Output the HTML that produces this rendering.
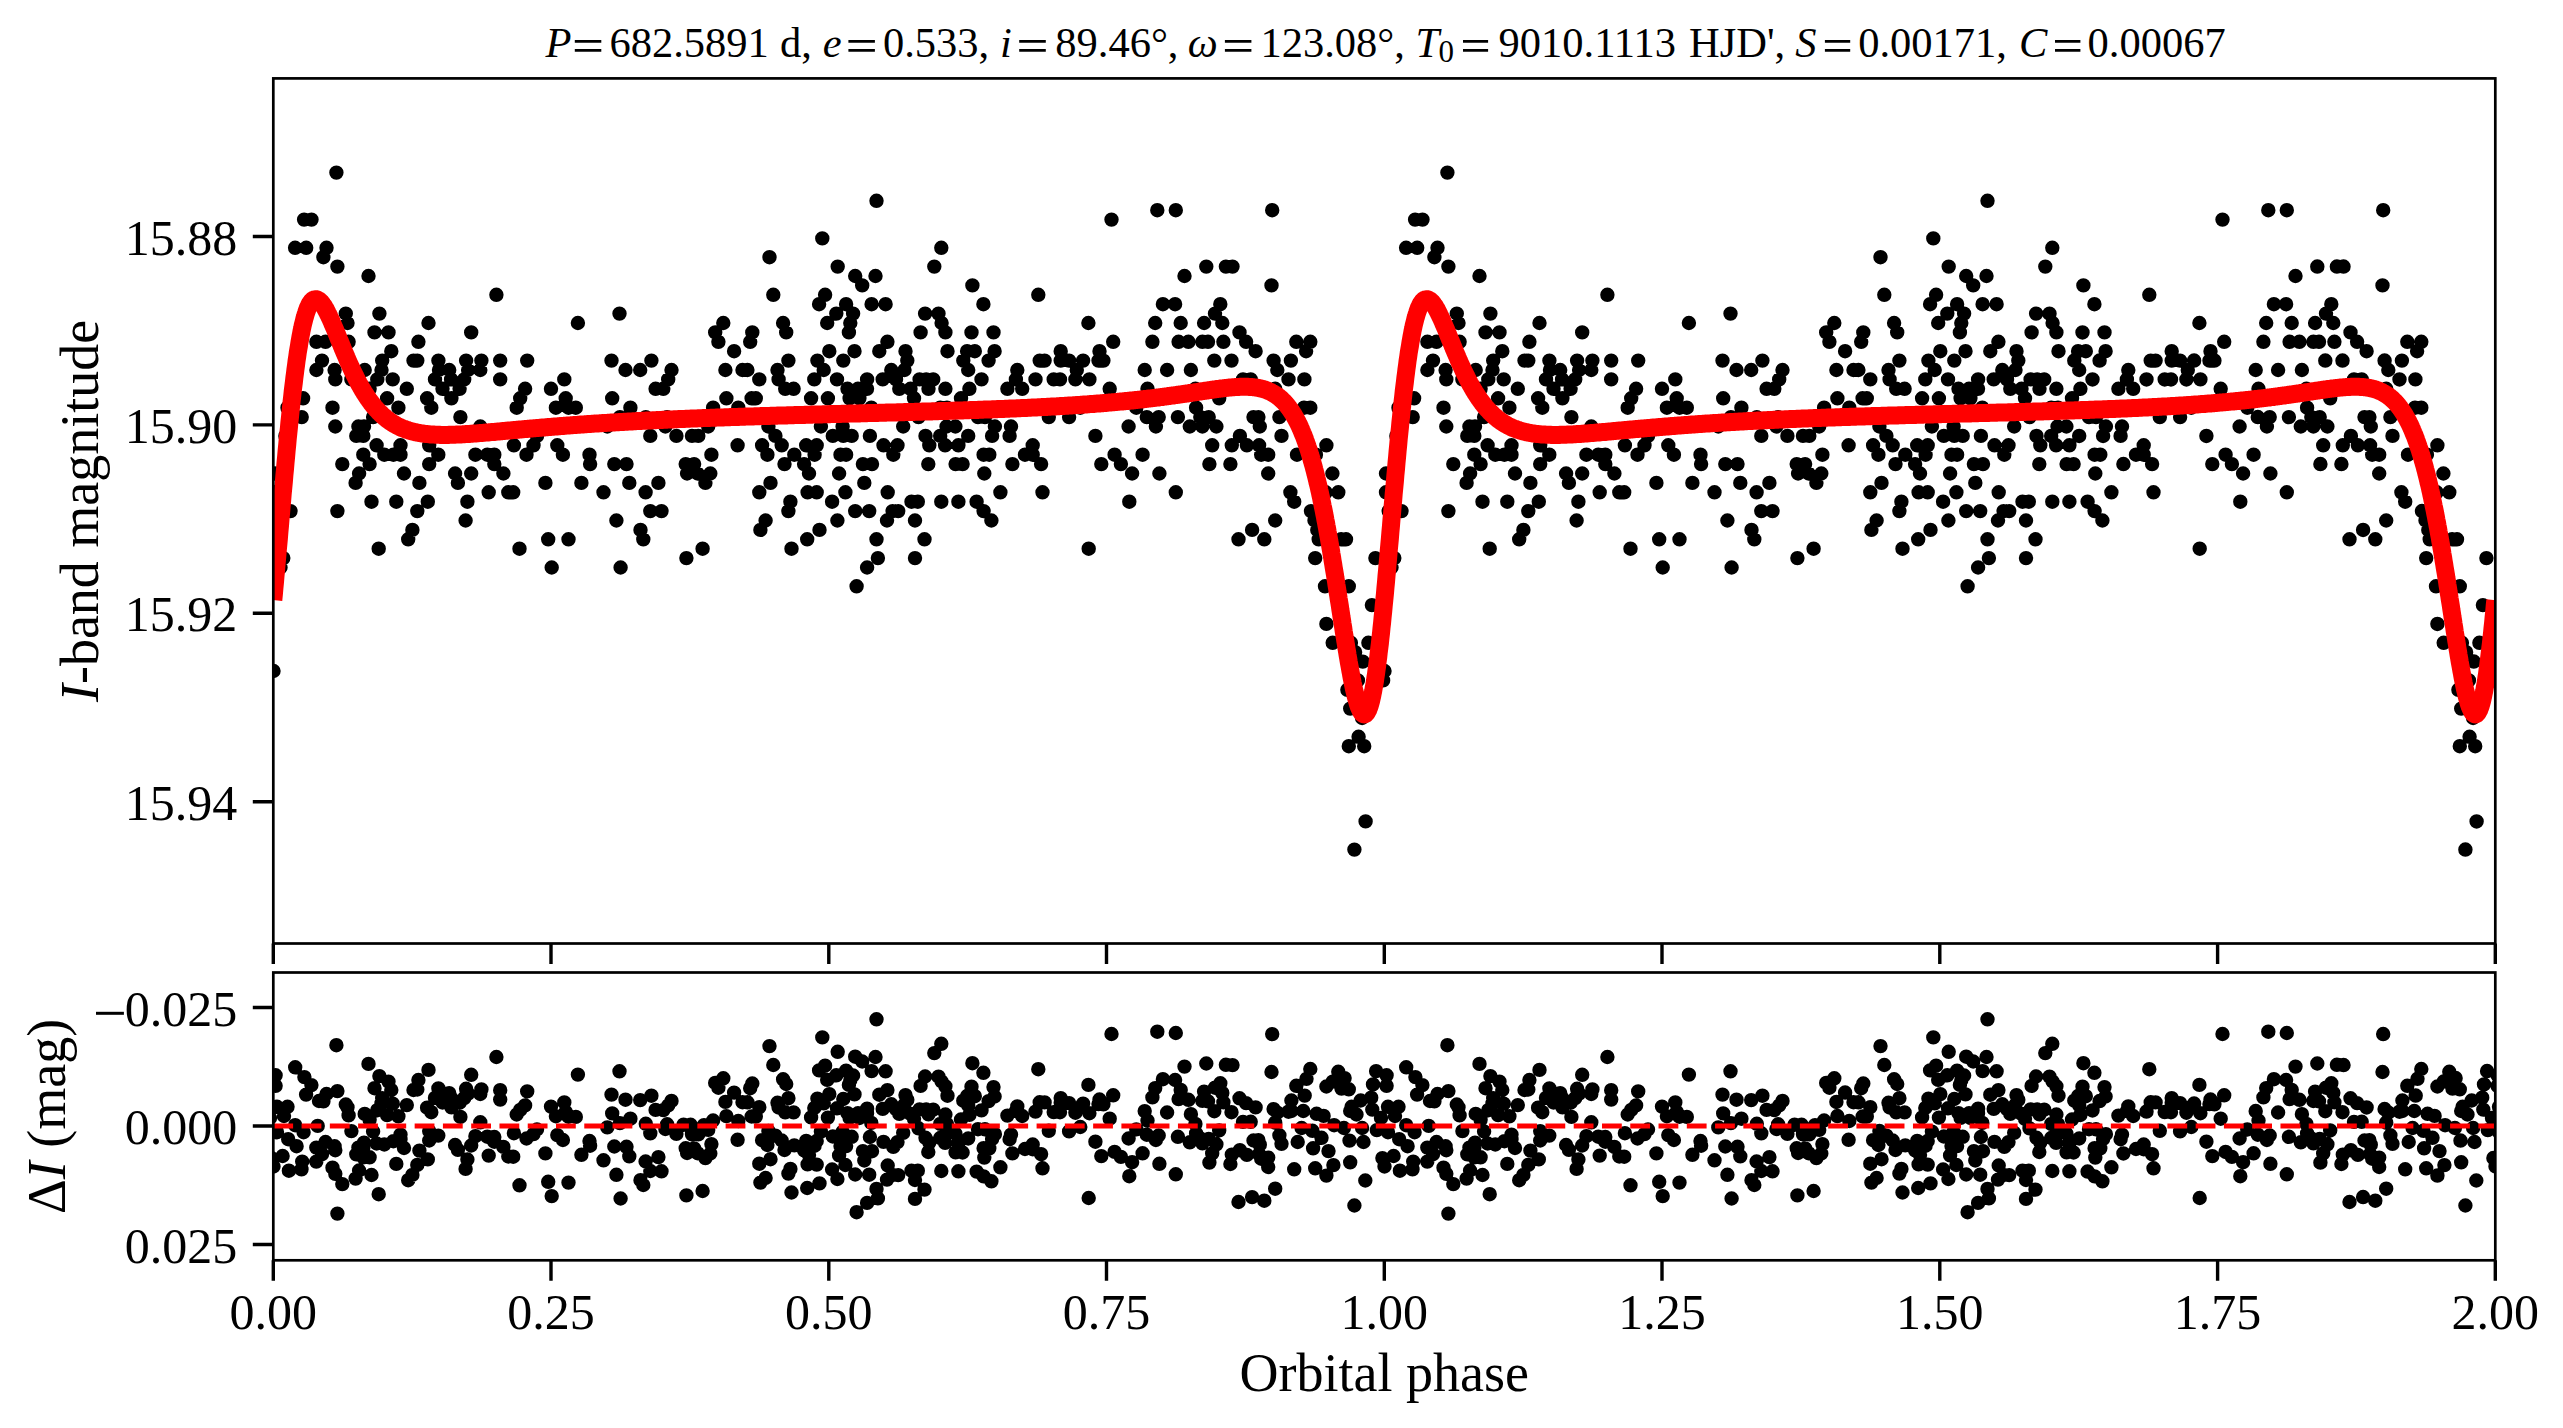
<!DOCTYPE html><html><head><meta charset="utf-8"><style>html,body{margin:0;padding:0;background:#fff;}svg{display:block}</style></head><body>
<svg width="2563" height="1428" viewBox="0 0 2563 1428" font-family="Liberation Serif">
<defs><clipPath id="ct"><rect x="273.3" y="78.4" width="2222.0" height="865.1"/></clipPath><clipPath id="cb"><rect x="273.3" y="972.5" width="2222.0" height="287.79999999999995"/></clipPath></defs>
<rect width="2563" height="1428" fill="#fff"/>
<path clip-path="url(#ct)" fill="#000" d="M329.2 172.6a7.2 7.2 0 1 0 14.4 0a7.2 7.2 0 1 0 -14.4 0M296.9 219.6a7.2 7.2 0 1 0 14.4 0a7.2 7.2 0 1 0 -14.4 0M304.3 219.6a7.2 7.2 0 1 0 14.4 0a7.2 7.2 0 1 0 -14.4 0M287.9 247.8a7.2 7.2 0 1 0 14.4 0a7.2 7.2 0 1 0 -14.4 0M299.0 247.8a7.2 7.2 0 1 0 14.4 0a7.2 7.2 0 1 0 -14.4 0M319.3 247.8a7.2 7.2 0 1 0 14.4 0a7.2 7.2 0 1 0 -14.4 0M316.2 257.2a7.2 7.2 0 1 0 14.4 0a7.2 7.2 0 1 0 -14.4 0M330.2 266.6a7.2 7.2 0 1 0 14.4 0a7.2 7.2 0 1 0 -14.4 0M361.3 276.0a7.2 7.2 0 1 0 14.4 0a7.2 7.2 0 1 0 -14.4 0M489.2 294.8a7.2 7.2 0 1 0 14.4 0a7.2 7.2 0 1 0 -14.4 0M338.6 313.6a7.2 7.2 0 1 0 14.4 0a7.2 7.2 0 1 0 -14.4 0M372.2 313.6a7.2 7.2 0 1 0 14.4 0a7.2 7.2 0 1 0 -14.4 0M340.3 323.0a7.2 7.2 0 1 0 14.4 0a7.2 7.2 0 1 0 -14.4 0M421.3 323.0a7.2 7.2 0 1 0 14.4 0a7.2 7.2 0 1 0 -14.4 0M367.3 332.4a7.2 7.2 0 1 0 14.4 0a7.2 7.2 0 1 0 -14.4 0M381.3 332.4a7.2 7.2 0 1 0 14.4 0a7.2 7.2 0 1 0 -14.4 0M464.0 332.4a7.2 7.2 0 1 0 14.4 0a7.2 7.2 0 1 0 -14.4 0M309.2 341.8a7.2 7.2 0 1 0 14.4 0a7.2 7.2 0 1 0 -14.4 0M318.3 341.8a7.2 7.2 0 1 0 14.4 0a7.2 7.2 0 1 0 -14.4 0M341.4 341.8a7.2 7.2 0 1 0 14.4 0a7.2 7.2 0 1 0 -14.4 0M411.2 341.8a7.2 7.2 0 1 0 14.4 0a7.2 7.2 0 1 0 -14.4 0M384.1 351.2a7.2 7.2 0 1 0 14.4 0a7.2 7.2 0 1 0 -14.4 0M570.7 323.0a7.2 7.2 0 1 0 14.4 0a7.2 7.2 0 1 0 -14.4 0M612.3 313.6a7.2 7.2 0 1 0 14.4 0a7.2 7.2 0 1 0 -14.4 0M815.1 238.4a7.2 7.2 0 1 0 14.4 0a7.2 7.2 0 1 0 -14.4 0M762.3 257.2a7.2 7.2 0 1 0 14.4 0a7.2 7.2 0 1 0 -14.4 0M830.5 266.6a7.2 7.2 0 1 0 14.4 0a7.2 7.2 0 1 0 -14.4 0M848.0 276.0a7.2 7.2 0 1 0 14.4 0a7.2 7.2 0 1 0 -14.4 0M855.0 285.4a7.2 7.2 0 1 0 14.4 0a7.2 7.2 0 1 0 -14.4 0M766.1 294.8a7.2 7.2 0 1 0 14.4 0a7.2 7.2 0 1 0 -14.4 0M817.9 294.8a7.2 7.2 0 1 0 14.4 0a7.2 7.2 0 1 0 -14.4 0M811.9 304.2a7.2 7.2 0 1 0 14.4 0a7.2 7.2 0 1 0 -14.4 0M838.9 304.2a7.2 7.2 0 1 0 14.4 0a7.2 7.2 0 1 0 -14.4 0M829.1 313.6a7.2 7.2 0 1 0 14.4 0a7.2 7.2 0 1 0 -14.4 0M845.9 313.6a7.2 7.2 0 1 0 14.4 0a7.2 7.2 0 1 0 -14.4 0M716.1 323.0a7.2 7.2 0 1 0 14.4 0a7.2 7.2 0 1 0 -14.4 0M775.9 323.0a7.2 7.2 0 1 0 14.4 0a7.2 7.2 0 1 0 -14.4 0M820.0 323.0a7.2 7.2 0 1 0 14.4 0a7.2 7.2 0 1 0 -14.4 0M843.1 323.0a7.2 7.2 0 1 0 14.4 0a7.2 7.2 0 1 0 -14.4 0M708.0 332.4a7.2 7.2 0 1 0 14.4 0a7.2 7.2 0 1 0 -14.4 0M745.1 332.4a7.2 7.2 0 1 0 14.4 0a7.2 7.2 0 1 0 -14.4 0M779.0 332.4a7.2 7.2 0 1 0 14.4 0a7.2 7.2 0 1 0 -14.4 0M841.7 332.4a7.2 7.2 0 1 0 14.4 0a7.2 7.2 0 1 0 -14.4 0M711.2 341.8a7.2 7.2 0 1 0 14.4 0a7.2 7.2 0 1 0 -14.4 0M743.0 341.8a7.2 7.2 0 1 0 14.4 0a7.2 7.2 0 1 0 -14.4 0M726.9 351.2a7.2 7.2 0 1 0 14.4 0a7.2 7.2 0 1 0 -14.4 0M822.1 351.2a7.2 7.2 0 1 0 14.4 0a7.2 7.2 0 1 0 -14.4 0M847.3 351.2a7.2 7.2 0 1 0 14.4 0a7.2 7.2 0 1 0 -14.4 0M869.3 200.8a7.2 7.2 0 1 0 14.4 0a7.2 7.2 0 1 0 -14.4 0M868.3 276.0a7.2 7.2 0 1 0 14.4 0a7.2 7.2 0 1 0 -14.4 0M864.4 304.2a7.2 7.2 0 1 0 14.4 0a7.2 7.2 0 1 0 -14.4 0M878.4 304.2a7.2 7.2 0 1 0 14.4 0a7.2 7.2 0 1 0 -14.4 0M934.1 247.8a7.2 7.2 0 1 0 14.4 0a7.2 7.2 0 1 0 -14.4 0M927.1 266.6a7.2 7.2 0 1 0 14.4 0a7.2 7.2 0 1 0 -14.4 0M965.2 285.4a7.2 7.2 0 1 0 14.4 0a7.2 7.2 0 1 0 -14.4 0M1031.1 294.8a7.2 7.2 0 1 0 14.4 0a7.2 7.2 0 1 0 -14.4 0M976.2 304.2a7.2 7.2 0 1 0 14.4 0a7.2 7.2 0 1 0 -14.4 0M1104.3 219.6a7.2 7.2 0 1 0 14.4 0a7.2 7.2 0 1 0 -14.4 0M1150.1 210.2a7.2 7.2 0 1 0 14.4 0a7.2 7.2 0 1 0 -14.4 0M917.9 313.6a7.2 7.2 0 1 0 14.4 0a7.2 7.2 0 1 0 -14.4 0M931.3 313.6a7.2 7.2 0 1 0 14.4 0a7.2 7.2 0 1 0 -14.4 0M934.4 323.0a7.2 7.2 0 1 0 14.4 0a7.2 7.2 0 1 0 -14.4 0M1081.2 323.0a7.2 7.2 0 1 0 14.4 0a7.2 7.2 0 1 0 -14.4 0M1148.0 323.0a7.2 7.2 0 1 0 14.4 0a7.2 7.2 0 1 0 -14.4 0M1155.7 304.2a7.2 7.2 0 1 0 14.4 0a7.2 7.2 0 1 0 -14.4 0M913.4 332.4a7.2 7.2 0 1 0 14.4 0a7.2 7.2 0 1 0 -14.4 0M938.2 332.4a7.2 7.2 0 1 0 14.4 0a7.2 7.2 0 1 0 -14.4 0M964.3 332.4a7.2 7.2 0 1 0 14.4 0a7.2 7.2 0 1 0 -14.4 0M986.3 332.4a7.2 7.2 0 1 0 14.4 0a7.2 7.2 0 1 0 -14.4 0M880.2 341.8a7.2 7.2 0 1 0 14.4 0a7.2 7.2 0 1 0 -14.4 0M1106.0 341.8a7.2 7.2 0 1 0 14.4 0a7.2 7.2 0 1 0 -14.4 0M1145.2 341.8a7.2 7.2 0 1 0 14.4 0a7.2 7.2 0 1 0 -14.4 0M872.1 351.2a7.2 7.2 0 1 0 14.4 0a7.2 7.2 0 1 0 -14.4 0M898.3 351.2a7.2 7.2 0 1 0 14.4 0a7.2 7.2 0 1 0 -14.4 0M940.3 351.2a7.2 7.2 0 1 0 14.4 0a7.2 7.2 0 1 0 -14.4 0M959.9 351.2a7.2 7.2 0 1 0 14.4 0a7.2 7.2 0 1 0 -14.4 0M967.6 351.2a7.2 7.2 0 1 0 14.4 0a7.2 7.2 0 1 0 -14.4 0M987.4 351.2a7.2 7.2 0 1 0 14.4 0a7.2 7.2 0 1 0 -14.4 0M1053.5 351.2a7.2 7.2 0 1 0 14.4 0a7.2 7.2 0 1 0 -14.4 0M1092.3 351.2a7.2 7.2 0 1 0 14.4 0a7.2 7.2 0 1 0 -14.4 0M1168.6 210.2a7.2 7.2 0 1 0 14.4 0a7.2 7.2 0 1 0 -14.4 0M1265.0 210.2a7.2 7.2 0 1 0 14.4 0a7.2 7.2 0 1 0 -14.4 0M1177.3 276.0a7.2 7.2 0 1 0 14.4 0a7.2 7.2 0 1 0 -14.4 0M1199.1 266.6a7.2 7.2 0 1 0 14.4 0a7.2 7.2 0 1 0 -14.4 0M1218.7 266.6a7.2 7.2 0 1 0 14.4 0a7.2 7.2 0 1 0 -14.4 0M1225.3 266.6a7.2 7.2 0 1 0 14.4 0a7.2 7.2 0 1 0 -14.4 0M1264.3 285.4a7.2 7.2 0 1 0 14.4 0a7.2 7.2 0 1 0 -14.4 0M1167.9 304.2a7.2 7.2 0 1 0 14.4 0a7.2 7.2 0 1 0 -14.4 0M1213.1 304.2a7.2 7.2 0 1 0 14.4 0a7.2 7.2 0 1 0 -14.4 0M1207.8 313.6a7.2 7.2 0 1 0 14.4 0a7.2 7.2 0 1 0 -14.4 0M1173.5 323.0a7.2 7.2 0 1 0 14.4 0a7.2 7.2 0 1 0 -14.4 0M1196.9 323.0a7.2 7.2 0 1 0 14.4 0a7.2 7.2 0 1 0 -14.4 0M1215.1 323.0a7.2 7.2 0 1 0 14.4 0a7.2 7.2 0 1 0 -14.4 0M1232.3 332.4a7.2 7.2 0 1 0 14.4 0a7.2 7.2 0 1 0 -14.4 0M1171.4 341.8a7.2 7.2 0 1 0 14.4 0a7.2 7.2 0 1 0 -14.4 0M1181.2 341.8a7.2 7.2 0 1 0 14.4 0a7.2 7.2 0 1 0 -14.4 0M1195.2 341.8a7.2 7.2 0 1 0 14.4 0a7.2 7.2 0 1 0 -14.4 0M1200.8 341.8a7.2 7.2 0 1 0 14.4 0a7.2 7.2 0 1 0 -14.4 0M1216.2 341.8a7.2 7.2 0 1 0 14.4 0a7.2 7.2 0 1 0 -14.4 0M1238.9 341.8a7.2 7.2 0 1 0 14.4 0a7.2 7.2 0 1 0 -14.4 0M1248.4 351.2a7.2 7.2 0 1 0 14.4 0a7.2 7.2 0 1 0 -14.4 0M1289.1 341.8a7.2 7.2 0 1 0 14.4 0a7.2 7.2 0 1 0 -14.4 0M1303.1 341.8a7.2 7.2 0 1 0 14.4 0a7.2 7.2 0 1 0 -14.4 0M1298.9 351.2a7.2 7.2 0 1 0 14.4 0a7.2 7.2 0 1 0 -14.4 0M314.8 360.6a7.2 7.2 0 1 0 14.4 0a7.2 7.2 0 1 0 -14.4 0M375.0 360.6a7.2 7.2 0 1 0 14.4 0a7.2 7.2 0 1 0 -14.4 0M406.3 360.6a7.2 7.2 0 1 0 14.4 0a7.2 7.2 0 1 0 -14.4 0M410.1 360.6a7.2 7.2 0 1 0 14.4 0a7.2 7.2 0 1 0 -14.4 0M431.2 360.6a7.2 7.2 0 1 0 14.4 0a7.2 7.2 0 1 0 -14.4 0M458.9 360.6a7.2 7.2 0 1 0 14.4 0a7.2 7.2 0 1 0 -14.4 0M474.2 360.6a7.2 7.2 0 1 0 14.4 0a7.2 7.2 0 1 0 -14.4 0M493.0 360.6a7.2 7.2 0 1 0 14.4 0a7.2 7.2 0 1 0 -14.4 0M520.0 360.6a7.2 7.2 0 1 0 14.4 0a7.2 7.2 0 1 0 -14.4 0M309.2 370.0a7.2 7.2 0 1 0 14.4 0a7.2 7.2 0 1 0 -14.4 0M327.4 370.0a7.2 7.2 0 1 0 14.4 0a7.2 7.2 0 1 0 -14.4 0M357.5 370.0a7.2 7.2 0 1 0 14.4 0a7.2 7.2 0 1 0 -14.4 0M374.3 370.0a7.2 7.2 0 1 0 14.4 0a7.2 7.2 0 1 0 -14.4 0M431.8 370.0a7.2 7.2 0 1 0 14.4 0a7.2 7.2 0 1 0 -14.4 0M442.0 370.0a7.2 7.2 0 1 0 14.4 0a7.2 7.2 0 1 0 -14.4 0M460.9 370.0a7.2 7.2 0 1 0 14.4 0a7.2 7.2 0 1 0 -14.4 0M473.1 370.0a7.2 7.2 0 1 0 14.4 0a7.2 7.2 0 1 0 -14.4 0M328.1 379.4a7.2 7.2 0 1 0 14.4 0a7.2 7.2 0 1 0 -14.4 0M344.2 379.4a7.2 7.2 0 1 0 14.4 0a7.2 7.2 0 1 0 -14.4 0M370.1 379.4a7.2 7.2 0 1 0 14.4 0a7.2 7.2 0 1 0 -14.4 0M385.5 379.4a7.2 7.2 0 1 0 14.4 0a7.2 7.2 0 1 0 -14.4 0M427.8 379.4a7.2 7.2 0 1 0 14.4 0a7.2 7.2 0 1 0 -14.4 0M443.9 379.4a7.2 7.2 0 1 0 14.4 0a7.2 7.2 0 1 0 -14.4 0M457.0 379.4a7.2 7.2 0 1 0 14.4 0a7.2 7.2 0 1 0 -14.4 0M493.0 379.4a7.2 7.2 0 1 0 14.4 0a7.2 7.2 0 1 0 -14.4 0M557.1 379.4a7.2 7.2 0 1 0 14.4 0a7.2 7.2 0 1 0 -14.4 0M362.4 388.8a7.2 7.2 0 1 0 14.4 0a7.2 7.2 0 1 0 -14.4 0M399.6 388.8a7.2 7.2 0 1 0 14.4 0a7.2 7.2 0 1 0 -14.4 0M435.3 388.8a7.2 7.2 0 1 0 14.4 0a7.2 7.2 0 1 0 -14.4 0M452.4 388.8a7.2 7.2 0 1 0 14.4 0a7.2 7.2 0 1 0 -14.4 0M517.9 388.8a7.2 7.2 0 1 0 14.4 0a7.2 7.2 0 1 0 -14.4 0M543.8 388.8a7.2 7.2 0 1 0 14.4 0a7.2 7.2 0 1 0 -14.4 0M295.9 398.3a7.2 7.2 0 1 0 14.4 0a7.2 7.2 0 1 0 -14.4 0M379.9 398.3a7.2 7.2 0 1 0 14.4 0a7.2 7.2 0 1 0 -14.4 0M419.9 398.3a7.2 7.2 0 1 0 14.4 0a7.2 7.2 0 1 0 -14.4 0M444.2 398.3a7.2 7.2 0 1 0 14.4 0a7.2 7.2 0 1 0 -14.4 0M513.0 398.3a7.2 7.2 0 1 0 14.4 0a7.2 7.2 0 1 0 -14.4 0M558.5 398.3a7.2 7.2 0 1 0 14.4 0a7.2 7.2 0 1 0 -14.4 0M325.3 407.7a7.2 7.2 0 1 0 14.4 0a7.2 7.2 0 1 0 -14.4 0M391.2 407.7a7.2 7.2 0 1 0 14.4 0a7.2 7.2 0 1 0 -14.4 0M424.1 407.7a7.2 7.2 0 1 0 14.4 0a7.2 7.2 0 1 0 -14.4 0M509.5 407.7a7.2 7.2 0 1 0 14.4 0a7.2 7.2 0 1 0 -14.4 0M548.7 407.7a7.2 7.2 0 1 0 14.4 0a7.2 7.2 0 1 0 -14.4 0M561.3 407.7a7.2 7.2 0 1 0 14.4 0a7.2 7.2 0 1 0 -14.4 0M294.5 417.1a7.2 7.2 0 1 0 14.4 0a7.2 7.2 0 1 0 -14.4 0M365.9 417.1a7.2 7.2 0 1 0 14.4 0a7.2 7.2 0 1 0 -14.4 0M453.2 417.1a7.2 7.2 0 1 0 14.4 0a7.2 7.2 0 1 0 -14.4 0M328.1 426.5a7.2 7.2 0 1 0 14.4 0a7.2 7.2 0 1 0 -14.4 0M351.2 426.5a7.2 7.2 0 1 0 14.4 0a7.2 7.2 0 1 0 -14.4 0M356.8 426.5a7.2 7.2 0 1 0 14.4 0a7.2 7.2 0 1 0 -14.4 0M473.1 426.5a7.2 7.2 0 1 0 14.4 0a7.2 7.2 0 1 0 -14.4 0M349.1 435.9a7.2 7.2 0 1 0 14.4 0a7.2 7.2 0 1 0 -14.4 0M356.1 435.9a7.2 7.2 0 1 0 14.4 0a7.2 7.2 0 1 0 -14.4 0M529.8 435.9a7.2 7.2 0 1 0 14.4 0a7.2 7.2 0 1 0 -14.4 0M369.4 445.3a7.2 7.2 0 1 0 14.4 0a7.2 7.2 0 1 0 -14.4 0M393.3 445.3a7.2 7.2 0 1 0 14.4 0a7.2 7.2 0 1 0 -14.4 0M422.0 445.3a7.2 7.2 0 1 0 14.4 0a7.2 7.2 0 1 0 -14.4 0M506.7 445.3a7.2 7.2 0 1 0 14.4 0a7.2 7.2 0 1 0 -14.4 0M526.3 445.3a7.2 7.2 0 1 0 14.4 0a7.2 7.2 0 1 0 -14.4 0M550.1 445.3a7.2 7.2 0 1 0 14.4 0a7.2 7.2 0 1 0 -14.4 0M356.1 454.7a7.2 7.2 0 1 0 14.4 0a7.2 7.2 0 1 0 -14.4 0M377.1 454.7a7.2 7.2 0 1 0 14.4 0a7.2 7.2 0 1 0 -14.4 0M386.2 454.7a7.2 7.2 0 1 0 14.4 0a7.2 7.2 0 1 0 -14.4 0M393.3 454.7a7.2 7.2 0 1 0 14.4 0a7.2 7.2 0 1 0 -14.4 0M431.1 454.7a7.2 7.2 0 1 0 14.4 0a7.2 7.2 0 1 0 -14.4 0M468.2 454.7a7.2 7.2 0 1 0 14.4 0a7.2 7.2 0 1 0 -14.4 0M480.1 454.7a7.2 7.2 0 1 0 14.4 0a7.2 7.2 0 1 0 -14.4 0M487.1 454.7a7.2 7.2 0 1 0 14.4 0a7.2 7.2 0 1 0 -14.4 0M519.3 454.7a7.2 7.2 0 1 0 14.4 0a7.2 7.2 0 1 0 -14.4 0M555.7 454.7a7.2 7.2 0 1 0 14.4 0a7.2 7.2 0 1 0 -14.4 0M335.1 464.1a7.2 7.2 0 1 0 14.4 0a7.2 7.2 0 1 0 -14.4 0M362.4 464.1a7.2 7.2 0 1 0 14.4 0a7.2 7.2 0 1 0 -14.4 0M422.0 464.1a7.2 7.2 0 1 0 14.4 0a7.2 7.2 0 1 0 -14.4 0M487.1 464.1a7.2 7.2 0 1 0 14.4 0a7.2 7.2 0 1 0 -14.4 0M351.9 473.5a7.2 7.2 0 1 0 14.4 0a7.2 7.2 0 1 0 -14.4 0M396.8 473.5a7.2 7.2 0 1 0 14.4 0a7.2 7.2 0 1 0 -14.4 0M447.9 473.5a7.2 7.2 0 1 0 14.4 0a7.2 7.2 0 1 0 -14.4 0M464.0 473.5a7.2 7.2 0 1 0 14.4 0a7.2 7.2 0 1 0 -14.4 0M496.2 473.5a7.2 7.2 0 1 0 14.4 0a7.2 7.2 0 1 0 -14.4 0M348.4 482.9a7.2 7.2 0 1 0 14.4 0a7.2 7.2 0 1 0 -14.4 0M412.2 482.9a7.2 7.2 0 1 0 14.4 0a7.2 7.2 0 1 0 -14.4 0M450.7 482.9a7.2 7.2 0 1 0 14.4 0a7.2 7.2 0 1 0 -14.4 0M538.2 482.9a7.2 7.2 0 1 0 14.4 0a7.2 7.2 0 1 0 -14.4 0M481.5 492.3a7.2 7.2 0 1 0 14.4 0a7.2 7.2 0 1 0 -14.4 0M501.1 492.3a7.2 7.2 0 1 0 14.4 0a7.2 7.2 0 1 0 -14.4 0M506.0 492.3a7.2 7.2 0 1 0 14.4 0a7.2 7.2 0 1 0 -14.4 0M364.3 501.7a7.2 7.2 0 1 0 14.4 0a7.2 7.2 0 1 0 -14.4 0M389.1 501.7a7.2 7.2 0 1 0 14.4 0a7.2 7.2 0 1 0 -14.4 0M420.6 501.7a7.2 7.2 0 1 0 14.4 0a7.2 7.2 0 1 0 -14.4 0M460.2 501.7a7.2 7.2 0 1 0 14.4 0a7.2 7.2 0 1 0 -14.4 0M283.3 511.1a7.2 7.2 0 1 0 14.4 0a7.2 7.2 0 1 0 -14.4 0M330.2 511.1a7.2 7.2 0 1 0 14.4 0a7.2 7.2 0 1 0 -14.4 0M410.1 511.1a7.2 7.2 0 1 0 14.4 0a7.2 7.2 0 1 0 -14.4 0M458.4 520.5a7.2 7.2 0 1 0 14.4 0a7.2 7.2 0 1 0 -14.4 0M405.2 529.9a7.2 7.2 0 1 0 14.4 0a7.2 7.2 0 1 0 -14.4 0M401.0 539.3a7.2 7.2 0 1 0 14.4 0a7.2 7.2 0 1 0 -14.4 0M541.0 539.3a7.2 7.2 0 1 0 14.4 0a7.2 7.2 0 1 0 -14.4 0M561.3 539.3a7.2 7.2 0 1 0 14.4 0a7.2 7.2 0 1 0 -14.4 0M371.5 548.7a7.2 7.2 0 1 0 14.4 0a7.2 7.2 0 1 0 -14.4 0M512.3 548.7a7.2 7.2 0 1 0 14.4 0a7.2 7.2 0 1 0 -14.4 0M604.3 360.6a7.2 7.2 0 1 0 14.4 0a7.2 7.2 0 1 0 -14.4 0M644.2 360.6a7.2 7.2 0 1 0 14.4 0a7.2 7.2 0 1 0 -14.4 0M781.2 360.6a7.2 7.2 0 1 0 14.4 0a7.2 7.2 0 1 0 -14.4 0M810.2 360.6a7.2 7.2 0 1 0 14.4 0a7.2 7.2 0 1 0 -14.4 0M836.1 360.6a7.2 7.2 0 1 0 14.4 0a7.2 7.2 0 1 0 -14.4 0M618.3 370.0a7.2 7.2 0 1 0 14.4 0a7.2 7.2 0 1 0 -14.4 0M633.0 370.0a7.2 7.2 0 1 0 14.4 0a7.2 7.2 0 1 0 -14.4 0M664.3 370.0a7.2 7.2 0 1 0 14.4 0a7.2 7.2 0 1 0 -14.4 0M718.2 370.0a7.2 7.2 0 1 0 14.4 0a7.2 7.2 0 1 0 -14.4 0M735.3 370.0a7.2 7.2 0 1 0 14.4 0a7.2 7.2 0 1 0 -14.4 0M740.2 370.0a7.2 7.2 0 1 0 14.4 0a7.2 7.2 0 1 0 -14.4 0M770.3 370.0a7.2 7.2 0 1 0 14.4 0a7.2 7.2 0 1 0 -14.4 0M816.5 370.0a7.2 7.2 0 1 0 14.4 0a7.2 7.2 0 1 0 -14.4 0M661.0 379.4a7.2 7.2 0 1 0 14.4 0a7.2 7.2 0 1 0 -14.4 0M752.1 379.4a7.2 7.2 0 1 0 14.4 0a7.2 7.2 0 1 0 -14.4 0M771.4 379.4a7.2 7.2 0 1 0 14.4 0a7.2 7.2 0 1 0 -14.4 0M807.1 379.4a7.2 7.2 0 1 0 14.4 0a7.2 7.2 0 1 0 -14.4 0M829.8 379.4a7.2 7.2 0 1 0 14.4 0a7.2 7.2 0 1 0 -14.4 0M859.9 379.4a7.2 7.2 0 1 0 14.4 0a7.2 7.2 0 1 0 -14.4 0M648.4 388.8a7.2 7.2 0 1 0 14.4 0a7.2 7.2 0 1 0 -14.4 0M656.1 388.8a7.2 7.2 0 1 0 14.4 0a7.2 7.2 0 1 0 -14.4 0M778.0 388.8a7.2 7.2 0 1 0 14.4 0a7.2 7.2 0 1 0 -14.4 0M786.4 388.8a7.2 7.2 0 1 0 14.4 0a7.2 7.2 0 1 0 -14.4 0M840.3 388.8a7.2 7.2 0 1 0 14.4 0a7.2 7.2 0 1 0 -14.4 0M850.8 388.8a7.2 7.2 0 1 0 14.4 0a7.2 7.2 0 1 0 -14.4 0M605.0 398.3a7.2 7.2 0 1 0 14.4 0a7.2 7.2 0 1 0 -14.4 0M719.2 398.3a7.2 7.2 0 1 0 14.4 0a7.2 7.2 0 1 0 -14.4 0M744.4 398.3a7.2 7.2 0 1 0 14.4 0a7.2 7.2 0 1 0 -14.4 0M748.6 398.3a7.2 7.2 0 1 0 14.4 0a7.2 7.2 0 1 0 -14.4 0M803.9 398.3a7.2 7.2 0 1 0 14.4 0a7.2 7.2 0 1 0 -14.4 0M820.7 398.3a7.2 7.2 0 1 0 14.4 0a7.2 7.2 0 1 0 -14.4 0M842.4 398.3a7.2 7.2 0 1 0 14.4 0a7.2 7.2 0 1 0 -14.4 0M852.2 398.3a7.2 7.2 0 1 0 14.4 0a7.2 7.2 0 1 0 -14.4 0M568.6 407.7a7.2 7.2 0 1 0 14.4 0a7.2 7.2 0 1 0 -14.4 0M623.2 407.7a7.2 7.2 0 1 0 14.4 0a7.2 7.2 0 1 0 -14.4 0M705.9 407.7a7.2 7.2 0 1 0 14.4 0a7.2 7.2 0 1 0 -14.4 0M731.1 407.7a7.2 7.2 0 1 0 14.4 0a7.2 7.2 0 1 0 -14.4 0M864.1 407.7a7.2 7.2 0 1 0 14.4 0a7.2 7.2 0 1 0 -14.4 0M612.7 417.1a7.2 7.2 0 1 0 14.4 0a7.2 7.2 0 1 0 -14.4 0M638.6 417.1a7.2 7.2 0 1 0 14.4 0a7.2 7.2 0 1 0 -14.4 0M659.9 417.1a7.2 7.2 0 1 0 14.4 0a7.2 7.2 0 1 0 -14.4 0M676.4 417.1a7.2 7.2 0 1 0 14.4 0a7.2 7.2 0 1 0 -14.4 0M683.4 417.1a7.2 7.2 0 1 0 14.4 0a7.2 7.2 0 1 0 -14.4 0M696.8 417.1a7.2 7.2 0 1 0 14.4 0a7.2 7.2 0 1 0 -14.4 0M600.1 426.5a7.2 7.2 0 1 0 14.4 0a7.2 7.2 0 1 0 -14.4 0M658.2 426.5a7.2 7.2 0 1 0 14.4 0a7.2 7.2 0 1 0 -14.4 0M701.0 426.5a7.2 7.2 0 1 0 14.4 0a7.2 7.2 0 1 0 -14.4 0M761.2 426.5a7.2 7.2 0 1 0 14.4 0a7.2 7.2 0 1 0 -14.4 0M813.7 426.5a7.2 7.2 0 1 0 14.4 0a7.2 7.2 0 1 0 -14.4 0M835.4 426.5a7.2 7.2 0 1 0 14.4 0a7.2 7.2 0 1 0 -14.4 0M643.1 435.9a7.2 7.2 0 1 0 14.4 0a7.2 7.2 0 1 0 -14.4 0M669.2 435.9a7.2 7.2 0 1 0 14.4 0a7.2 7.2 0 1 0 -14.4 0M684.8 435.9a7.2 7.2 0 1 0 14.4 0a7.2 7.2 0 1 0 -14.4 0M691.1 435.9a7.2 7.2 0 1 0 14.4 0a7.2 7.2 0 1 0 -14.4 0M768.2 435.9a7.2 7.2 0 1 0 14.4 0a7.2 7.2 0 1 0 -14.4 0M825.6 435.9a7.2 7.2 0 1 0 14.4 0a7.2 7.2 0 1 0 -14.4 0M836.1 435.9a7.2 7.2 0 1 0 14.4 0a7.2 7.2 0 1 0 -14.4 0M844.5 435.9a7.2 7.2 0 1 0 14.4 0a7.2 7.2 0 1 0 -14.4 0M862.7 435.9a7.2 7.2 0 1 0 14.4 0a7.2 7.2 0 1 0 -14.4 0M730.4 445.3a7.2 7.2 0 1 0 14.4 0a7.2 7.2 0 1 0 -14.4 0M754.9 445.3a7.2 7.2 0 1 0 14.4 0a7.2 7.2 0 1 0 -14.4 0M774.5 445.3a7.2 7.2 0 1 0 14.4 0a7.2 7.2 0 1 0 -14.4 0M799.0 445.3a7.2 7.2 0 1 0 14.4 0a7.2 7.2 0 1 0 -14.4 0M809.5 445.3a7.2 7.2 0 1 0 14.4 0a7.2 7.2 0 1 0 -14.4 0M582.3 454.7a7.2 7.2 0 1 0 14.4 0a7.2 7.2 0 1 0 -14.4 0M704.2 454.7a7.2 7.2 0 1 0 14.4 0a7.2 7.2 0 1 0 -14.4 0M760.2 454.7a7.2 7.2 0 1 0 14.4 0a7.2 7.2 0 1 0 -14.4 0M787.1 454.7a7.2 7.2 0 1 0 14.4 0a7.2 7.2 0 1 0 -14.4 0M807.4 454.7a7.2 7.2 0 1 0 14.4 0a7.2 7.2 0 1 0 -14.4 0M833.3 454.7a7.2 7.2 0 1 0 14.4 0a7.2 7.2 0 1 0 -14.4 0M838.9 454.7a7.2 7.2 0 1 0 14.4 0a7.2 7.2 0 1 0 -14.4 0M582.9 464.1a7.2 7.2 0 1 0 14.4 0a7.2 7.2 0 1 0 -14.4 0M607.1 464.1a7.2 7.2 0 1 0 14.4 0a7.2 7.2 0 1 0 -14.4 0M619.3 464.1a7.2 7.2 0 1 0 14.4 0a7.2 7.2 0 1 0 -14.4 0M678.5 464.1a7.2 7.2 0 1 0 14.4 0a7.2 7.2 0 1 0 -14.4 0M686.9 464.1a7.2 7.2 0 1 0 14.4 0a7.2 7.2 0 1 0 -14.4 0M777.3 464.1a7.2 7.2 0 1 0 14.4 0a7.2 7.2 0 1 0 -14.4 0M796.9 464.1a7.2 7.2 0 1 0 14.4 0a7.2 7.2 0 1 0 -14.4 0M855.7 464.1a7.2 7.2 0 1 0 14.4 0a7.2 7.2 0 1 0 -14.4 0M864.8 464.1a7.2 7.2 0 1 0 14.4 0a7.2 7.2 0 1 0 -14.4 0M679.9 473.5a7.2 7.2 0 1 0 14.4 0a7.2 7.2 0 1 0 -14.4 0M690.4 473.5a7.2 7.2 0 1 0 14.4 0a7.2 7.2 0 1 0 -14.4 0M703.1 473.5a7.2 7.2 0 1 0 14.4 0a7.2 7.2 0 1 0 -14.4 0M801.8 473.5a7.2 7.2 0 1 0 14.4 0a7.2 7.2 0 1 0 -14.4 0M831.9 473.5a7.2 7.2 0 1 0 14.4 0a7.2 7.2 0 1 0 -14.4 0M574.2 482.9a7.2 7.2 0 1 0 14.4 0a7.2 7.2 0 1 0 -14.4 0M622.1 482.9a7.2 7.2 0 1 0 14.4 0a7.2 7.2 0 1 0 -14.4 0M651.2 482.9a7.2 7.2 0 1 0 14.4 0a7.2 7.2 0 1 0 -14.4 0M698.2 482.9a7.2 7.2 0 1 0 14.4 0a7.2 7.2 0 1 0 -14.4 0M763.3 482.9a7.2 7.2 0 1 0 14.4 0a7.2 7.2 0 1 0 -14.4 0M857.1 482.9a7.2 7.2 0 1 0 14.4 0a7.2 7.2 0 1 0 -14.4 0M596.3 492.3a7.2 7.2 0 1 0 14.4 0a7.2 7.2 0 1 0 -14.4 0M638.4 492.3a7.2 7.2 0 1 0 14.4 0a7.2 7.2 0 1 0 -14.4 0M752.1 492.3a7.2 7.2 0 1 0 14.4 0a7.2 7.2 0 1 0 -14.4 0M800.4 492.3a7.2 7.2 0 1 0 14.4 0a7.2 7.2 0 1 0 -14.4 0M809.5 492.3a7.2 7.2 0 1 0 14.4 0a7.2 7.2 0 1 0 -14.4 0M838.2 492.3a7.2 7.2 0 1 0 14.4 0a7.2 7.2 0 1 0 -14.4 0M783.2 501.7a7.2 7.2 0 1 0 14.4 0a7.2 7.2 0 1 0 -14.4 0M824.9 501.7a7.2 7.2 0 1 0 14.4 0a7.2 7.2 0 1 0 -14.4 0M643.1 511.1a7.2 7.2 0 1 0 14.4 0a7.2 7.2 0 1 0 -14.4 0M654.3 511.1a7.2 7.2 0 1 0 14.4 0a7.2 7.2 0 1 0 -14.4 0M781.2 511.1a7.2 7.2 0 1 0 14.4 0a7.2 7.2 0 1 0 -14.4 0M848.0 511.1a7.2 7.2 0 1 0 14.4 0a7.2 7.2 0 1 0 -14.4 0M862.0 511.1a7.2 7.2 0 1 0 14.4 0a7.2 7.2 0 1 0 -14.4 0M609.2 520.5a7.2 7.2 0 1 0 14.4 0a7.2 7.2 0 1 0 -14.4 0M758.4 520.5a7.2 7.2 0 1 0 14.4 0a7.2 7.2 0 1 0 -14.4 0M830.2 520.5a7.2 7.2 0 1 0 14.4 0a7.2 7.2 0 1 0 -14.4 0M633.3 529.9a7.2 7.2 0 1 0 14.4 0a7.2 7.2 0 1 0 -14.4 0M753.2 529.9a7.2 7.2 0 1 0 14.4 0a7.2 7.2 0 1 0 -14.4 0M812.3 529.9a7.2 7.2 0 1 0 14.4 0a7.2 7.2 0 1 0 -14.4 0M636.1 539.3a7.2 7.2 0 1 0 14.4 0a7.2 7.2 0 1 0 -14.4 0M800.0 539.3a7.2 7.2 0 1 0 14.4 0a7.2 7.2 0 1 0 -14.4 0M695.4 548.7a7.2 7.2 0 1 0 14.4 0a7.2 7.2 0 1 0 -14.4 0M784.3 548.7a7.2 7.2 0 1 0 14.4 0a7.2 7.2 0 1 0 -14.4 0M900.1 360.6a7.2 7.2 0 1 0 14.4 0a7.2 7.2 0 1 0 -14.4 0M956.1 360.6a7.2 7.2 0 1 0 14.4 0a7.2 7.2 0 1 0 -14.4 0M981.4 360.6a7.2 7.2 0 1 0 14.4 0a7.2 7.2 0 1 0 -14.4 0M1032.5 360.6a7.2 7.2 0 1 0 14.4 0a7.2 7.2 0 1 0 -14.4 0M1037.4 360.6a7.2 7.2 0 1 0 14.4 0a7.2 7.2 0 1 0 -14.4 0M1053.5 360.6a7.2 7.2 0 1 0 14.4 0a7.2 7.2 0 1 0 -14.4 0M1061.9 360.6a7.2 7.2 0 1 0 14.4 0a7.2 7.2 0 1 0 -14.4 0M1075.9 360.6a7.2 7.2 0 1 0 14.4 0a7.2 7.2 0 1 0 -14.4 0M1091.3 360.6a7.2 7.2 0 1 0 14.4 0a7.2 7.2 0 1 0 -14.4 0M1096.2 360.6a7.2 7.2 0 1 0 14.4 0a7.2 7.2 0 1 0 -14.4 0M884.1 370.0a7.2 7.2 0 1 0 14.4 0a7.2 7.2 0 1 0 -14.4 0M897.3 370.0a7.2 7.2 0 1 0 14.4 0a7.2 7.2 0 1 0 -14.4 0M961.0 370.0a7.2 7.2 0 1 0 14.4 0a7.2 7.2 0 1 0 -14.4 0M1010.1 370.0a7.2 7.2 0 1 0 14.4 0a7.2 7.2 0 1 0 -14.4 0M1069.6 370.0a7.2 7.2 0 1 0 14.4 0a7.2 7.2 0 1 0 -14.4 0M1137.5 370.0a7.2 7.2 0 1 0 14.4 0a7.2 7.2 0 1 0 -14.4 0M1159.9 370.0a7.2 7.2 0 1 0 14.4 0a7.2 7.2 0 1 0 -14.4 0M875.5 379.4a7.2 7.2 0 1 0 14.4 0a7.2 7.2 0 1 0 -14.4 0M888.8 379.4a7.2 7.2 0 1 0 14.4 0a7.2 7.2 0 1 0 -14.4 0M912.4 379.4a7.2 7.2 0 1 0 14.4 0a7.2 7.2 0 1 0 -14.4 0M919.0 379.4a7.2 7.2 0 1 0 14.4 0a7.2 7.2 0 1 0 -14.4 0M926.0 379.4a7.2 7.2 0 1 0 14.4 0a7.2 7.2 0 1 0 -14.4 0M974.3 379.4a7.2 7.2 0 1 0 14.4 0a7.2 7.2 0 1 0 -14.4 0M1008.7 379.4a7.2 7.2 0 1 0 14.4 0a7.2 7.2 0 1 0 -14.4 0M1028.3 379.4a7.2 7.2 0 1 0 14.4 0a7.2 7.2 0 1 0 -14.4 0M1046.5 379.4a7.2 7.2 0 1 0 14.4 0a7.2 7.2 0 1 0 -14.4 0M1052.8 379.4a7.2 7.2 0 1 0 14.4 0a7.2 7.2 0 1 0 -14.4 0M1068.2 379.4a7.2 7.2 0 1 0 14.4 0a7.2 7.2 0 1 0 -14.4 0M1082.2 379.4a7.2 7.2 0 1 0 14.4 0a7.2 7.2 0 1 0 -14.4 0M859.8 388.8a7.2 7.2 0 1 0 14.4 0a7.2 7.2 0 1 0 -14.4 0M892.1 388.8a7.2 7.2 0 1 0 14.4 0a7.2 7.2 0 1 0 -14.4 0M903.3 388.8a7.2 7.2 0 1 0 14.4 0a7.2 7.2 0 1 0 -14.4 0M921.3 388.8a7.2 7.2 0 1 0 14.4 0a7.2 7.2 0 1 0 -14.4 0M938.2 388.8a7.2 7.2 0 1 0 14.4 0a7.2 7.2 0 1 0 -14.4 0M962.2 388.8a7.2 7.2 0 1 0 14.4 0a7.2 7.2 0 1 0 -14.4 0M1000.2 388.8a7.2 7.2 0 1 0 14.4 0a7.2 7.2 0 1 0 -14.4 0M1015.0 388.8a7.2 7.2 0 1 0 14.4 0a7.2 7.2 0 1 0 -14.4 0M1102.5 388.8a7.2 7.2 0 1 0 14.4 0a7.2 7.2 0 1 0 -14.4 0M1140.3 388.8a7.2 7.2 0 1 0 14.4 0a7.2 7.2 0 1 0 -14.4 0M906.8 398.3a7.2 7.2 0 1 0 14.4 0a7.2 7.2 0 1 0 -14.4 0M953.8 398.3a7.2 7.2 0 1 0 14.4 0a7.2 7.2 0 1 0 -14.4 0M933.0 407.7a7.2 7.2 0 1 0 14.4 0a7.2 7.2 0 1 0 -14.4 0M939.8 407.7a7.2 7.2 0 1 0 14.4 0a7.2 7.2 0 1 0 -14.4 0M1073.1 407.7a7.2 7.2 0 1 0 14.4 0a7.2 7.2 0 1 0 -14.4 0M1129.1 407.7a7.2 7.2 0 1 0 14.4 0a7.2 7.2 0 1 0 -14.4 0M911.3 417.1a7.2 7.2 0 1 0 14.4 0a7.2 7.2 0 1 0 -14.4 0M970.8 417.1a7.2 7.2 0 1 0 14.4 0a7.2 7.2 0 1 0 -14.4 0M977.8 417.1a7.2 7.2 0 1 0 14.4 0a7.2 7.2 0 1 0 -14.4 0M1041.6 417.1a7.2 7.2 0 1 0 14.4 0a7.2 7.2 0 1 0 -14.4 0M1061.9 417.1a7.2 7.2 0 1 0 14.4 0a7.2 7.2 0 1 0 -14.4 0M1139.6 417.1a7.2 7.2 0 1 0 14.4 0a7.2 7.2 0 1 0 -14.4 0M1151.5 417.1a7.2 7.2 0 1 0 14.4 0a7.2 7.2 0 1 0 -14.4 0M896.0 426.5a7.2 7.2 0 1 0 14.4 0a7.2 7.2 0 1 0 -14.4 0M939.3 426.5a7.2 7.2 0 1 0 14.4 0a7.2 7.2 0 1 0 -14.4 0M948.2 426.5a7.2 7.2 0 1 0 14.4 0a7.2 7.2 0 1 0 -14.4 0M987.7 426.5a7.2 7.2 0 1 0 14.4 0a7.2 7.2 0 1 0 -14.4 0M1003.8 426.5a7.2 7.2 0 1 0 14.4 0a7.2 7.2 0 1 0 -14.4 0M1121.4 426.5a7.2 7.2 0 1 0 14.4 0a7.2 7.2 0 1 0 -14.4 0M1148.7 426.5a7.2 7.2 0 1 0 14.4 0a7.2 7.2 0 1 0 -14.4 0M918.3 435.9a7.2 7.2 0 1 0 14.4 0a7.2 7.2 0 1 0 -14.4 0M933.0 435.9a7.2 7.2 0 1 0 14.4 0a7.2 7.2 0 1 0 -14.4 0M961.0 435.9a7.2 7.2 0 1 0 14.4 0a7.2 7.2 0 1 0 -14.4 0M984.9 435.9a7.2 7.2 0 1 0 14.4 0a7.2 7.2 0 1 0 -14.4 0M1002.4 435.9a7.2 7.2 0 1 0 14.4 0a7.2 7.2 0 1 0 -14.4 0M1088.2 435.9a7.2 7.2 0 1 0 14.4 0a7.2 7.2 0 1 0 -14.4 0M876.3 445.3a7.2 7.2 0 1 0 14.4 0a7.2 7.2 0 1 0 -14.4 0M890.3 445.3a7.2 7.2 0 1 0 14.4 0a7.2 7.2 0 1 0 -14.4 0M922.1 445.3a7.2 7.2 0 1 0 14.4 0a7.2 7.2 0 1 0 -14.4 0M937.9 445.3a7.2 7.2 0 1 0 14.4 0a7.2 7.2 0 1 0 -14.4 0M951.2 445.3a7.2 7.2 0 1 0 14.4 0a7.2 7.2 0 1 0 -14.4 0M1025.5 445.3a7.2 7.2 0 1 0 14.4 0a7.2 7.2 0 1 0 -14.4 0M886.1 454.7a7.2 7.2 0 1 0 14.4 0a7.2 7.2 0 1 0 -14.4 0M976.4 454.7a7.2 7.2 0 1 0 14.4 0a7.2 7.2 0 1 0 -14.4 0M982.1 454.7a7.2 7.2 0 1 0 14.4 0a7.2 7.2 0 1 0 -14.4 0M1017.8 454.7a7.2 7.2 0 1 0 14.4 0a7.2 7.2 0 1 0 -14.4 0M1025.5 454.7a7.2 7.2 0 1 0 14.4 0a7.2 7.2 0 1 0 -14.4 0M1107.4 454.7a7.2 7.2 0 1 0 14.4 0a7.2 7.2 0 1 0 -14.4 0M1135.4 454.7a7.2 7.2 0 1 0 14.4 0a7.2 7.2 0 1 0 -14.4 0M921.1 464.1a7.2 7.2 0 1 0 14.4 0a7.2 7.2 0 1 0 -14.4 0M948.4 464.1a7.2 7.2 0 1 0 14.4 0a7.2 7.2 0 1 0 -14.4 0M955.4 464.1a7.2 7.2 0 1 0 14.4 0a7.2 7.2 0 1 0 -14.4 0M1005.2 464.1a7.2 7.2 0 1 0 14.4 0a7.2 7.2 0 1 0 -14.4 0M1033.9 464.1a7.2 7.2 0 1 0 14.4 0a7.2 7.2 0 1 0 -14.4 0M1094.1 464.1a7.2 7.2 0 1 0 14.4 0a7.2 7.2 0 1 0 -14.4 0M1113.7 464.1a7.2 7.2 0 1 0 14.4 0a7.2 7.2 0 1 0 -14.4 0M977.1 473.5a7.2 7.2 0 1 0 14.4 0a7.2 7.2 0 1 0 -14.4 0M1124.9 473.5a7.2 7.2 0 1 0 14.4 0a7.2 7.2 0 1 0 -14.4 0M1152.2 473.5a7.2 7.2 0 1 0 14.4 0a7.2 7.2 0 1 0 -14.4 0M880.5 492.3a7.2 7.2 0 1 0 14.4 0a7.2 7.2 0 1 0 -14.4 0M993.2 492.3a7.2 7.2 0 1 0 14.4 0a7.2 7.2 0 1 0 -14.4 0M1035.3 492.3a7.2 7.2 0 1 0 14.4 0a7.2 7.2 0 1 0 -14.4 0M904.3 501.7a7.2 7.2 0 1 0 14.4 0a7.2 7.2 0 1 0 -14.4 0M910.6 501.7a7.2 7.2 0 1 0 14.4 0a7.2 7.2 0 1 0 -14.4 0M934.1 501.7a7.2 7.2 0 1 0 14.4 0a7.2 7.2 0 1 0 -14.4 0M951.2 501.7a7.2 7.2 0 1 0 14.4 0a7.2 7.2 0 1 0 -14.4 0M969.4 501.7a7.2 7.2 0 1 0 14.4 0a7.2 7.2 0 1 0 -14.4 0M1122.1 501.7a7.2 7.2 0 1 0 14.4 0a7.2 7.2 0 1 0 -14.4 0M885.4 511.1a7.2 7.2 0 1 0 14.4 0a7.2 7.2 0 1 0 -14.4 0M891.0 511.1a7.2 7.2 0 1 0 14.4 0a7.2 7.2 0 1 0 -14.4 0M976.4 511.1a7.2 7.2 0 1 0 14.4 0a7.2 7.2 0 1 0 -14.4 0M879.8 520.5a7.2 7.2 0 1 0 14.4 0a7.2 7.2 0 1 0 -14.4 0M907.8 520.5a7.2 7.2 0 1 0 14.4 0a7.2 7.2 0 1 0 -14.4 0M984.2 520.5a7.2 7.2 0 1 0 14.4 0a7.2 7.2 0 1 0 -14.4 0M869.3 539.3a7.2 7.2 0 1 0 14.4 0a7.2 7.2 0 1 0 -14.4 0M917.3 539.3a7.2 7.2 0 1 0 14.4 0a7.2 7.2 0 1 0 -14.4 0M1081.5 548.7a7.2 7.2 0 1 0 14.4 0a7.2 7.2 0 1 0 -14.4 0M1207.1 360.6a7.2 7.2 0 1 0 14.4 0a7.2 7.2 0 1 0 -14.4 0M1224.3 360.6a7.2 7.2 0 1 0 14.4 0a7.2 7.2 0 1 0 -14.4 0M1266.4 360.6a7.2 7.2 0 1 0 14.4 0a7.2 7.2 0 1 0 -14.4 0M1283.7 360.6a7.2 7.2 0 1 0 14.4 0a7.2 7.2 0 1 0 -14.4 0M1183.7 370.0a7.2 7.2 0 1 0 14.4 0a7.2 7.2 0 1 0 -14.4 0M1270.1 370.0a7.2 7.2 0 1 0 14.4 0a7.2 7.2 0 1 0 -14.4 0M1235.8 379.4a7.2 7.2 0 1 0 14.4 0a7.2 7.2 0 1 0 -14.4 0M1243.5 379.4a7.2 7.2 0 1 0 14.4 0a7.2 7.2 0 1 0 -14.4 0M1281.3 379.4a7.2 7.2 0 1 0 14.4 0a7.2 7.2 0 1 0 -14.4 0M1297.2 379.4a7.2 7.2 0 1 0 14.4 0a7.2 7.2 0 1 0 -14.4 0M1188.2 388.8a7.2 7.2 0 1 0 14.4 0a7.2 7.2 0 1 0 -14.4 0M1268.0 388.8a7.2 7.2 0 1 0 14.4 0a7.2 7.2 0 1 0 -14.4 0M1212.0 398.3a7.2 7.2 0 1 0 14.4 0a7.2 7.2 0 1 0 -14.4 0M1188.9 407.7a7.2 7.2 0 1 0 14.4 0a7.2 7.2 0 1 0 -14.4 0M1296.8 407.7a7.2 7.2 0 1 0 14.4 0a7.2 7.2 0 1 0 -14.4 0M1303.1 407.7a7.2 7.2 0 1 0 14.4 0a7.2 7.2 0 1 0 -14.4 0M280.3 407.7a7.2 7.2 0 1 0 14.4 0a7.2 7.2 0 1 0 -14.4 0M1170.7 417.1a7.2 7.2 0 1 0 14.4 0a7.2 7.2 0 1 0 -14.4 0M1193.1 417.1a7.2 7.2 0 1 0 14.4 0a7.2 7.2 0 1 0 -14.4 0M1201.5 417.1a7.2 7.2 0 1 0 14.4 0a7.2 7.2 0 1 0 -14.4 0M1246.3 417.1a7.2 7.2 0 1 0 14.4 0a7.2 7.2 0 1 0 -14.4 0M1251.2 417.1a7.2 7.2 0 1 0 14.4 0a7.2 7.2 0 1 0 -14.4 0M1272.2 417.1a7.2 7.2 0 1 0 14.4 0a7.2 7.2 0 1 0 -14.4 0M1182.6 426.5a7.2 7.2 0 1 0 14.4 0a7.2 7.2 0 1 0 -14.4 0M1195.2 426.5a7.2 7.2 0 1 0 14.4 0a7.2 7.2 0 1 0 -14.4 0M1209.2 426.5a7.2 7.2 0 1 0 14.4 0a7.2 7.2 0 1 0 -14.4 0M1252.6 426.5a7.2 7.2 0 1 0 14.4 0a7.2 7.2 0 1 0 -14.4 0M1232.7 435.9a7.2 7.2 0 1 0 14.4 0a7.2 7.2 0 1 0 -14.4 0M1274.3 435.9a7.2 7.2 0 1 0 14.4 0a7.2 7.2 0 1 0 -14.4 0M278.2 435.9a7.2 7.2 0 1 0 14.4 0a7.2 7.2 0 1 0 -14.4 0M1205.0 445.3a7.2 7.2 0 1 0 14.4 0a7.2 7.2 0 1 0 -14.4 0M1224.6 445.3a7.2 7.2 0 1 0 14.4 0a7.2 7.2 0 1 0 -14.4 0M1239.7 445.3a7.2 7.2 0 1 0 14.4 0a7.2 7.2 0 1 0 -14.4 0M1251.9 445.3a7.2 7.2 0 1 0 14.4 0a7.2 7.2 0 1 0 -14.4 0M1319.2 445.3a7.2 7.2 0 1 0 14.4 0a7.2 7.2 0 1 0 -14.4 0M1254.0 454.7a7.2 7.2 0 1 0 14.4 0a7.2 7.2 0 1 0 -14.4 0M1261.0 454.7a7.2 7.2 0 1 0 14.4 0a7.2 7.2 0 1 0 -14.4 0M1289.8 454.7a7.2 7.2 0 1 0 14.4 0a7.2 7.2 0 1 0 -14.4 0M1308.7 454.7a7.2 7.2 0 1 0 14.4 0a7.2 7.2 0 1 0 -14.4 0M1202.2 464.1a7.2 7.2 0 1 0 14.4 0a7.2 7.2 0 1 0 -14.4 0M1223.2 464.1a7.2 7.2 0 1 0 14.4 0a7.2 7.2 0 1 0 -14.4 0M1261.0 473.5a7.2 7.2 0 1 0 14.4 0a7.2 7.2 0 1 0 -14.4 0M1325.2 473.5a7.2 7.2 0 1 0 14.4 0a7.2 7.2 0 1 0 -14.4 0M267.8 473.5a7.2 7.2 0 1 0 14.4 0a7.2 7.2 0 1 0 -14.4 0M1168.6 492.3a7.2 7.2 0 1 0 14.4 0a7.2 7.2 0 1 0 -14.4 0M1283.2 492.3a7.2 7.2 0 1 0 14.4 0a7.2 7.2 0 1 0 -14.4 0M1318.5 492.3a7.2 7.2 0 1 0 14.4 0a7.2 7.2 0 1 0 -14.4 0M1331.1 492.3a7.2 7.2 0 1 0 14.4 0a7.2 7.2 0 1 0 -14.4 0M267.8 492.3a7.2 7.2 0 1 0 14.4 0a7.2 7.2 0 1 0 -14.4 0M1287.0 501.7a7.2 7.2 0 1 0 14.4 0a7.2 7.2 0 1 0 -14.4 0M1303.8 511.1a7.2 7.2 0 1 0 14.4 0a7.2 7.2 0 1 0 -14.4 0M270.5 511.1a7.2 7.2 0 1 0 14.4 0a7.2 7.2 0 1 0 -14.4 0M1268.0 520.5a7.2 7.2 0 1 0 14.4 0a7.2 7.2 0 1 0 -14.4 0M1307.3 520.5a7.2 7.2 0 1 0 14.4 0a7.2 7.2 0 1 0 -14.4 0M1244.9 529.9a7.2 7.2 0 1 0 14.4 0a7.2 7.2 0 1 0 -14.4 0M1310.1 529.9a7.2 7.2 0 1 0 14.4 0a7.2 7.2 0 1 0 -14.4 0M1231.3 539.3a7.2 7.2 0 1 0 14.4 0a7.2 7.2 0 1 0 -14.4 0M1257.1 539.3a7.2 7.2 0 1 0 14.4 0a7.2 7.2 0 1 0 -14.4 0M1311.5 539.3a7.2 7.2 0 1 0 14.4 0a7.2 7.2 0 1 0 -14.4 0M1333.9 539.3a7.2 7.2 0 1 0 14.4 0a7.2 7.2 0 1 0 -14.4 0M1338.8 539.3a7.2 7.2 0 1 0 14.4 0a7.2 7.2 0 1 0 -14.4 0M544.5 567.5a7.2 7.2 0 1 0 14.4 0a7.2 7.2 0 1 0 -14.4 0M679.2 558.1a7.2 7.2 0 1 0 14.4 0a7.2 7.2 0 1 0 -14.4 0M613.4 567.5a7.2 7.2 0 1 0 14.4 0a7.2 7.2 0 1 0 -14.4 0M859.9 567.5a7.2 7.2 0 1 0 14.4 0a7.2 7.2 0 1 0 -14.4 0M849.4 586.3a7.2 7.2 0 1 0 14.4 0a7.2 7.2 0 1 0 -14.4 0M870.7 558.1a7.2 7.2 0 1 0 14.4 0a7.2 7.2 0 1 0 -14.4 0M907.8 558.1a7.2 7.2 0 1 0 14.4 0a7.2 7.2 0 1 0 -14.4 0M1308.0 558.1a7.2 7.2 0 1 0 14.4 0a7.2 7.2 0 1 0 -14.4 0M1368.2 558.1a7.2 7.2 0 1 0 14.4 0a7.2 7.2 0 1 0 -14.4 0M276.1 558.1a7.2 7.2 0 1 0 14.4 0a7.2 7.2 0 1 0 -14.4 0M273.3 567.5a7.2 7.2 0 1 0 14.4 0a7.2 7.2 0 1 0 -14.4 0M1317.8 586.3a7.2 7.2 0 1 0 14.4 0a7.2 7.2 0 1 0 -14.4 0M1341.6 586.3a7.2 7.2 0 1 0 14.4 0a7.2 7.2 0 1 0 -14.4 0M1364.7 605.1a7.2 7.2 0 1 0 14.4 0a7.2 7.2 0 1 0 -14.4 0M1319.2 623.9a7.2 7.2 0 1 0 14.4 0a7.2 7.2 0 1 0 -14.4 0M1325.5 642.8a7.2 7.2 0 1 0 14.4 0a7.2 7.2 0 1 0 -14.4 0M1343.7 642.8a7.2 7.2 0 1 0 14.4 0a7.2 7.2 0 1 0 -14.4 0M1361.2 642.8a7.2 7.2 0 1 0 14.4 0a7.2 7.2 0 1 0 -14.4 0M1347.9 652.2a7.2 7.2 0 1 0 14.4 0a7.2 7.2 0 1 0 -14.4 0M1355.6 661.6a7.2 7.2 0 1 0 14.4 0a7.2 7.2 0 1 0 -14.4 0M266.3 671.0a7.2 7.2 0 1 0 14.4 0a7.2 7.2 0 1 0 -14.4 0M1350.7 680.4a7.2 7.2 0 1 0 14.4 0a7.2 7.2 0 1 0 -14.4 0M1375.9 680.4a7.2 7.2 0 1 0 14.4 0a7.2 7.2 0 1 0 -14.4 0M1340.2 689.8a7.2 7.2 0 1 0 14.4 0a7.2 7.2 0 1 0 -14.4 0M1343.0 708.6a7.2 7.2 0 1 0 14.4 0a7.2 7.2 0 1 0 -14.4 0M1354.9 718.0a7.2 7.2 0 1 0 14.4 0a7.2 7.2 0 1 0 -14.4 0M1351.4 736.8a7.2 7.2 0 1 0 14.4 0a7.2 7.2 0 1 0 -14.4 0M1341.6 746.2a7.2 7.2 0 1 0 14.4 0a7.2 7.2 0 1 0 -14.4 0M1357.0 746.2a7.2 7.2 0 1 0 14.4 0a7.2 7.2 0 1 0 -14.4 0M1358.4 821.4a7.2 7.2 0 1 0 14.4 0a7.2 7.2 0 1 0 -14.4 0M1347.2 849.6a7.2 7.2 0 1 0 14.4 0a7.2 7.2 0 1 0 -14.4 0M1440.2 172.6a7.2 7.2 0 1 0 14.4 0a7.2 7.2 0 1 0 -14.4 0M1407.9 219.6a7.2 7.2 0 1 0 14.4 0a7.2 7.2 0 1 0 -14.4 0M1415.3 219.6a7.2 7.2 0 1 0 14.4 0a7.2 7.2 0 1 0 -14.4 0M1398.9 247.8a7.2 7.2 0 1 0 14.4 0a7.2 7.2 0 1 0 -14.4 0M1410.0 247.8a7.2 7.2 0 1 0 14.4 0a7.2 7.2 0 1 0 -14.4 0M1430.3 247.8a7.2 7.2 0 1 0 14.4 0a7.2 7.2 0 1 0 -14.4 0M1427.2 257.2a7.2 7.2 0 1 0 14.4 0a7.2 7.2 0 1 0 -14.4 0M1441.2 266.6a7.2 7.2 0 1 0 14.4 0a7.2 7.2 0 1 0 -14.4 0M1472.3 276.0a7.2 7.2 0 1 0 14.4 0a7.2 7.2 0 1 0 -14.4 0M1600.2 294.8a7.2 7.2 0 1 0 14.4 0a7.2 7.2 0 1 0 -14.4 0M1449.6 313.6a7.2 7.2 0 1 0 14.4 0a7.2 7.2 0 1 0 -14.4 0M1483.2 313.6a7.2 7.2 0 1 0 14.4 0a7.2 7.2 0 1 0 -14.4 0M1451.3 323.0a7.2 7.2 0 1 0 14.4 0a7.2 7.2 0 1 0 -14.4 0M1532.3 323.0a7.2 7.2 0 1 0 14.4 0a7.2 7.2 0 1 0 -14.4 0M1478.3 332.4a7.2 7.2 0 1 0 14.4 0a7.2 7.2 0 1 0 -14.4 0M1492.3 332.4a7.2 7.2 0 1 0 14.4 0a7.2 7.2 0 1 0 -14.4 0M1575.0 332.4a7.2 7.2 0 1 0 14.4 0a7.2 7.2 0 1 0 -14.4 0M1420.2 341.8a7.2 7.2 0 1 0 14.4 0a7.2 7.2 0 1 0 -14.4 0M1429.3 341.8a7.2 7.2 0 1 0 14.4 0a7.2 7.2 0 1 0 -14.4 0M1452.4 341.8a7.2 7.2 0 1 0 14.4 0a7.2 7.2 0 1 0 -14.4 0M1522.2 341.8a7.2 7.2 0 1 0 14.4 0a7.2 7.2 0 1 0 -14.4 0M1495.1 351.2a7.2 7.2 0 1 0 14.4 0a7.2 7.2 0 1 0 -14.4 0M1681.7 323.0a7.2 7.2 0 1 0 14.4 0a7.2 7.2 0 1 0 -14.4 0M1723.3 313.6a7.2 7.2 0 1 0 14.4 0a7.2 7.2 0 1 0 -14.4 0M1926.1 238.4a7.2 7.2 0 1 0 14.4 0a7.2 7.2 0 1 0 -14.4 0M1873.3 257.2a7.2 7.2 0 1 0 14.4 0a7.2 7.2 0 1 0 -14.4 0M1941.5 266.6a7.2 7.2 0 1 0 14.4 0a7.2 7.2 0 1 0 -14.4 0M1959.0 276.0a7.2 7.2 0 1 0 14.4 0a7.2 7.2 0 1 0 -14.4 0M1966.0 285.4a7.2 7.2 0 1 0 14.4 0a7.2 7.2 0 1 0 -14.4 0M1877.1 294.8a7.2 7.2 0 1 0 14.4 0a7.2 7.2 0 1 0 -14.4 0M1928.9 294.8a7.2 7.2 0 1 0 14.4 0a7.2 7.2 0 1 0 -14.4 0M1922.9 304.2a7.2 7.2 0 1 0 14.4 0a7.2 7.2 0 1 0 -14.4 0M1949.9 304.2a7.2 7.2 0 1 0 14.4 0a7.2 7.2 0 1 0 -14.4 0M1940.1 313.6a7.2 7.2 0 1 0 14.4 0a7.2 7.2 0 1 0 -14.4 0M1956.9 313.6a7.2 7.2 0 1 0 14.4 0a7.2 7.2 0 1 0 -14.4 0M1827.1 323.0a7.2 7.2 0 1 0 14.4 0a7.2 7.2 0 1 0 -14.4 0M1886.9 323.0a7.2 7.2 0 1 0 14.4 0a7.2 7.2 0 1 0 -14.4 0M1931.0 323.0a7.2 7.2 0 1 0 14.4 0a7.2 7.2 0 1 0 -14.4 0M1954.1 323.0a7.2 7.2 0 1 0 14.4 0a7.2 7.2 0 1 0 -14.4 0M1819.0 332.4a7.2 7.2 0 1 0 14.4 0a7.2 7.2 0 1 0 -14.4 0M1856.1 332.4a7.2 7.2 0 1 0 14.4 0a7.2 7.2 0 1 0 -14.4 0M1890.0 332.4a7.2 7.2 0 1 0 14.4 0a7.2 7.2 0 1 0 -14.4 0M1952.7 332.4a7.2 7.2 0 1 0 14.4 0a7.2 7.2 0 1 0 -14.4 0M1822.2 341.8a7.2 7.2 0 1 0 14.4 0a7.2 7.2 0 1 0 -14.4 0M1854.0 341.8a7.2 7.2 0 1 0 14.4 0a7.2 7.2 0 1 0 -14.4 0M1837.9 351.2a7.2 7.2 0 1 0 14.4 0a7.2 7.2 0 1 0 -14.4 0M1933.1 351.2a7.2 7.2 0 1 0 14.4 0a7.2 7.2 0 1 0 -14.4 0M1958.3 351.2a7.2 7.2 0 1 0 14.4 0a7.2 7.2 0 1 0 -14.4 0M1980.3 200.8a7.2 7.2 0 1 0 14.4 0a7.2 7.2 0 1 0 -14.4 0M1979.3 276.0a7.2 7.2 0 1 0 14.4 0a7.2 7.2 0 1 0 -14.4 0M1975.4 304.2a7.2 7.2 0 1 0 14.4 0a7.2 7.2 0 1 0 -14.4 0M1989.4 304.2a7.2 7.2 0 1 0 14.4 0a7.2 7.2 0 1 0 -14.4 0M2045.1 247.8a7.2 7.2 0 1 0 14.4 0a7.2 7.2 0 1 0 -14.4 0M2038.1 266.6a7.2 7.2 0 1 0 14.4 0a7.2 7.2 0 1 0 -14.4 0M2076.2 285.4a7.2 7.2 0 1 0 14.4 0a7.2 7.2 0 1 0 -14.4 0M2142.1 294.8a7.2 7.2 0 1 0 14.4 0a7.2 7.2 0 1 0 -14.4 0M2087.2 304.2a7.2 7.2 0 1 0 14.4 0a7.2 7.2 0 1 0 -14.4 0M2215.3 219.6a7.2 7.2 0 1 0 14.4 0a7.2 7.2 0 1 0 -14.4 0M2261.1 210.2a7.2 7.2 0 1 0 14.4 0a7.2 7.2 0 1 0 -14.4 0M2028.9 313.6a7.2 7.2 0 1 0 14.4 0a7.2 7.2 0 1 0 -14.4 0M2042.3 313.6a7.2 7.2 0 1 0 14.4 0a7.2 7.2 0 1 0 -14.4 0M2045.4 323.0a7.2 7.2 0 1 0 14.4 0a7.2 7.2 0 1 0 -14.4 0M2192.2 323.0a7.2 7.2 0 1 0 14.4 0a7.2 7.2 0 1 0 -14.4 0M2259.0 323.0a7.2 7.2 0 1 0 14.4 0a7.2 7.2 0 1 0 -14.4 0M2266.7 304.2a7.2 7.2 0 1 0 14.4 0a7.2 7.2 0 1 0 -14.4 0M2024.4 332.4a7.2 7.2 0 1 0 14.4 0a7.2 7.2 0 1 0 -14.4 0M2049.2 332.4a7.2 7.2 0 1 0 14.4 0a7.2 7.2 0 1 0 -14.4 0M2075.3 332.4a7.2 7.2 0 1 0 14.4 0a7.2 7.2 0 1 0 -14.4 0M2097.3 332.4a7.2 7.2 0 1 0 14.4 0a7.2 7.2 0 1 0 -14.4 0M1991.2 341.8a7.2 7.2 0 1 0 14.4 0a7.2 7.2 0 1 0 -14.4 0M2217.0 341.8a7.2 7.2 0 1 0 14.4 0a7.2 7.2 0 1 0 -14.4 0M2256.2 341.8a7.2 7.2 0 1 0 14.4 0a7.2 7.2 0 1 0 -14.4 0M1983.1 351.2a7.2 7.2 0 1 0 14.4 0a7.2 7.2 0 1 0 -14.4 0M2009.3 351.2a7.2 7.2 0 1 0 14.4 0a7.2 7.2 0 1 0 -14.4 0M2051.3 351.2a7.2 7.2 0 1 0 14.4 0a7.2 7.2 0 1 0 -14.4 0M2070.9 351.2a7.2 7.2 0 1 0 14.4 0a7.2 7.2 0 1 0 -14.4 0M2078.6 351.2a7.2 7.2 0 1 0 14.4 0a7.2 7.2 0 1 0 -14.4 0M2098.4 351.2a7.2 7.2 0 1 0 14.4 0a7.2 7.2 0 1 0 -14.4 0M2164.5 351.2a7.2 7.2 0 1 0 14.4 0a7.2 7.2 0 1 0 -14.4 0M2203.3 351.2a7.2 7.2 0 1 0 14.4 0a7.2 7.2 0 1 0 -14.4 0M2279.6 210.2a7.2 7.2 0 1 0 14.4 0a7.2 7.2 0 1 0 -14.4 0M2376.0 210.2a7.2 7.2 0 1 0 14.4 0a7.2 7.2 0 1 0 -14.4 0M2288.3 276.0a7.2 7.2 0 1 0 14.4 0a7.2 7.2 0 1 0 -14.4 0M2310.1 266.6a7.2 7.2 0 1 0 14.4 0a7.2 7.2 0 1 0 -14.4 0M2329.7 266.6a7.2 7.2 0 1 0 14.4 0a7.2 7.2 0 1 0 -14.4 0M2336.3 266.6a7.2 7.2 0 1 0 14.4 0a7.2 7.2 0 1 0 -14.4 0M2375.3 285.4a7.2 7.2 0 1 0 14.4 0a7.2 7.2 0 1 0 -14.4 0M2278.9 304.2a7.2 7.2 0 1 0 14.4 0a7.2 7.2 0 1 0 -14.4 0M2324.1 304.2a7.2 7.2 0 1 0 14.4 0a7.2 7.2 0 1 0 -14.4 0M2318.8 313.6a7.2 7.2 0 1 0 14.4 0a7.2 7.2 0 1 0 -14.4 0M2284.5 323.0a7.2 7.2 0 1 0 14.4 0a7.2 7.2 0 1 0 -14.4 0M2307.9 323.0a7.2 7.2 0 1 0 14.4 0a7.2 7.2 0 1 0 -14.4 0M2326.1 323.0a7.2 7.2 0 1 0 14.4 0a7.2 7.2 0 1 0 -14.4 0M2343.3 332.4a7.2 7.2 0 1 0 14.4 0a7.2 7.2 0 1 0 -14.4 0M2282.4 341.8a7.2 7.2 0 1 0 14.4 0a7.2 7.2 0 1 0 -14.4 0M2292.2 341.8a7.2 7.2 0 1 0 14.4 0a7.2 7.2 0 1 0 -14.4 0M2306.2 341.8a7.2 7.2 0 1 0 14.4 0a7.2 7.2 0 1 0 -14.4 0M2311.8 341.8a7.2 7.2 0 1 0 14.4 0a7.2 7.2 0 1 0 -14.4 0M2327.2 341.8a7.2 7.2 0 1 0 14.4 0a7.2 7.2 0 1 0 -14.4 0M2349.9 341.8a7.2 7.2 0 1 0 14.4 0a7.2 7.2 0 1 0 -14.4 0M2359.4 351.2a7.2 7.2 0 1 0 14.4 0a7.2 7.2 0 1 0 -14.4 0M2400.1 341.8a7.2 7.2 0 1 0 14.4 0a7.2 7.2 0 1 0 -14.4 0M2414.1 341.8a7.2 7.2 0 1 0 14.4 0a7.2 7.2 0 1 0 -14.4 0M2409.9 351.2a7.2 7.2 0 1 0 14.4 0a7.2 7.2 0 1 0 -14.4 0M1425.8 360.6a7.2 7.2 0 1 0 14.4 0a7.2 7.2 0 1 0 -14.4 0M1486.0 360.6a7.2 7.2 0 1 0 14.4 0a7.2 7.2 0 1 0 -14.4 0M1517.3 360.6a7.2 7.2 0 1 0 14.4 0a7.2 7.2 0 1 0 -14.4 0M1521.1 360.6a7.2 7.2 0 1 0 14.4 0a7.2 7.2 0 1 0 -14.4 0M1542.2 360.6a7.2 7.2 0 1 0 14.4 0a7.2 7.2 0 1 0 -14.4 0M1569.9 360.6a7.2 7.2 0 1 0 14.4 0a7.2 7.2 0 1 0 -14.4 0M1585.2 360.6a7.2 7.2 0 1 0 14.4 0a7.2 7.2 0 1 0 -14.4 0M1604.0 360.6a7.2 7.2 0 1 0 14.4 0a7.2 7.2 0 1 0 -14.4 0M1631.0 360.6a7.2 7.2 0 1 0 14.4 0a7.2 7.2 0 1 0 -14.4 0M1420.2 370.0a7.2 7.2 0 1 0 14.4 0a7.2 7.2 0 1 0 -14.4 0M1438.4 370.0a7.2 7.2 0 1 0 14.4 0a7.2 7.2 0 1 0 -14.4 0M1468.5 370.0a7.2 7.2 0 1 0 14.4 0a7.2 7.2 0 1 0 -14.4 0M1485.3 370.0a7.2 7.2 0 1 0 14.4 0a7.2 7.2 0 1 0 -14.4 0M1542.8 370.0a7.2 7.2 0 1 0 14.4 0a7.2 7.2 0 1 0 -14.4 0M1553.0 370.0a7.2 7.2 0 1 0 14.4 0a7.2 7.2 0 1 0 -14.4 0M1571.9 370.0a7.2 7.2 0 1 0 14.4 0a7.2 7.2 0 1 0 -14.4 0M1584.1 370.0a7.2 7.2 0 1 0 14.4 0a7.2 7.2 0 1 0 -14.4 0M1439.1 379.4a7.2 7.2 0 1 0 14.4 0a7.2 7.2 0 1 0 -14.4 0M1455.2 379.4a7.2 7.2 0 1 0 14.4 0a7.2 7.2 0 1 0 -14.4 0M1481.1 379.4a7.2 7.2 0 1 0 14.4 0a7.2 7.2 0 1 0 -14.4 0M1496.5 379.4a7.2 7.2 0 1 0 14.4 0a7.2 7.2 0 1 0 -14.4 0M1538.8 379.4a7.2 7.2 0 1 0 14.4 0a7.2 7.2 0 1 0 -14.4 0M1554.9 379.4a7.2 7.2 0 1 0 14.4 0a7.2 7.2 0 1 0 -14.4 0M1568.0 379.4a7.2 7.2 0 1 0 14.4 0a7.2 7.2 0 1 0 -14.4 0M1604.0 379.4a7.2 7.2 0 1 0 14.4 0a7.2 7.2 0 1 0 -14.4 0M1668.1 379.4a7.2 7.2 0 1 0 14.4 0a7.2 7.2 0 1 0 -14.4 0M1473.4 388.8a7.2 7.2 0 1 0 14.4 0a7.2 7.2 0 1 0 -14.4 0M1510.6 388.8a7.2 7.2 0 1 0 14.4 0a7.2 7.2 0 1 0 -14.4 0M1546.3 388.8a7.2 7.2 0 1 0 14.4 0a7.2 7.2 0 1 0 -14.4 0M1563.4 388.8a7.2 7.2 0 1 0 14.4 0a7.2 7.2 0 1 0 -14.4 0M1628.9 388.8a7.2 7.2 0 1 0 14.4 0a7.2 7.2 0 1 0 -14.4 0M1654.8 388.8a7.2 7.2 0 1 0 14.4 0a7.2 7.2 0 1 0 -14.4 0M1406.9 398.3a7.2 7.2 0 1 0 14.4 0a7.2 7.2 0 1 0 -14.4 0M1490.9 398.3a7.2 7.2 0 1 0 14.4 0a7.2 7.2 0 1 0 -14.4 0M1530.9 398.3a7.2 7.2 0 1 0 14.4 0a7.2 7.2 0 1 0 -14.4 0M1555.2 398.3a7.2 7.2 0 1 0 14.4 0a7.2 7.2 0 1 0 -14.4 0M1624.0 398.3a7.2 7.2 0 1 0 14.4 0a7.2 7.2 0 1 0 -14.4 0M1669.5 398.3a7.2 7.2 0 1 0 14.4 0a7.2 7.2 0 1 0 -14.4 0M1436.3 407.7a7.2 7.2 0 1 0 14.4 0a7.2 7.2 0 1 0 -14.4 0M1502.2 407.7a7.2 7.2 0 1 0 14.4 0a7.2 7.2 0 1 0 -14.4 0M1535.1 407.7a7.2 7.2 0 1 0 14.4 0a7.2 7.2 0 1 0 -14.4 0M1620.5 407.7a7.2 7.2 0 1 0 14.4 0a7.2 7.2 0 1 0 -14.4 0M1659.7 407.7a7.2 7.2 0 1 0 14.4 0a7.2 7.2 0 1 0 -14.4 0M1672.3 407.7a7.2 7.2 0 1 0 14.4 0a7.2 7.2 0 1 0 -14.4 0M1405.5 417.1a7.2 7.2 0 1 0 14.4 0a7.2 7.2 0 1 0 -14.4 0M1476.9 417.1a7.2 7.2 0 1 0 14.4 0a7.2 7.2 0 1 0 -14.4 0M1564.2 417.1a7.2 7.2 0 1 0 14.4 0a7.2 7.2 0 1 0 -14.4 0M1439.1 426.5a7.2 7.2 0 1 0 14.4 0a7.2 7.2 0 1 0 -14.4 0M1462.2 426.5a7.2 7.2 0 1 0 14.4 0a7.2 7.2 0 1 0 -14.4 0M1467.8 426.5a7.2 7.2 0 1 0 14.4 0a7.2 7.2 0 1 0 -14.4 0M1584.1 426.5a7.2 7.2 0 1 0 14.4 0a7.2 7.2 0 1 0 -14.4 0M1460.1 435.9a7.2 7.2 0 1 0 14.4 0a7.2 7.2 0 1 0 -14.4 0M1467.1 435.9a7.2 7.2 0 1 0 14.4 0a7.2 7.2 0 1 0 -14.4 0M1640.8 435.9a7.2 7.2 0 1 0 14.4 0a7.2 7.2 0 1 0 -14.4 0M1480.4 445.3a7.2 7.2 0 1 0 14.4 0a7.2 7.2 0 1 0 -14.4 0M1504.3 445.3a7.2 7.2 0 1 0 14.4 0a7.2 7.2 0 1 0 -14.4 0M1533.0 445.3a7.2 7.2 0 1 0 14.4 0a7.2 7.2 0 1 0 -14.4 0M1617.7 445.3a7.2 7.2 0 1 0 14.4 0a7.2 7.2 0 1 0 -14.4 0M1637.3 445.3a7.2 7.2 0 1 0 14.4 0a7.2 7.2 0 1 0 -14.4 0M1661.1 445.3a7.2 7.2 0 1 0 14.4 0a7.2 7.2 0 1 0 -14.4 0M1467.1 454.7a7.2 7.2 0 1 0 14.4 0a7.2 7.2 0 1 0 -14.4 0M1488.1 454.7a7.2 7.2 0 1 0 14.4 0a7.2 7.2 0 1 0 -14.4 0M1497.2 454.7a7.2 7.2 0 1 0 14.4 0a7.2 7.2 0 1 0 -14.4 0M1504.3 454.7a7.2 7.2 0 1 0 14.4 0a7.2 7.2 0 1 0 -14.4 0M1542.1 454.7a7.2 7.2 0 1 0 14.4 0a7.2 7.2 0 1 0 -14.4 0M1579.2 454.7a7.2 7.2 0 1 0 14.4 0a7.2 7.2 0 1 0 -14.4 0M1591.1 454.7a7.2 7.2 0 1 0 14.4 0a7.2 7.2 0 1 0 -14.4 0M1598.1 454.7a7.2 7.2 0 1 0 14.4 0a7.2 7.2 0 1 0 -14.4 0M1630.3 454.7a7.2 7.2 0 1 0 14.4 0a7.2 7.2 0 1 0 -14.4 0M1666.7 454.7a7.2 7.2 0 1 0 14.4 0a7.2 7.2 0 1 0 -14.4 0M1446.1 464.1a7.2 7.2 0 1 0 14.4 0a7.2 7.2 0 1 0 -14.4 0M1473.4 464.1a7.2 7.2 0 1 0 14.4 0a7.2 7.2 0 1 0 -14.4 0M1533.0 464.1a7.2 7.2 0 1 0 14.4 0a7.2 7.2 0 1 0 -14.4 0M1598.1 464.1a7.2 7.2 0 1 0 14.4 0a7.2 7.2 0 1 0 -14.4 0M1462.9 473.5a7.2 7.2 0 1 0 14.4 0a7.2 7.2 0 1 0 -14.4 0M1507.8 473.5a7.2 7.2 0 1 0 14.4 0a7.2 7.2 0 1 0 -14.4 0M1558.9 473.5a7.2 7.2 0 1 0 14.4 0a7.2 7.2 0 1 0 -14.4 0M1575.0 473.5a7.2 7.2 0 1 0 14.4 0a7.2 7.2 0 1 0 -14.4 0M1607.2 473.5a7.2 7.2 0 1 0 14.4 0a7.2 7.2 0 1 0 -14.4 0M1459.4 482.9a7.2 7.2 0 1 0 14.4 0a7.2 7.2 0 1 0 -14.4 0M1523.2 482.9a7.2 7.2 0 1 0 14.4 0a7.2 7.2 0 1 0 -14.4 0M1561.7 482.9a7.2 7.2 0 1 0 14.4 0a7.2 7.2 0 1 0 -14.4 0M1649.2 482.9a7.2 7.2 0 1 0 14.4 0a7.2 7.2 0 1 0 -14.4 0M1592.5 492.3a7.2 7.2 0 1 0 14.4 0a7.2 7.2 0 1 0 -14.4 0M1612.1 492.3a7.2 7.2 0 1 0 14.4 0a7.2 7.2 0 1 0 -14.4 0M1617.0 492.3a7.2 7.2 0 1 0 14.4 0a7.2 7.2 0 1 0 -14.4 0M1475.3 501.7a7.2 7.2 0 1 0 14.4 0a7.2 7.2 0 1 0 -14.4 0M1500.1 501.7a7.2 7.2 0 1 0 14.4 0a7.2 7.2 0 1 0 -14.4 0M1531.6 501.7a7.2 7.2 0 1 0 14.4 0a7.2 7.2 0 1 0 -14.4 0M1571.2 501.7a7.2 7.2 0 1 0 14.4 0a7.2 7.2 0 1 0 -14.4 0M1394.3 511.1a7.2 7.2 0 1 0 14.4 0a7.2 7.2 0 1 0 -14.4 0M1441.2 511.1a7.2 7.2 0 1 0 14.4 0a7.2 7.2 0 1 0 -14.4 0M1521.1 511.1a7.2 7.2 0 1 0 14.4 0a7.2 7.2 0 1 0 -14.4 0M1569.4 520.5a7.2 7.2 0 1 0 14.4 0a7.2 7.2 0 1 0 -14.4 0M1516.2 529.9a7.2 7.2 0 1 0 14.4 0a7.2 7.2 0 1 0 -14.4 0M1512.0 539.3a7.2 7.2 0 1 0 14.4 0a7.2 7.2 0 1 0 -14.4 0M1652.0 539.3a7.2 7.2 0 1 0 14.4 0a7.2 7.2 0 1 0 -14.4 0M1672.3 539.3a7.2 7.2 0 1 0 14.4 0a7.2 7.2 0 1 0 -14.4 0M1482.5 548.7a7.2 7.2 0 1 0 14.4 0a7.2 7.2 0 1 0 -14.4 0M1623.3 548.7a7.2 7.2 0 1 0 14.4 0a7.2 7.2 0 1 0 -14.4 0M1715.3 360.6a7.2 7.2 0 1 0 14.4 0a7.2 7.2 0 1 0 -14.4 0M1755.2 360.6a7.2 7.2 0 1 0 14.4 0a7.2 7.2 0 1 0 -14.4 0M1892.2 360.6a7.2 7.2 0 1 0 14.4 0a7.2 7.2 0 1 0 -14.4 0M1921.2 360.6a7.2 7.2 0 1 0 14.4 0a7.2 7.2 0 1 0 -14.4 0M1947.1 360.6a7.2 7.2 0 1 0 14.4 0a7.2 7.2 0 1 0 -14.4 0M1729.3 370.0a7.2 7.2 0 1 0 14.4 0a7.2 7.2 0 1 0 -14.4 0M1744.0 370.0a7.2 7.2 0 1 0 14.4 0a7.2 7.2 0 1 0 -14.4 0M1775.3 370.0a7.2 7.2 0 1 0 14.4 0a7.2 7.2 0 1 0 -14.4 0M1829.2 370.0a7.2 7.2 0 1 0 14.4 0a7.2 7.2 0 1 0 -14.4 0M1846.3 370.0a7.2 7.2 0 1 0 14.4 0a7.2 7.2 0 1 0 -14.4 0M1851.2 370.0a7.2 7.2 0 1 0 14.4 0a7.2 7.2 0 1 0 -14.4 0M1881.3 370.0a7.2 7.2 0 1 0 14.4 0a7.2 7.2 0 1 0 -14.4 0M1927.5 370.0a7.2 7.2 0 1 0 14.4 0a7.2 7.2 0 1 0 -14.4 0M1772.0 379.4a7.2 7.2 0 1 0 14.4 0a7.2 7.2 0 1 0 -14.4 0M1863.1 379.4a7.2 7.2 0 1 0 14.4 0a7.2 7.2 0 1 0 -14.4 0M1882.4 379.4a7.2 7.2 0 1 0 14.4 0a7.2 7.2 0 1 0 -14.4 0M1918.1 379.4a7.2 7.2 0 1 0 14.4 0a7.2 7.2 0 1 0 -14.4 0M1940.8 379.4a7.2 7.2 0 1 0 14.4 0a7.2 7.2 0 1 0 -14.4 0M1970.9 379.4a7.2 7.2 0 1 0 14.4 0a7.2 7.2 0 1 0 -14.4 0M1759.4 388.8a7.2 7.2 0 1 0 14.4 0a7.2 7.2 0 1 0 -14.4 0M1767.1 388.8a7.2 7.2 0 1 0 14.4 0a7.2 7.2 0 1 0 -14.4 0M1889.0 388.8a7.2 7.2 0 1 0 14.4 0a7.2 7.2 0 1 0 -14.4 0M1897.4 388.8a7.2 7.2 0 1 0 14.4 0a7.2 7.2 0 1 0 -14.4 0M1951.3 388.8a7.2 7.2 0 1 0 14.4 0a7.2 7.2 0 1 0 -14.4 0M1961.8 388.8a7.2 7.2 0 1 0 14.4 0a7.2 7.2 0 1 0 -14.4 0M1716.0 398.3a7.2 7.2 0 1 0 14.4 0a7.2 7.2 0 1 0 -14.4 0M1830.2 398.3a7.2 7.2 0 1 0 14.4 0a7.2 7.2 0 1 0 -14.4 0M1855.4 398.3a7.2 7.2 0 1 0 14.4 0a7.2 7.2 0 1 0 -14.4 0M1859.6 398.3a7.2 7.2 0 1 0 14.4 0a7.2 7.2 0 1 0 -14.4 0M1914.9 398.3a7.2 7.2 0 1 0 14.4 0a7.2 7.2 0 1 0 -14.4 0M1931.7 398.3a7.2 7.2 0 1 0 14.4 0a7.2 7.2 0 1 0 -14.4 0M1953.4 398.3a7.2 7.2 0 1 0 14.4 0a7.2 7.2 0 1 0 -14.4 0M1963.2 398.3a7.2 7.2 0 1 0 14.4 0a7.2 7.2 0 1 0 -14.4 0M1679.6 407.7a7.2 7.2 0 1 0 14.4 0a7.2 7.2 0 1 0 -14.4 0M1734.2 407.7a7.2 7.2 0 1 0 14.4 0a7.2 7.2 0 1 0 -14.4 0M1816.9 407.7a7.2 7.2 0 1 0 14.4 0a7.2 7.2 0 1 0 -14.4 0M1842.1 407.7a7.2 7.2 0 1 0 14.4 0a7.2 7.2 0 1 0 -14.4 0M1975.1 407.7a7.2 7.2 0 1 0 14.4 0a7.2 7.2 0 1 0 -14.4 0M1723.7 417.1a7.2 7.2 0 1 0 14.4 0a7.2 7.2 0 1 0 -14.4 0M1749.6 417.1a7.2 7.2 0 1 0 14.4 0a7.2 7.2 0 1 0 -14.4 0M1770.9 417.1a7.2 7.2 0 1 0 14.4 0a7.2 7.2 0 1 0 -14.4 0M1787.4 417.1a7.2 7.2 0 1 0 14.4 0a7.2 7.2 0 1 0 -14.4 0M1794.4 417.1a7.2 7.2 0 1 0 14.4 0a7.2 7.2 0 1 0 -14.4 0M1807.8 417.1a7.2 7.2 0 1 0 14.4 0a7.2 7.2 0 1 0 -14.4 0M1711.1 426.5a7.2 7.2 0 1 0 14.4 0a7.2 7.2 0 1 0 -14.4 0M1769.2 426.5a7.2 7.2 0 1 0 14.4 0a7.2 7.2 0 1 0 -14.4 0M1812.0 426.5a7.2 7.2 0 1 0 14.4 0a7.2 7.2 0 1 0 -14.4 0M1872.2 426.5a7.2 7.2 0 1 0 14.4 0a7.2 7.2 0 1 0 -14.4 0M1924.7 426.5a7.2 7.2 0 1 0 14.4 0a7.2 7.2 0 1 0 -14.4 0M1946.4 426.5a7.2 7.2 0 1 0 14.4 0a7.2 7.2 0 1 0 -14.4 0M1754.1 435.9a7.2 7.2 0 1 0 14.4 0a7.2 7.2 0 1 0 -14.4 0M1780.2 435.9a7.2 7.2 0 1 0 14.4 0a7.2 7.2 0 1 0 -14.4 0M1795.8 435.9a7.2 7.2 0 1 0 14.4 0a7.2 7.2 0 1 0 -14.4 0M1802.1 435.9a7.2 7.2 0 1 0 14.4 0a7.2 7.2 0 1 0 -14.4 0M1879.2 435.9a7.2 7.2 0 1 0 14.4 0a7.2 7.2 0 1 0 -14.4 0M1936.6 435.9a7.2 7.2 0 1 0 14.4 0a7.2 7.2 0 1 0 -14.4 0M1947.1 435.9a7.2 7.2 0 1 0 14.4 0a7.2 7.2 0 1 0 -14.4 0M1955.5 435.9a7.2 7.2 0 1 0 14.4 0a7.2 7.2 0 1 0 -14.4 0M1973.7 435.9a7.2 7.2 0 1 0 14.4 0a7.2 7.2 0 1 0 -14.4 0M1841.4 445.3a7.2 7.2 0 1 0 14.4 0a7.2 7.2 0 1 0 -14.4 0M1865.9 445.3a7.2 7.2 0 1 0 14.4 0a7.2 7.2 0 1 0 -14.4 0M1885.5 445.3a7.2 7.2 0 1 0 14.4 0a7.2 7.2 0 1 0 -14.4 0M1910.0 445.3a7.2 7.2 0 1 0 14.4 0a7.2 7.2 0 1 0 -14.4 0M1920.5 445.3a7.2 7.2 0 1 0 14.4 0a7.2 7.2 0 1 0 -14.4 0M1693.3 454.7a7.2 7.2 0 1 0 14.4 0a7.2 7.2 0 1 0 -14.4 0M1815.2 454.7a7.2 7.2 0 1 0 14.4 0a7.2 7.2 0 1 0 -14.4 0M1871.2 454.7a7.2 7.2 0 1 0 14.4 0a7.2 7.2 0 1 0 -14.4 0M1898.1 454.7a7.2 7.2 0 1 0 14.4 0a7.2 7.2 0 1 0 -14.4 0M1918.4 454.7a7.2 7.2 0 1 0 14.4 0a7.2 7.2 0 1 0 -14.4 0M1944.3 454.7a7.2 7.2 0 1 0 14.4 0a7.2 7.2 0 1 0 -14.4 0M1949.9 454.7a7.2 7.2 0 1 0 14.4 0a7.2 7.2 0 1 0 -14.4 0M1693.9 464.1a7.2 7.2 0 1 0 14.4 0a7.2 7.2 0 1 0 -14.4 0M1718.1 464.1a7.2 7.2 0 1 0 14.4 0a7.2 7.2 0 1 0 -14.4 0M1730.3 464.1a7.2 7.2 0 1 0 14.4 0a7.2 7.2 0 1 0 -14.4 0M1789.5 464.1a7.2 7.2 0 1 0 14.4 0a7.2 7.2 0 1 0 -14.4 0M1797.9 464.1a7.2 7.2 0 1 0 14.4 0a7.2 7.2 0 1 0 -14.4 0M1888.3 464.1a7.2 7.2 0 1 0 14.4 0a7.2 7.2 0 1 0 -14.4 0M1907.9 464.1a7.2 7.2 0 1 0 14.4 0a7.2 7.2 0 1 0 -14.4 0M1966.7 464.1a7.2 7.2 0 1 0 14.4 0a7.2 7.2 0 1 0 -14.4 0M1975.8 464.1a7.2 7.2 0 1 0 14.4 0a7.2 7.2 0 1 0 -14.4 0M1790.9 473.5a7.2 7.2 0 1 0 14.4 0a7.2 7.2 0 1 0 -14.4 0M1801.4 473.5a7.2 7.2 0 1 0 14.4 0a7.2 7.2 0 1 0 -14.4 0M1814.1 473.5a7.2 7.2 0 1 0 14.4 0a7.2 7.2 0 1 0 -14.4 0M1912.8 473.5a7.2 7.2 0 1 0 14.4 0a7.2 7.2 0 1 0 -14.4 0M1942.9 473.5a7.2 7.2 0 1 0 14.4 0a7.2 7.2 0 1 0 -14.4 0M1685.2 482.9a7.2 7.2 0 1 0 14.4 0a7.2 7.2 0 1 0 -14.4 0M1733.1 482.9a7.2 7.2 0 1 0 14.4 0a7.2 7.2 0 1 0 -14.4 0M1762.2 482.9a7.2 7.2 0 1 0 14.4 0a7.2 7.2 0 1 0 -14.4 0M1809.2 482.9a7.2 7.2 0 1 0 14.4 0a7.2 7.2 0 1 0 -14.4 0M1874.3 482.9a7.2 7.2 0 1 0 14.4 0a7.2 7.2 0 1 0 -14.4 0M1968.1 482.9a7.2 7.2 0 1 0 14.4 0a7.2 7.2 0 1 0 -14.4 0M1707.3 492.3a7.2 7.2 0 1 0 14.4 0a7.2 7.2 0 1 0 -14.4 0M1749.4 492.3a7.2 7.2 0 1 0 14.4 0a7.2 7.2 0 1 0 -14.4 0M1863.1 492.3a7.2 7.2 0 1 0 14.4 0a7.2 7.2 0 1 0 -14.4 0M1911.4 492.3a7.2 7.2 0 1 0 14.4 0a7.2 7.2 0 1 0 -14.4 0M1920.5 492.3a7.2 7.2 0 1 0 14.4 0a7.2 7.2 0 1 0 -14.4 0M1949.2 492.3a7.2 7.2 0 1 0 14.4 0a7.2 7.2 0 1 0 -14.4 0M1894.2 501.7a7.2 7.2 0 1 0 14.4 0a7.2 7.2 0 1 0 -14.4 0M1935.9 501.7a7.2 7.2 0 1 0 14.4 0a7.2 7.2 0 1 0 -14.4 0M1754.1 511.1a7.2 7.2 0 1 0 14.4 0a7.2 7.2 0 1 0 -14.4 0M1765.3 511.1a7.2 7.2 0 1 0 14.4 0a7.2 7.2 0 1 0 -14.4 0M1892.2 511.1a7.2 7.2 0 1 0 14.4 0a7.2 7.2 0 1 0 -14.4 0M1959.0 511.1a7.2 7.2 0 1 0 14.4 0a7.2 7.2 0 1 0 -14.4 0M1973.0 511.1a7.2 7.2 0 1 0 14.4 0a7.2 7.2 0 1 0 -14.4 0M1720.2 520.5a7.2 7.2 0 1 0 14.4 0a7.2 7.2 0 1 0 -14.4 0M1869.4 520.5a7.2 7.2 0 1 0 14.4 0a7.2 7.2 0 1 0 -14.4 0M1941.2 520.5a7.2 7.2 0 1 0 14.4 0a7.2 7.2 0 1 0 -14.4 0M1744.3 529.9a7.2 7.2 0 1 0 14.4 0a7.2 7.2 0 1 0 -14.4 0M1864.2 529.9a7.2 7.2 0 1 0 14.4 0a7.2 7.2 0 1 0 -14.4 0M1923.3 529.9a7.2 7.2 0 1 0 14.4 0a7.2 7.2 0 1 0 -14.4 0M1747.1 539.3a7.2 7.2 0 1 0 14.4 0a7.2 7.2 0 1 0 -14.4 0M1911.0 539.3a7.2 7.2 0 1 0 14.4 0a7.2 7.2 0 1 0 -14.4 0M1806.4 548.7a7.2 7.2 0 1 0 14.4 0a7.2 7.2 0 1 0 -14.4 0M1895.3 548.7a7.2 7.2 0 1 0 14.4 0a7.2 7.2 0 1 0 -14.4 0M2011.1 360.6a7.2 7.2 0 1 0 14.4 0a7.2 7.2 0 1 0 -14.4 0M2067.1 360.6a7.2 7.2 0 1 0 14.4 0a7.2 7.2 0 1 0 -14.4 0M2092.4 360.6a7.2 7.2 0 1 0 14.4 0a7.2 7.2 0 1 0 -14.4 0M2143.5 360.6a7.2 7.2 0 1 0 14.4 0a7.2 7.2 0 1 0 -14.4 0M2148.4 360.6a7.2 7.2 0 1 0 14.4 0a7.2 7.2 0 1 0 -14.4 0M2164.5 360.6a7.2 7.2 0 1 0 14.4 0a7.2 7.2 0 1 0 -14.4 0M2172.9 360.6a7.2 7.2 0 1 0 14.4 0a7.2 7.2 0 1 0 -14.4 0M2186.9 360.6a7.2 7.2 0 1 0 14.4 0a7.2 7.2 0 1 0 -14.4 0M2202.3 360.6a7.2 7.2 0 1 0 14.4 0a7.2 7.2 0 1 0 -14.4 0M2207.2 360.6a7.2 7.2 0 1 0 14.4 0a7.2 7.2 0 1 0 -14.4 0M1995.1 370.0a7.2 7.2 0 1 0 14.4 0a7.2 7.2 0 1 0 -14.4 0M2008.3 370.0a7.2 7.2 0 1 0 14.4 0a7.2 7.2 0 1 0 -14.4 0M2072.0 370.0a7.2 7.2 0 1 0 14.4 0a7.2 7.2 0 1 0 -14.4 0M2121.1 370.0a7.2 7.2 0 1 0 14.4 0a7.2 7.2 0 1 0 -14.4 0M2180.6 370.0a7.2 7.2 0 1 0 14.4 0a7.2 7.2 0 1 0 -14.4 0M2248.5 370.0a7.2 7.2 0 1 0 14.4 0a7.2 7.2 0 1 0 -14.4 0M2270.9 370.0a7.2 7.2 0 1 0 14.4 0a7.2 7.2 0 1 0 -14.4 0M1986.5 379.4a7.2 7.2 0 1 0 14.4 0a7.2 7.2 0 1 0 -14.4 0M1999.8 379.4a7.2 7.2 0 1 0 14.4 0a7.2 7.2 0 1 0 -14.4 0M2023.4 379.4a7.2 7.2 0 1 0 14.4 0a7.2 7.2 0 1 0 -14.4 0M2030.0 379.4a7.2 7.2 0 1 0 14.4 0a7.2 7.2 0 1 0 -14.4 0M2037.0 379.4a7.2 7.2 0 1 0 14.4 0a7.2 7.2 0 1 0 -14.4 0M2085.3 379.4a7.2 7.2 0 1 0 14.4 0a7.2 7.2 0 1 0 -14.4 0M2119.7 379.4a7.2 7.2 0 1 0 14.4 0a7.2 7.2 0 1 0 -14.4 0M2139.3 379.4a7.2 7.2 0 1 0 14.4 0a7.2 7.2 0 1 0 -14.4 0M2157.5 379.4a7.2 7.2 0 1 0 14.4 0a7.2 7.2 0 1 0 -14.4 0M2163.8 379.4a7.2 7.2 0 1 0 14.4 0a7.2 7.2 0 1 0 -14.4 0M2179.2 379.4a7.2 7.2 0 1 0 14.4 0a7.2 7.2 0 1 0 -14.4 0M2193.2 379.4a7.2 7.2 0 1 0 14.4 0a7.2 7.2 0 1 0 -14.4 0M1970.8 388.8a7.2 7.2 0 1 0 14.4 0a7.2 7.2 0 1 0 -14.4 0M2003.1 388.8a7.2 7.2 0 1 0 14.4 0a7.2 7.2 0 1 0 -14.4 0M2014.3 388.8a7.2 7.2 0 1 0 14.4 0a7.2 7.2 0 1 0 -14.4 0M2032.3 388.8a7.2 7.2 0 1 0 14.4 0a7.2 7.2 0 1 0 -14.4 0M2049.2 388.8a7.2 7.2 0 1 0 14.4 0a7.2 7.2 0 1 0 -14.4 0M2073.2 388.8a7.2 7.2 0 1 0 14.4 0a7.2 7.2 0 1 0 -14.4 0M2111.2 388.8a7.2 7.2 0 1 0 14.4 0a7.2 7.2 0 1 0 -14.4 0M2126.0 388.8a7.2 7.2 0 1 0 14.4 0a7.2 7.2 0 1 0 -14.4 0M2213.5 388.8a7.2 7.2 0 1 0 14.4 0a7.2 7.2 0 1 0 -14.4 0M2251.3 388.8a7.2 7.2 0 1 0 14.4 0a7.2 7.2 0 1 0 -14.4 0M2017.8 398.3a7.2 7.2 0 1 0 14.4 0a7.2 7.2 0 1 0 -14.4 0M2064.8 398.3a7.2 7.2 0 1 0 14.4 0a7.2 7.2 0 1 0 -14.4 0M2044.0 407.7a7.2 7.2 0 1 0 14.4 0a7.2 7.2 0 1 0 -14.4 0M2050.8 407.7a7.2 7.2 0 1 0 14.4 0a7.2 7.2 0 1 0 -14.4 0M2184.1 407.7a7.2 7.2 0 1 0 14.4 0a7.2 7.2 0 1 0 -14.4 0M2240.1 407.7a7.2 7.2 0 1 0 14.4 0a7.2 7.2 0 1 0 -14.4 0M2022.3 417.1a7.2 7.2 0 1 0 14.4 0a7.2 7.2 0 1 0 -14.4 0M2081.8 417.1a7.2 7.2 0 1 0 14.4 0a7.2 7.2 0 1 0 -14.4 0M2088.8 417.1a7.2 7.2 0 1 0 14.4 0a7.2 7.2 0 1 0 -14.4 0M2152.6 417.1a7.2 7.2 0 1 0 14.4 0a7.2 7.2 0 1 0 -14.4 0M2172.9 417.1a7.2 7.2 0 1 0 14.4 0a7.2 7.2 0 1 0 -14.4 0M2250.6 417.1a7.2 7.2 0 1 0 14.4 0a7.2 7.2 0 1 0 -14.4 0M2262.5 417.1a7.2 7.2 0 1 0 14.4 0a7.2 7.2 0 1 0 -14.4 0M2007.0 426.5a7.2 7.2 0 1 0 14.4 0a7.2 7.2 0 1 0 -14.4 0M2050.3 426.5a7.2 7.2 0 1 0 14.4 0a7.2 7.2 0 1 0 -14.4 0M2059.2 426.5a7.2 7.2 0 1 0 14.4 0a7.2 7.2 0 1 0 -14.4 0M2098.7 426.5a7.2 7.2 0 1 0 14.4 0a7.2 7.2 0 1 0 -14.4 0M2114.8 426.5a7.2 7.2 0 1 0 14.4 0a7.2 7.2 0 1 0 -14.4 0M2232.4 426.5a7.2 7.2 0 1 0 14.4 0a7.2 7.2 0 1 0 -14.4 0M2259.7 426.5a7.2 7.2 0 1 0 14.4 0a7.2 7.2 0 1 0 -14.4 0M2029.3 435.9a7.2 7.2 0 1 0 14.4 0a7.2 7.2 0 1 0 -14.4 0M2044.0 435.9a7.2 7.2 0 1 0 14.4 0a7.2 7.2 0 1 0 -14.4 0M2072.0 435.9a7.2 7.2 0 1 0 14.4 0a7.2 7.2 0 1 0 -14.4 0M2095.9 435.9a7.2 7.2 0 1 0 14.4 0a7.2 7.2 0 1 0 -14.4 0M2113.4 435.9a7.2 7.2 0 1 0 14.4 0a7.2 7.2 0 1 0 -14.4 0M2199.2 435.9a7.2 7.2 0 1 0 14.4 0a7.2 7.2 0 1 0 -14.4 0M1987.3 445.3a7.2 7.2 0 1 0 14.4 0a7.2 7.2 0 1 0 -14.4 0M2001.3 445.3a7.2 7.2 0 1 0 14.4 0a7.2 7.2 0 1 0 -14.4 0M2033.1 445.3a7.2 7.2 0 1 0 14.4 0a7.2 7.2 0 1 0 -14.4 0M2048.9 445.3a7.2 7.2 0 1 0 14.4 0a7.2 7.2 0 1 0 -14.4 0M2062.2 445.3a7.2 7.2 0 1 0 14.4 0a7.2 7.2 0 1 0 -14.4 0M2136.5 445.3a7.2 7.2 0 1 0 14.4 0a7.2 7.2 0 1 0 -14.4 0M1997.1 454.7a7.2 7.2 0 1 0 14.4 0a7.2 7.2 0 1 0 -14.4 0M2087.4 454.7a7.2 7.2 0 1 0 14.4 0a7.2 7.2 0 1 0 -14.4 0M2093.1 454.7a7.2 7.2 0 1 0 14.4 0a7.2 7.2 0 1 0 -14.4 0M2128.8 454.7a7.2 7.2 0 1 0 14.4 0a7.2 7.2 0 1 0 -14.4 0M2136.5 454.7a7.2 7.2 0 1 0 14.4 0a7.2 7.2 0 1 0 -14.4 0M2218.4 454.7a7.2 7.2 0 1 0 14.4 0a7.2 7.2 0 1 0 -14.4 0M2246.4 454.7a7.2 7.2 0 1 0 14.4 0a7.2 7.2 0 1 0 -14.4 0M2032.1 464.1a7.2 7.2 0 1 0 14.4 0a7.2 7.2 0 1 0 -14.4 0M2059.4 464.1a7.2 7.2 0 1 0 14.4 0a7.2 7.2 0 1 0 -14.4 0M2066.4 464.1a7.2 7.2 0 1 0 14.4 0a7.2 7.2 0 1 0 -14.4 0M2116.2 464.1a7.2 7.2 0 1 0 14.4 0a7.2 7.2 0 1 0 -14.4 0M2144.9 464.1a7.2 7.2 0 1 0 14.4 0a7.2 7.2 0 1 0 -14.4 0M2205.1 464.1a7.2 7.2 0 1 0 14.4 0a7.2 7.2 0 1 0 -14.4 0M2224.7 464.1a7.2 7.2 0 1 0 14.4 0a7.2 7.2 0 1 0 -14.4 0M2088.1 473.5a7.2 7.2 0 1 0 14.4 0a7.2 7.2 0 1 0 -14.4 0M2235.9 473.5a7.2 7.2 0 1 0 14.4 0a7.2 7.2 0 1 0 -14.4 0M2263.2 473.5a7.2 7.2 0 1 0 14.4 0a7.2 7.2 0 1 0 -14.4 0M1991.5 492.3a7.2 7.2 0 1 0 14.4 0a7.2 7.2 0 1 0 -14.4 0M2104.2 492.3a7.2 7.2 0 1 0 14.4 0a7.2 7.2 0 1 0 -14.4 0M2146.3 492.3a7.2 7.2 0 1 0 14.4 0a7.2 7.2 0 1 0 -14.4 0M2015.3 501.7a7.2 7.2 0 1 0 14.4 0a7.2 7.2 0 1 0 -14.4 0M2021.6 501.7a7.2 7.2 0 1 0 14.4 0a7.2 7.2 0 1 0 -14.4 0M2045.1 501.7a7.2 7.2 0 1 0 14.4 0a7.2 7.2 0 1 0 -14.4 0M2062.2 501.7a7.2 7.2 0 1 0 14.4 0a7.2 7.2 0 1 0 -14.4 0M2080.4 501.7a7.2 7.2 0 1 0 14.4 0a7.2 7.2 0 1 0 -14.4 0M2233.1 501.7a7.2 7.2 0 1 0 14.4 0a7.2 7.2 0 1 0 -14.4 0M1996.4 511.1a7.2 7.2 0 1 0 14.4 0a7.2 7.2 0 1 0 -14.4 0M2002.0 511.1a7.2 7.2 0 1 0 14.4 0a7.2 7.2 0 1 0 -14.4 0M2087.4 511.1a7.2 7.2 0 1 0 14.4 0a7.2 7.2 0 1 0 -14.4 0M1990.8 520.5a7.2 7.2 0 1 0 14.4 0a7.2 7.2 0 1 0 -14.4 0M2018.8 520.5a7.2 7.2 0 1 0 14.4 0a7.2 7.2 0 1 0 -14.4 0M2095.2 520.5a7.2 7.2 0 1 0 14.4 0a7.2 7.2 0 1 0 -14.4 0M1980.3 539.3a7.2 7.2 0 1 0 14.4 0a7.2 7.2 0 1 0 -14.4 0M2028.3 539.3a7.2 7.2 0 1 0 14.4 0a7.2 7.2 0 1 0 -14.4 0M2192.5 548.7a7.2 7.2 0 1 0 14.4 0a7.2 7.2 0 1 0 -14.4 0M2318.1 360.6a7.2 7.2 0 1 0 14.4 0a7.2 7.2 0 1 0 -14.4 0M2335.3 360.6a7.2 7.2 0 1 0 14.4 0a7.2 7.2 0 1 0 -14.4 0M2377.4 360.6a7.2 7.2 0 1 0 14.4 0a7.2 7.2 0 1 0 -14.4 0M2394.7 360.6a7.2 7.2 0 1 0 14.4 0a7.2 7.2 0 1 0 -14.4 0M2294.7 370.0a7.2 7.2 0 1 0 14.4 0a7.2 7.2 0 1 0 -14.4 0M2381.1 370.0a7.2 7.2 0 1 0 14.4 0a7.2 7.2 0 1 0 -14.4 0M2346.8 379.4a7.2 7.2 0 1 0 14.4 0a7.2 7.2 0 1 0 -14.4 0M2354.5 379.4a7.2 7.2 0 1 0 14.4 0a7.2 7.2 0 1 0 -14.4 0M2392.3 379.4a7.2 7.2 0 1 0 14.4 0a7.2 7.2 0 1 0 -14.4 0M2408.2 379.4a7.2 7.2 0 1 0 14.4 0a7.2 7.2 0 1 0 -14.4 0M2299.2 388.8a7.2 7.2 0 1 0 14.4 0a7.2 7.2 0 1 0 -14.4 0M2379.0 388.8a7.2 7.2 0 1 0 14.4 0a7.2 7.2 0 1 0 -14.4 0M2323.0 398.3a7.2 7.2 0 1 0 14.4 0a7.2 7.2 0 1 0 -14.4 0M2299.9 407.7a7.2 7.2 0 1 0 14.4 0a7.2 7.2 0 1 0 -14.4 0M2407.8 407.7a7.2 7.2 0 1 0 14.4 0a7.2 7.2 0 1 0 -14.4 0M2414.1 407.7a7.2 7.2 0 1 0 14.4 0a7.2 7.2 0 1 0 -14.4 0M1391.3 407.7a7.2 7.2 0 1 0 14.4 0a7.2 7.2 0 1 0 -14.4 0M2281.7 417.1a7.2 7.2 0 1 0 14.4 0a7.2 7.2 0 1 0 -14.4 0M2304.1 417.1a7.2 7.2 0 1 0 14.4 0a7.2 7.2 0 1 0 -14.4 0M2312.5 417.1a7.2 7.2 0 1 0 14.4 0a7.2 7.2 0 1 0 -14.4 0M2357.3 417.1a7.2 7.2 0 1 0 14.4 0a7.2 7.2 0 1 0 -14.4 0M2362.2 417.1a7.2 7.2 0 1 0 14.4 0a7.2 7.2 0 1 0 -14.4 0M2383.2 417.1a7.2 7.2 0 1 0 14.4 0a7.2 7.2 0 1 0 -14.4 0M2293.6 426.5a7.2 7.2 0 1 0 14.4 0a7.2 7.2 0 1 0 -14.4 0M2306.2 426.5a7.2 7.2 0 1 0 14.4 0a7.2 7.2 0 1 0 -14.4 0M2320.2 426.5a7.2 7.2 0 1 0 14.4 0a7.2 7.2 0 1 0 -14.4 0M2363.6 426.5a7.2 7.2 0 1 0 14.4 0a7.2 7.2 0 1 0 -14.4 0M2343.7 435.9a7.2 7.2 0 1 0 14.4 0a7.2 7.2 0 1 0 -14.4 0M2385.3 435.9a7.2 7.2 0 1 0 14.4 0a7.2 7.2 0 1 0 -14.4 0M1389.2 435.9a7.2 7.2 0 1 0 14.4 0a7.2 7.2 0 1 0 -14.4 0M2316.0 445.3a7.2 7.2 0 1 0 14.4 0a7.2 7.2 0 1 0 -14.4 0M2335.6 445.3a7.2 7.2 0 1 0 14.4 0a7.2 7.2 0 1 0 -14.4 0M2350.7 445.3a7.2 7.2 0 1 0 14.4 0a7.2 7.2 0 1 0 -14.4 0M2362.9 445.3a7.2 7.2 0 1 0 14.4 0a7.2 7.2 0 1 0 -14.4 0M2430.2 445.3a7.2 7.2 0 1 0 14.4 0a7.2 7.2 0 1 0 -14.4 0M2365.0 454.7a7.2 7.2 0 1 0 14.4 0a7.2 7.2 0 1 0 -14.4 0M2372.0 454.7a7.2 7.2 0 1 0 14.4 0a7.2 7.2 0 1 0 -14.4 0M2400.8 454.7a7.2 7.2 0 1 0 14.4 0a7.2 7.2 0 1 0 -14.4 0M2419.7 454.7a7.2 7.2 0 1 0 14.4 0a7.2 7.2 0 1 0 -14.4 0M2313.2 464.1a7.2 7.2 0 1 0 14.4 0a7.2 7.2 0 1 0 -14.4 0M2334.2 464.1a7.2 7.2 0 1 0 14.4 0a7.2 7.2 0 1 0 -14.4 0M2372.0 473.5a7.2 7.2 0 1 0 14.4 0a7.2 7.2 0 1 0 -14.4 0M2436.2 473.5a7.2 7.2 0 1 0 14.4 0a7.2 7.2 0 1 0 -14.4 0M1378.8 473.5a7.2 7.2 0 1 0 14.4 0a7.2 7.2 0 1 0 -14.4 0M2279.6 492.3a7.2 7.2 0 1 0 14.4 0a7.2 7.2 0 1 0 -14.4 0M2394.2 492.3a7.2 7.2 0 1 0 14.4 0a7.2 7.2 0 1 0 -14.4 0M2429.5 492.3a7.2 7.2 0 1 0 14.4 0a7.2 7.2 0 1 0 -14.4 0M2442.1 492.3a7.2 7.2 0 1 0 14.4 0a7.2 7.2 0 1 0 -14.4 0M1378.8 492.3a7.2 7.2 0 1 0 14.4 0a7.2 7.2 0 1 0 -14.4 0M2398.0 501.7a7.2 7.2 0 1 0 14.4 0a7.2 7.2 0 1 0 -14.4 0M2414.8 511.1a7.2 7.2 0 1 0 14.4 0a7.2 7.2 0 1 0 -14.4 0M1381.5 511.1a7.2 7.2 0 1 0 14.4 0a7.2 7.2 0 1 0 -14.4 0M2379.0 520.5a7.2 7.2 0 1 0 14.4 0a7.2 7.2 0 1 0 -14.4 0M2418.3 520.5a7.2 7.2 0 1 0 14.4 0a7.2 7.2 0 1 0 -14.4 0M2355.9 529.9a7.2 7.2 0 1 0 14.4 0a7.2 7.2 0 1 0 -14.4 0M2421.1 529.9a7.2 7.2 0 1 0 14.4 0a7.2 7.2 0 1 0 -14.4 0M2342.3 539.3a7.2 7.2 0 1 0 14.4 0a7.2 7.2 0 1 0 -14.4 0M2368.1 539.3a7.2 7.2 0 1 0 14.4 0a7.2 7.2 0 1 0 -14.4 0M2422.5 539.3a7.2 7.2 0 1 0 14.4 0a7.2 7.2 0 1 0 -14.4 0M2444.9 539.3a7.2 7.2 0 1 0 14.4 0a7.2 7.2 0 1 0 -14.4 0M2449.8 539.3a7.2 7.2 0 1 0 14.4 0a7.2 7.2 0 1 0 -14.4 0M1655.5 567.5a7.2 7.2 0 1 0 14.4 0a7.2 7.2 0 1 0 -14.4 0M1790.2 558.1a7.2 7.2 0 1 0 14.4 0a7.2 7.2 0 1 0 -14.4 0M1724.4 567.5a7.2 7.2 0 1 0 14.4 0a7.2 7.2 0 1 0 -14.4 0M1970.9 567.5a7.2 7.2 0 1 0 14.4 0a7.2 7.2 0 1 0 -14.4 0M1960.4 586.3a7.2 7.2 0 1 0 14.4 0a7.2 7.2 0 1 0 -14.4 0M1981.7 558.1a7.2 7.2 0 1 0 14.4 0a7.2 7.2 0 1 0 -14.4 0M2018.8 558.1a7.2 7.2 0 1 0 14.4 0a7.2 7.2 0 1 0 -14.4 0M2419.0 558.1a7.2 7.2 0 1 0 14.4 0a7.2 7.2 0 1 0 -14.4 0M2479.2 558.1a7.2 7.2 0 1 0 14.4 0a7.2 7.2 0 1 0 -14.4 0M1387.1 558.1a7.2 7.2 0 1 0 14.4 0a7.2 7.2 0 1 0 -14.4 0M1384.3 567.5a7.2 7.2 0 1 0 14.4 0a7.2 7.2 0 1 0 -14.4 0M2428.8 586.3a7.2 7.2 0 1 0 14.4 0a7.2 7.2 0 1 0 -14.4 0M2452.6 586.3a7.2 7.2 0 1 0 14.4 0a7.2 7.2 0 1 0 -14.4 0M2475.7 605.1a7.2 7.2 0 1 0 14.4 0a7.2 7.2 0 1 0 -14.4 0M2430.2 623.9a7.2 7.2 0 1 0 14.4 0a7.2 7.2 0 1 0 -14.4 0M2436.5 642.8a7.2 7.2 0 1 0 14.4 0a7.2 7.2 0 1 0 -14.4 0M2454.7 642.8a7.2 7.2 0 1 0 14.4 0a7.2 7.2 0 1 0 -14.4 0M2472.2 642.8a7.2 7.2 0 1 0 14.4 0a7.2 7.2 0 1 0 -14.4 0M2458.9 652.2a7.2 7.2 0 1 0 14.4 0a7.2 7.2 0 1 0 -14.4 0M2466.6 661.6a7.2 7.2 0 1 0 14.4 0a7.2 7.2 0 1 0 -14.4 0M1377.3 671.0a7.2 7.2 0 1 0 14.4 0a7.2 7.2 0 1 0 -14.4 0M2461.7 680.4a7.2 7.2 0 1 0 14.4 0a7.2 7.2 0 1 0 -14.4 0M2486.9 680.4a7.2 7.2 0 1 0 14.4 0a7.2 7.2 0 1 0 -14.4 0M2451.2 689.8a7.2 7.2 0 1 0 14.4 0a7.2 7.2 0 1 0 -14.4 0M2454.0 708.6a7.2 7.2 0 1 0 14.4 0a7.2 7.2 0 1 0 -14.4 0M2465.9 718.0a7.2 7.2 0 1 0 14.4 0a7.2 7.2 0 1 0 -14.4 0M2462.4 736.8a7.2 7.2 0 1 0 14.4 0a7.2 7.2 0 1 0 -14.4 0M2452.6 746.2a7.2 7.2 0 1 0 14.4 0a7.2 7.2 0 1 0 -14.4 0M2468.0 746.2a7.2 7.2 0 1 0 14.4 0a7.2 7.2 0 1 0 -14.4 0M2469.4 821.4a7.2 7.2 0 1 0 14.4 0a7.2 7.2 0 1 0 -14.4 0M2458.2 849.6a7.2 7.2 0 1 0 14.4 0a7.2 7.2 0 1 0 -14.4 0"/>
<path clip-path="url(#cb)" fill="#000" d="M329.2 1045.2a7.2 7.2 0 1 0 14.4 0a7.2 7.2 0 1 0 -14.4 0M319.3 1094.0a7.2 7.2 0 1 0 14.4 0a7.2 7.2 0 1 0 -14.4 0M316.2 1101.4a7.2 7.2 0 1 0 14.4 0a7.2 7.2 0 1 0 -14.4 0M330.2 1091.1a7.2 7.2 0 1 0 14.4 0a7.2 7.2 0 1 0 -14.4 0M361.3 1063.9a7.2 7.2 0 1 0 14.4 0a7.2 7.2 0 1 0 -14.4 0M489.2 1057.0a7.2 7.2 0 1 0 14.4 0a7.2 7.2 0 1 0 -14.4 0M338.6 1104.5a7.2 7.2 0 1 0 14.4 0a7.2 7.2 0 1 0 -14.4 0M372.2 1076.1a7.2 7.2 0 1 0 14.4 0a7.2 7.2 0 1 0 -14.4 0M340.3 1107.3a7.2 7.2 0 1 0 14.4 0a7.2 7.2 0 1 0 -14.4 0M421.3 1069.9a7.2 7.2 0 1 0 14.4 0a7.2 7.2 0 1 0 -14.4 0M367.3 1088.2a7.2 7.2 0 1 0 14.4 0a7.2 7.2 0 1 0 -14.4 0M381.3 1081.6a7.2 7.2 0 1 0 14.4 0a7.2 7.2 0 1 0 -14.4 0M464.0 1074.8a7.2 7.2 0 1 0 14.4 0a7.2 7.2 0 1 0 -14.4 0M318.3 1142.0a7.2 7.2 0 1 0 14.4 0a7.2 7.2 0 1 0 -14.4 0M341.4 1115.4a7.2 7.2 0 1 0 14.4 0a7.2 7.2 0 1 0 -14.4 0M411.2 1080.0a7.2 7.2 0 1 0 14.4 0a7.2 7.2 0 1 0 -14.4 0M384.1 1090.0a7.2 7.2 0 1 0 14.4 0a7.2 7.2 0 1 0 -14.4 0M570.7 1074.6a7.2 7.2 0 1 0 14.4 0a7.2 7.2 0 1 0 -14.4 0M612.3 1071.3a7.2 7.2 0 1 0 14.4 0a7.2 7.2 0 1 0 -14.4 0M815.1 1037.4a7.2 7.2 0 1 0 14.4 0a7.2 7.2 0 1 0 -14.4 0M762.3 1046.1a7.2 7.2 0 1 0 14.4 0a7.2 7.2 0 1 0 -14.4 0M830.5 1051.8a7.2 7.2 0 1 0 14.4 0a7.2 7.2 0 1 0 -14.4 0M848.0 1056.7a7.2 7.2 0 1 0 14.4 0a7.2 7.2 0 1 0 -14.4 0M855.0 1061.5a7.2 7.2 0 1 0 14.4 0a7.2 7.2 0 1 0 -14.4 0M766.1 1065.0a7.2 7.2 0 1 0 14.4 0a7.2 7.2 0 1 0 -14.4 0M817.9 1065.7a7.2 7.2 0 1 0 14.4 0a7.2 7.2 0 1 0 -14.4 0M811.9 1070.4a7.2 7.2 0 1 0 14.4 0a7.2 7.2 0 1 0 -14.4 0M838.9 1070.7a7.2 7.2 0 1 0 14.4 0a7.2 7.2 0 1 0 -14.4 0M829.1 1075.3a7.2 7.2 0 1 0 14.4 0a7.2 7.2 0 1 0 -14.4 0M845.9 1075.5a7.2 7.2 0 1 0 14.4 0a7.2 7.2 0 1 0 -14.4 0M716.1 1078.3a7.2 7.2 0 1 0 14.4 0a7.2 7.2 0 1 0 -14.4 0M775.9 1079.3a7.2 7.2 0 1 0 14.4 0a7.2 7.2 0 1 0 -14.4 0M820.0 1079.9a7.2 7.2 0 1 0 14.4 0a7.2 7.2 0 1 0 -14.4 0M843.1 1080.2a7.2 7.2 0 1 0 14.4 0a7.2 7.2 0 1 0 -14.4 0M708.0 1082.9a7.2 7.2 0 1 0 14.4 0a7.2 7.2 0 1 0 -14.4 0M745.1 1083.5a7.2 7.2 0 1 0 14.4 0a7.2 7.2 0 1 0 -14.4 0M779.0 1084.0a7.2 7.2 0 1 0 14.4 0a7.2 7.2 0 1 0 -14.4 0M841.7 1084.9a7.2 7.2 0 1 0 14.4 0a7.2 7.2 0 1 0 -14.4 0M711.2 1087.7a7.2 7.2 0 1 0 14.4 0a7.2 7.2 0 1 0 -14.4 0M743.0 1088.2a7.2 7.2 0 1 0 14.4 0a7.2 7.2 0 1 0 -14.4 0M726.9 1092.6a7.2 7.2 0 1 0 14.4 0a7.2 7.2 0 1 0 -14.4 0M822.1 1094.1a7.2 7.2 0 1 0 14.4 0a7.2 7.2 0 1 0 -14.4 0M847.3 1094.4a7.2 7.2 0 1 0 14.4 0a7.2 7.2 0 1 0 -14.4 0M869.3 1019.3a7.2 7.2 0 1 0 14.4 0a7.2 7.2 0 1 0 -14.4 0M868.3 1057.0a7.2 7.2 0 1 0 14.4 0a7.2 7.2 0 1 0 -14.4 0M864.4 1071.1a7.2 7.2 0 1 0 14.4 0a7.2 7.2 0 1 0 -14.4 0M878.4 1071.3a7.2 7.2 0 1 0 14.4 0a7.2 7.2 0 1 0 -14.4 0M934.1 1043.8a7.2 7.2 0 1 0 14.4 0a7.2 7.2 0 1 0 -14.4 0M927.1 1053.1a7.2 7.2 0 1 0 14.4 0a7.2 7.2 0 1 0 -14.4 0M965.2 1063.2a7.2 7.2 0 1 0 14.4 0a7.2 7.2 0 1 0 -14.4 0M1031.1 1069.2a7.2 7.2 0 1 0 14.4 0a7.2 7.2 0 1 0 -14.4 0M976.2 1072.8a7.2 7.2 0 1 0 14.4 0a7.2 7.2 0 1 0 -14.4 0M1104.3 1034.0a7.2 7.2 0 1 0 14.4 0a7.2 7.2 0 1 0 -14.4 0M1150.1 1031.7a7.2 7.2 0 1 0 14.4 0a7.2 7.2 0 1 0 -14.4 0M917.9 1076.5a7.2 7.2 0 1 0 14.4 0a7.2 7.2 0 1 0 -14.4 0M931.3 1076.7a7.2 7.2 0 1 0 14.4 0a7.2 7.2 0 1 0 -14.4 0M934.4 1081.5a7.2 7.2 0 1 0 14.4 0a7.2 7.2 0 1 0 -14.4 0M1081.2 1084.9a7.2 7.2 0 1 0 14.4 0a7.2 7.2 0 1 0 -14.4 0M1148.0 1088.1a7.2 7.2 0 1 0 14.4 0a7.2 7.2 0 1 0 -14.4 0M1155.7 1079.2a7.2 7.2 0 1 0 14.4 0a7.2 7.2 0 1 0 -14.4 0M913.4 1085.9a7.2 7.2 0 1 0 14.4 0a7.2 7.2 0 1 0 -14.4 0M938.2 1086.3a7.2 7.2 0 1 0 14.4 0a7.2 7.2 0 1 0 -14.4 0M964.3 1086.7a7.2 7.2 0 1 0 14.4 0a7.2 7.2 0 1 0 -14.4 0M986.3 1087.1a7.2 7.2 0 1 0 14.4 0a7.2 7.2 0 1 0 -14.4 0M880.2 1090.1a7.2 7.2 0 1 0 14.4 0a7.2 7.2 0 1 0 -14.4 0M1106.0 1095.3a7.2 7.2 0 1 0 14.4 0a7.2 7.2 0 1 0 -14.4 0M1145.2 1097.4a7.2 7.2 0 1 0 14.4 0a7.2 7.2 0 1 0 -14.4 0M872.1 1094.7a7.2 7.2 0 1 0 14.4 0a7.2 7.2 0 1 0 -14.4 0M898.3 1095.1a7.2 7.2 0 1 0 14.4 0a7.2 7.2 0 1 0 -14.4 0M940.3 1095.7a7.2 7.2 0 1 0 14.4 0a7.2 7.2 0 1 0 -14.4 0M959.9 1096.0a7.2 7.2 0 1 0 14.4 0a7.2 7.2 0 1 0 -14.4 0M967.6 1096.2a7.2 7.2 0 1 0 14.4 0a7.2 7.2 0 1 0 -14.4 0M987.4 1096.5a7.2 7.2 0 1 0 14.4 0a7.2 7.2 0 1 0 -14.4 0M1053.5 1098.1a7.2 7.2 0 1 0 14.4 0a7.2 7.2 0 1 0 -14.4 0M1092.3 1099.5a7.2 7.2 0 1 0 14.4 0a7.2 7.2 0 1 0 -14.4 0M1168.6 1033.0a7.2 7.2 0 1 0 14.4 0a7.2 7.2 0 1 0 -14.4 0M1265.0 1034.1a7.2 7.2 0 1 0 14.4 0a7.2 7.2 0 1 0 -14.4 0M1177.3 1066.6a7.2 7.2 0 1 0 14.4 0a7.2 7.2 0 1 0 -14.4 0M1199.1 1063.5a7.2 7.2 0 1 0 14.4 0a7.2 7.2 0 1 0 -14.4 0M1218.7 1064.8a7.2 7.2 0 1 0 14.4 0a7.2 7.2 0 1 0 -14.4 0M1225.3 1065.1a7.2 7.2 0 1 0 14.4 0a7.2 7.2 0 1 0 -14.4 0M1264.3 1072.0a7.2 7.2 0 1 0 14.4 0a7.2 7.2 0 1 0 -14.4 0M1167.9 1080.0a7.2 7.2 0 1 0 14.4 0a7.2 7.2 0 1 0 -14.4 0M1213.1 1083.3a7.2 7.2 0 1 0 14.4 0a7.2 7.2 0 1 0 -14.4 0M1207.8 1087.7a7.2 7.2 0 1 0 14.4 0a7.2 7.2 0 1 0 -14.4 0M1173.5 1089.9a7.2 7.2 0 1 0 14.4 0a7.2 7.2 0 1 0 -14.4 0M1196.9 1091.6a7.2 7.2 0 1 0 14.4 0a7.2 7.2 0 1 0 -14.4 0M1215.1 1092.9a7.2 7.2 0 1 0 14.4 0a7.2 7.2 0 1 0 -14.4 0M1232.3 1098.3a7.2 7.2 0 1 0 14.4 0a7.2 7.2 0 1 0 -14.4 0M1171.4 1099.1a7.2 7.2 0 1 0 14.4 0a7.2 7.2 0 1 0 -14.4 0M1181.2 1099.8a7.2 7.2 0 1 0 14.4 0a7.2 7.2 0 1 0 -14.4 0M1195.2 1100.9a7.2 7.2 0 1 0 14.4 0a7.2 7.2 0 1 0 -14.4 0M1200.8 1101.3a7.2 7.2 0 1 0 14.4 0a7.2 7.2 0 1 0 -14.4 0M1216.2 1102.3a7.2 7.2 0 1 0 14.4 0a7.2 7.2 0 1 0 -14.4 0M1238.9 1103.1a7.2 7.2 0 1 0 14.4 0a7.2 7.2 0 1 0 -14.4 0M1248.4 1107.4a7.2 7.2 0 1 0 14.4 0a7.2 7.2 0 1 0 -14.4 0M314.8 1154.2a7.2 7.2 0 1 0 14.4 0a7.2 7.2 0 1 0 -14.4 0M375.0 1098.3a7.2 7.2 0 1 0 14.4 0a7.2 7.2 0 1 0 -14.4 0M406.3 1090.0a7.2 7.2 0 1 0 14.4 0a7.2 7.2 0 1 0 -14.4 0M410.1 1089.5a7.2 7.2 0 1 0 14.4 0a7.2 7.2 0 1 0 -14.4 0M431.2 1088.4a7.2 7.2 0 1 0 14.4 0a7.2 7.2 0 1 0 -14.4 0M458.9 1088.8a7.2 7.2 0 1 0 14.4 0a7.2 7.2 0 1 0 -14.4 0M474.2 1089.4a7.2 7.2 0 1 0 14.4 0a7.2 7.2 0 1 0 -14.4 0M493.0 1090.2a7.2 7.2 0 1 0 14.4 0a7.2 7.2 0 1 0 -14.4 0M520.0 1091.4a7.2 7.2 0 1 0 14.4 0a7.2 7.2 0 1 0 -14.4 0M327.4 1146.3a7.2 7.2 0 1 0 14.4 0a7.2 7.2 0 1 0 -14.4 0M357.5 1113.9a7.2 7.2 0 1 0 14.4 0a7.2 7.2 0 1 0 -14.4 0M374.3 1103.3a7.2 7.2 0 1 0 14.4 0a7.2 7.2 0 1 0 -14.4 0M431.8 1093.1a7.2 7.2 0 1 0 14.4 0a7.2 7.2 0 1 0 -14.4 0M442.0 1093.1a7.2 7.2 0 1 0 14.4 0a7.2 7.2 0 1 0 -14.4 0M460.9 1093.6a7.2 7.2 0 1 0 14.4 0a7.2 7.2 0 1 0 -14.4 0M473.1 1094.0a7.2 7.2 0 1 0 14.4 0a7.2 7.2 0 1 0 -14.4 0M328.1 1150.2a7.2 7.2 0 1 0 14.4 0a7.2 7.2 0 1 0 -14.4 0M344.2 1131.1a7.2 7.2 0 1 0 14.4 0a7.2 7.2 0 1 0 -14.4 0M370.1 1110.2a7.2 7.2 0 1 0 14.4 0a7.2 7.2 0 1 0 -14.4 0M385.5 1103.7a7.2 7.2 0 1 0 14.4 0a7.2 7.2 0 1 0 -14.4 0M427.8 1097.9a7.2 7.2 0 1 0 14.4 0a7.2 7.2 0 1 0 -14.4 0M443.9 1097.9a7.2 7.2 0 1 0 14.4 0a7.2 7.2 0 1 0 -14.4 0M457.0 1098.2a7.2 7.2 0 1 0 14.4 0a7.2 7.2 0 1 0 -14.4 0M493.0 1099.6a7.2 7.2 0 1 0 14.4 0a7.2 7.2 0 1 0 -14.4 0M557.1 1102.4a7.2 7.2 0 1 0 14.4 0a7.2 7.2 0 1 0 -14.4 0M362.4 1119.7a7.2 7.2 0 1 0 14.4 0a7.2 7.2 0 1 0 -14.4 0M399.6 1105.1a7.2 7.2 0 1 0 14.4 0a7.2 7.2 0 1 0 -14.4 0M435.3 1102.5a7.2 7.2 0 1 0 14.4 0a7.2 7.2 0 1 0 -14.4 0M452.4 1102.7a7.2 7.2 0 1 0 14.4 0a7.2 7.2 0 1 0 -14.4 0M517.9 1105.4a7.2 7.2 0 1 0 14.4 0a7.2 7.2 0 1 0 -14.4 0M543.8 1106.6a7.2 7.2 0 1 0 14.4 0a7.2 7.2 0 1 0 -14.4 0M379.9 1115.1a7.2 7.2 0 1 0 14.4 0a7.2 7.2 0 1 0 -14.4 0M419.9 1107.7a7.2 7.2 0 1 0 14.4 0a7.2 7.2 0 1 0 -14.4 0M444.2 1107.3a7.2 7.2 0 1 0 14.4 0a7.2 7.2 0 1 0 -14.4 0M513.0 1109.9a7.2 7.2 0 1 0 14.4 0a7.2 7.2 0 1 0 -14.4 0M558.5 1111.9a7.2 7.2 0 1 0 14.4 0a7.2 7.2 0 1 0 -14.4 0M325.3 1167.7a7.2 7.2 0 1 0 14.4 0a7.2 7.2 0 1 0 -14.4 0M391.2 1116.3a7.2 7.2 0 1 0 14.4 0a7.2 7.2 0 1 0 -14.4 0M424.1 1112.2a7.2 7.2 0 1 0 14.4 0a7.2 7.2 0 1 0 -14.4 0M509.5 1114.5a7.2 7.2 0 1 0 14.4 0a7.2 7.2 0 1 0 -14.4 0M548.7 1116.2a7.2 7.2 0 1 0 14.4 0a7.2 7.2 0 1 0 -14.4 0M561.3 1116.7a7.2 7.2 0 1 0 14.4 0a7.2 7.2 0 1 0 -14.4 0M365.9 1131.5a7.2 7.2 0 1 0 14.4 0a7.2 7.2 0 1 0 -14.4 0M453.2 1116.9a7.2 7.2 0 1 0 14.4 0a7.2 7.2 0 1 0 -14.4 0M328.1 1173.8a7.2 7.2 0 1 0 14.4 0a7.2 7.2 0 1 0 -14.4 0M351.2 1147.6a7.2 7.2 0 1 0 14.4 0a7.2 7.2 0 1 0 -14.4 0M356.8 1142.7a7.2 7.2 0 1 0 14.4 0a7.2 7.2 0 1 0 -14.4 0M473.1 1122.3a7.2 7.2 0 1 0 14.4 0a7.2 7.2 0 1 0 -14.4 0M349.1 1154.3a7.2 7.2 0 1 0 14.4 0a7.2 7.2 0 1 0 -14.4 0M356.1 1148.0a7.2 7.2 0 1 0 14.4 0a7.2 7.2 0 1 0 -14.4 0M529.8 1129.5a7.2 7.2 0 1 0 14.4 0a7.2 7.2 0 1 0 -14.4 0M369.4 1143.5a7.2 7.2 0 1 0 14.4 0a7.2 7.2 0 1 0 -14.4 0M393.3 1134.6a7.2 7.2 0 1 0 14.4 0a7.2 7.2 0 1 0 -14.4 0M422.0 1131.1a7.2 7.2 0 1 0 14.4 0a7.2 7.2 0 1 0 -14.4 0M506.7 1133.2a7.2 7.2 0 1 0 14.4 0a7.2 7.2 0 1 0 -14.4 0M526.3 1134.1a7.2 7.2 0 1 0 14.4 0a7.2 7.2 0 1 0 -14.4 0M550.1 1135.1a7.2 7.2 0 1 0 14.4 0a7.2 7.2 0 1 0 -14.4 0M356.1 1157.4a7.2 7.2 0 1 0 14.4 0a7.2 7.2 0 1 0 -14.4 0M377.1 1144.5a7.2 7.2 0 1 0 14.4 0a7.2 7.2 0 1 0 -14.4 0M386.2 1141.2a7.2 7.2 0 1 0 14.4 0a7.2 7.2 0 1 0 -14.4 0M393.3 1139.3a7.2 7.2 0 1 0 14.4 0a7.2 7.2 0 1 0 -14.4 0M431.1 1135.6a7.2 7.2 0 1 0 14.4 0a7.2 7.2 0 1 0 -14.4 0M468.2 1136.2a7.2 7.2 0 1 0 14.4 0a7.2 7.2 0 1 0 -14.4 0M480.1 1136.7a7.2 7.2 0 1 0 14.4 0a7.2 7.2 0 1 0 -14.4 0M487.1 1137.0a7.2 7.2 0 1 0 14.4 0a7.2 7.2 0 1 0 -14.4 0M519.3 1138.5a7.2 7.2 0 1 0 14.4 0a7.2 7.2 0 1 0 -14.4 0M555.7 1140.0a7.2 7.2 0 1 0 14.4 0a7.2 7.2 0 1 0 -14.4 0M335.1 1184.1a7.2 7.2 0 1 0 14.4 0a7.2 7.2 0 1 0 -14.4 0M362.4 1157.3a7.2 7.2 0 1 0 14.4 0a7.2 7.2 0 1 0 -14.4 0M422.0 1140.5a7.2 7.2 0 1 0 14.4 0a7.2 7.2 0 1 0 -14.4 0M487.1 1141.7a7.2 7.2 0 1 0 14.4 0a7.2 7.2 0 1 0 -14.4 0M351.9 1170.5a7.2 7.2 0 1 0 14.4 0a7.2 7.2 0 1 0 -14.4 0M396.8 1148.0a7.2 7.2 0 1 0 14.4 0a7.2 7.2 0 1 0 -14.4 0M447.9 1145.0a7.2 7.2 0 1 0 14.4 0a7.2 7.2 0 1 0 -14.4 0M464.0 1145.5a7.2 7.2 0 1 0 14.4 0a7.2 7.2 0 1 0 -14.4 0M496.2 1146.9a7.2 7.2 0 1 0 14.4 0a7.2 7.2 0 1 0 -14.4 0M348.4 1178.6a7.2 7.2 0 1 0 14.4 0a7.2 7.2 0 1 0 -14.4 0M412.2 1150.6a7.2 7.2 0 1 0 14.4 0a7.2 7.2 0 1 0 -14.4 0M450.7 1149.8a7.2 7.2 0 1 0 14.4 0a7.2 7.2 0 1 0 -14.4 0M538.2 1153.4a7.2 7.2 0 1 0 14.4 0a7.2 7.2 0 1 0 -14.4 0M481.5 1155.6a7.2 7.2 0 1 0 14.4 0a7.2 7.2 0 1 0 -14.4 0M501.1 1156.5a7.2 7.2 0 1 0 14.4 0a7.2 7.2 0 1 0 -14.4 0M506.0 1156.7a7.2 7.2 0 1 0 14.4 0a7.2 7.2 0 1 0 -14.4 0M364.3 1175.0a7.2 7.2 0 1 0 14.4 0a7.2 7.2 0 1 0 -14.4 0M389.1 1163.9a7.2 7.2 0 1 0 14.4 0a7.2 7.2 0 1 0 -14.4 0M420.6 1159.4a7.2 7.2 0 1 0 14.4 0a7.2 7.2 0 1 0 -14.4 0M460.2 1159.5a7.2 7.2 0 1 0 14.4 0a7.2 7.2 0 1 0 -14.4 0M330.2 1213.6a7.2 7.2 0 1 0 14.4 0a7.2 7.2 0 1 0 -14.4 0M410.1 1164.9a7.2 7.2 0 1 0 14.4 0a7.2 7.2 0 1 0 -14.4 0M458.4 1168.9a7.2 7.2 0 1 0 14.4 0a7.2 7.2 0 1 0 -14.4 0M405.2 1174.9a7.2 7.2 0 1 0 14.4 0a7.2 7.2 0 1 0 -14.4 0M401.0 1180.2a7.2 7.2 0 1 0 14.4 0a7.2 7.2 0 1 0 -14.4 0M541.0 1181.8a7.2 7.2 0 1 0 14.4 0a7.2 7.2 0 1 0 -14.4 0M561.3 1182.6a7.2 7.2 0 1 0 14.4 0a7.2 7.2 0 1 0 -14.4 0M371.5 1194.2a7.2 7.2 0 1 0 14.4 0a7.2 7.2 0 1 0 -14.4 0M512.3 1185.3a7.2 7.2 0 1 0 14.4 0a7.2 7.2 0 1 0 -14.4 0M604.3 1094.6a7.2 7.2 0 1 0 14.4 0a7.2 7.2 0 1 0 -14.4 0M644.2 1095.7a7.2 7.2 0 1 0 14.4 0a7.2 7.2 0 1 0 -14.4 0M781.2 1098.2a7.2 7.2 0 1 0 14.4 0a7.2 7.2 0 1 0 -14.4 0M810.2 1098.6a7.2 7.2 0 1 0 14.4 0a7.2 7.2 0 1 0 -14.4 0M836.1 1099.0a7.2 7.2 0 1 0 14.4 0a7.2 7.2 0 1 0 -14.4 0M618.3 1099.7a7.2 7.2 0 1 0 14.4 0a7.2 7.2 0 1 0 -14.4 0M633.0 1100.1a7.2 7.2 0 1 0 14.4 0a7.2 7.2 0 1 0 -14.4 0M664.3 1100.9a7.2 7.2 0 1 0 14.4 0a7.2 7.2 0 1 0 -14.4 0M718.2 1101.9a7.2 7.2 0 1 0 14.4 0a7.2 7.2 0 1 0 -14.4 0M735.3 1102.2a7.2 7.2 0 1 0 14.4 0a7.2 7.2 0 1 0 -14.4 0M740.2 1102.3a7.2 7.2 0 1 0 14.4 0a7.2 7.2 0 1 0 -14.4 0M770.3 1102.8a7.2 7.2 0 1 0 14.4 0a7.2 7.2 0 1 0 -14.4 0M816.5 1103.4a7.2 7.2 0 1 0 14.4 0a7.2 7.2 0 1 0 -14.4 0M661.0 1105.5a7.2 7.2 0 1 0 14.4 0a7.2 7.2 0 1 0 -14.4 0M752.1 1107.2a7.2 7.2 0 1 0 14.4 0a7.2 7.2 0 1 0 -14.4 0M771.4 1107.5a7.2 7.2 0 1 0 14.4 0a7.2 7.2 0 1 0 -14.4 0M807.1 1108.0a7.2 7.2 0 1 0 14.4 0a7.2 7.2 0 1 0 -14.4 0M829.8 1108.3a7.2 7.2 0 1 0 14.4 0a7.2 7.2 0 1 0 -14.4 0M859.9 1108.7a7.2 7.2 0 1 0 14.4 0a7.2 7.2 0 1 0 -14.4 0M648.4 1109.9a7.2 7.2 0 1 0 14.4 0a7.2 7.2 0 1 0 -14.4 0M656.1 1110.1a7.2 7.2 0 1 0 14.4 0a7.2 7.2 0 1 0 -14.4 0M778.0 1112.3a7.2 7.2 0 1 0 14.4 0a7.2 7.2 0 1 0 -14.4 0M786.4 1112.4a7.2 7.2 0 1 0 14.4 0a7.2 7.2 0 1 0 -14.4 0M840.3 1113.2a7.2 7.2 0 1 0 14.4 0a7.2 7.2 0 1 0 -14.4 0M850.8 1113.3a7.2 7.2 0 1 0 14.4 0a7.2 7.2 0 1 0 -14.4 0M605.0 1113.4a7.2 7.2 0 1 0 14.4 0a7.2 7.2 0 1 0 -14.4 0M719.2 1116.1a7.2 7.2 0 1 0 14.4 0a7.2 7.2 0 1 0 -14.4 0M744.4 1116.5a7.2 7.2 0 1 0 14.4 0a7.2 7.2 0 1 0 -14.4 0M748.6 1116.6a7.2 7.2 0 1 0 14.4 0a7.2 7.2 0 1 0 -14.4 0M803.9 1117.4a7.2 7.2 0 1 0 14.4 0a7.2 7.2 0 1 0 -14.4 0M820.7 1117.6a7.2 7.2 0 1 0 14.4 0a7.2 7.2 0 1 0 -14.4 0M842.4 1117.9a7.2 7.2 0 1 0 14.4 0a7.2 7.2 0 1 0 -14.4 0M852.2 1118.0a7.2 7.2 0 1 0 14.4 0a7.2 7.2 0 1 0 -14.4 0M568.6 1116.9a7.2 7.2 0 1 0 14.4 0a7.2 7.2 0 1 0 -14.4 0M623.2 1118.7a7.2 7.2 0 1 0 14.4 0a7.2 7.2 0 1 0 -14.4 0M705.9 1120.5a7.2 7.2 0 1 0 14.4 0a7.2 7.2 0 1 0 -14.4 0M731.1 1121.0a7.2 7.2 0 1 0 14.4 0a7.2 7.2 0 1 0 -14.4 0M864.1 1122.9a7.2 7.2 0 1 0 14.4 0a7.2 7.2 0 1 0 -14.4 0M612.7 1123.1a7.2 7.2 0 1 0 14.4 0a7.2 7.2 0 1 0 -14.4 0M638.6 1123.8a7.2 7.2 0 1 0 14.4 0a7.2 7.2 0 1 0 -14.4 0M659.9 1124.3a7.2 7.2 0 1 0 14.4 0a7.2 7.2 0 1 0 -14.4 0M676.4 1124.7a7.2 7.2 0 1 0 14.4 0a7.2 7.2 0 1 0 -14.4 0M683.4 1124.8a7.2 7.2 0 1 0 14.4 0a7.2 7.2 0 1 0 -14.4 0M696.8 1125.1a7.2 7.2 0 1 0 14.4 0a7.2 7.2 0 1 0 -14.4 0M600.1 1127.4a7.2 7.2 0 1 0 14.4 0a7.2 7.2 0 1 0 -14.4 0M658.2 1129.0a7.2 7.2 0 1 0 14.4 0a7.2 7.2 0 1 0 -14.4 0M701.0 1129.9a7.2 7.2 0 1 0 14.4 0a7.2 7.2 0 1 0 -14.4 0M761.2 1130.9a7.2 7.2 0 1 0 14.4 0a7.2 7.2 0 1 0 -14.4 0M813.7 1131.6a7.2 7.2 0 1 0 14.4 0a7.2 7.2 0 1 0 -14.4 0M835.4 1131.9a7.2 7.2 0 1 0 14.4 0a7.2 7.2 0 1 0 -14.4 0M643.1 1133.3a7.2 7.2 0 1 0 14.4 0a7.2 7.2 0 1 0 -14.4 0M669.2 1133.9a7.2 7.2 0 1 0 14.4 0a7.2 7.2 0 1 0 -14.4 0M684.8 1134.3a7.2 7.2 0 1 0 14.4 0a7.2 7.2 0 1 0 -14.4 0M691.1 1134.4a7.2 7.2 0 1 0 14.4 0a7.2 7.2 0 1 0 -14.4 0M768.2 1135.7a7.2 7.2 0 1 0 14.4 0a7.2 7.2 0 1 0 -14.4 0M825.6 1136.5a7.2 7.2 0 1 0 14.4 0a7.2 7.2 0 1 0 -14.4 0M836.1 1136.7a7.2 7.2 0 1 0 14.4 0a7.2 7.2 0 1 0 -14.4 0M844.5 1136.8a7.2 7.2 0 1 0 14.4 0a7.2 7.2 0 1 0 -14.4 0M862.7 1137.0a7.2 7.2 0 1 0 14.4 0a7.2 7.2 0 1 0 -14.4 0M730.4 1139.8a7.2 7.2 0 1 0 14.4 0a7.2 7.2 0 1 0 -14.4 0M754.9 1140.2a7.2 7.2 0 1 0 14.4 0a7.2 7.2 0 1 0 -14.4 0M774.5 1140.5a7.2 7.2 0 1 0 14.4 0a7.2 7.2 0 1 0 -14.4 0M799.0 1140.9a7.2 7.2 0 1 0 14.4 0a7.2 7.2 0 1 0 -14.4 0M809.5 1141.0a7.2 7.2 0 1 0 14.4 0a7.2 7.2 0 1 0 -14.4 0M582.3 1141.0a7.2 7.2 0 1 0 14.4 0a7.2 7.2 0 1 0 -14.4 0M704.2 1144.1a7.2 7.2 0 1 0 14.4 0a7.2 7.2 0 1 0 -14.4 0M760.2 1145.0a7.2 7.2 0 1 0 14.4 0a7.2 7.2 0 1 0 -14.4 0M787.1 1145.4a7.2 7.2 0 1 0 14.4 0a7.2 7.2 0 1 0 -14.4 0M807.4 1145.7a7.2 7.2 0 1 0 14.4 0a7.2 7.2 0 1 0 -14.4 0M833.3 1146.0a7.2 7.2 0 1 0 14.4 0a7.2 7.2 0 1 0 -14.4 0M838.9 1146.1a7.2 7.2 0 1 0 14.4 0a7.2 7.2 0 1 0 -14.4 0M582.9 1145.7a7.2 7.2 0 1 0 14.4 0a7.2 7.2 0 1 0 -14.4 0M607.1 1146.5a7.2 7.2 0 1 0 14.4 0a7.2 7.2 0 1 0 -14.4 0M619.3 1146.8a7.2 7.2 0 1 0 14.4 0a7.2 7.2 0 1 0 -14.4 0M678.5 1148.3a7.2 7.2 0 1 0 14.4 0a7.2 7.2 0 1 0 -14.4 0M686.9 1148.4a7.2 7.2 0 1 0 14.4 0a7.2 7.2 0 1 0 -14.4 0M777.3 1150.0a7.2 7.2 0 1 0 14.4 0a7.2 7.2 0 1 0 -14.4 0M796.9 1150.3a7.2 7.2 0 1 0 14.4 0a7.2 7.2 0 1 0 -14.4 0M855.7 1151.1a7.2 7.2 0 1 0 14.4 0a7.2 7.2 0 1 0 -14.4 0M864.8 1151.2a7.2 7.2 0 1 0 14.4 0a7.2 7.2 0 1 0 -14.4 0M679.9 1153.0a7.2 7.2 0 1 0 14.4 0a7.2 7.2 0 1 0 -14.4 0M690.4 1153.2a7.2 7.2 0 1 0 14.4 0a7.2 7.2 0 1 0 -14.4 0M703.1 1153.5a7.2 7.2 0 1 0 14.4 0a7.2 7.2 0 1 0 -14.4 0M801.8 1155.0a7.2 7.2 0 1 0 14.4 0a7.2 7.2 0 1 0 -14.4 0M831.9 1155.4a7.2 7.2 0 1 0 14.4 0a7.2 7.2 0 1 0 -14.4 0M574.2 1154.8a7.2 7.2 0 1 0 14.4 0a7.2 7.2 0 1 0 -14.4 0M622.1 1156.3a7.2 7.2 0 1 0 14.4 0a7.2 7.2 0 1 0 -14.4 0M651.2 1157.1a7.2 7.2 0 1 0 14.4 0a7.2 7.2 0 1 0 -14.4 0M698.2 1158.1a7.2 7.2 0 1 0 14.4 0a7.2 7.2 0 1 0 -14.4 0M763.3 1159.2a7.2 7.2 0 1 0 14.4 0a7.2 7.2 0 1 0 -14.4 0M857.1 1160.5a7.2 7.2 0 1 0 14.4 0a7.2 7.2 0 1 0 -14.4 0M596.3 1160.3a7.2 7.2 0 1 0 14.4 0a7.2 7.2 0 1 0 -14.4 0M638.4 1161.5a7.2 7.2 0 1 0 14.4 0a7.2 7.2 0 1 0 -14.4 0M752.1 1163.7a7.2 7.2 0 1 0 14.4 0a7.2 7.2 0 1 0 -14.4 0M800.4 1164.4a7.2 7.2 0 1 0 14.4 0a7.2 7.2 0 1 0 -14.4 0M809.5 1164.6a7.2 7.2 0 1 0 14.4 0a7.2 7.2 0 1 0 -14.4 0M838.2 1165.0a7.2 7.2 0 1 0 14.4 0a7.2 7.2 0 1 0 -14.4 0M783.2 1168.9a7.2 7.2 0 1 0 14.4 0a7.2 7.2 0 1 0 -14.4 0M824.9 1169.5a7.2 7.2 0 1 0 14.4 0a7.2 7.2 0 1 0 -14.4 0M643.1 1171.0a7.2 7.2 0 1 0 14.4 0a7.2 7.2 0 1 0 -14.4 0M654.3 1171.3a7.2 7.2 0 1 0 14.4 0a7.2 7.2 0 1 0 -14.4 0M781.2 1173.6a7.2 7.2 0 1 0 14.4 0a7.2 7.2 0 1 0 -14.4 0M848.0 1174.5a7.2 7.2 0 1 0 14.4 0a7.2 7.2 0 1 0 -14.4 0M862.0 1174.7a7.2 7.2 0 1 0 14.4 0a7.2 7.2 0 1 0 -14.4 0M609.2 1174.8a7.2 7.2 0 1 0 14.4 0a7.2 7.2 0 1 0 -14.4 0M758.4 1178.0a7.2 7.2 0 1 0 14.4 0a7.2 7.2 0 1 0 -14.4 0M830.2 1179.0a7.2 7.2 0 1 0 14.4 0a7.2 7.2 0 1 0 -14.4 0M633.3 1180.2a7.2 7.2 0 1 0 14.4 0a7.2 7.2 0 1 0 -14.4 0M753.2 1182.6a7.2 7.2 0 1 0 14.4 0a7.2 7.2 0 1 0 -14.4 0M812.3 1183.4a7.2 7.2 0 1 0 14.4 0a7.2 7.2 0 1 0 -14.4 0M636.1 1185.0a7.2 7.2 0 1 0 14.4 0a7.2 7.2 0 1 0 -14.4 0M800.0 1188.0a7.2 7.2 0 1 0 14.4 0a7.2 7.2 0 1 0 -14.4 0M695.4 1191.0a7.2 7.2 0 1 0 14.4 0a7.2 7.2 0 1 0 -14.4 0M784.3 1192.5a7.2 7.2 0 1 0 14.4 0a7.2 7.2 0 1 0 -14.4 0M900.1 1099.8a7.2 7.2 0 1 0 14.4 0a7.2 7.2 0 1 0 -14.4 0M956.1 1100.7a7.2 7.2 0 1 0 14.4 0a7.2 7.2 0 1 0 -14.4 0M981.4 1101.1a7.2 7.2 0 1 0 14.4 0a7.2 7.2 0 1 0 -14.4 0M1032.5 1102.3a7.2 7.2 0 1 0 14.4 0a7.2 7.2 0 1 0 -14.4 0M1037.4 1102.4a7.2 7.2 0 1 0 14.4 0a7.2 7.2 0 1 0 -14.4 0M1053.5 1102.8a7.2 7.2 0 1 0 14.4 0a7.2 7.2 0 1 0 -14.4 0M1061.9 1103.1a7.2 7.2 0 1 0 14.4 0a7.2 7.2 0 1 0 -14.4 0M1075.9 1103.6a7.2 7.2 0 1 0 14.4 0a7.2 7.2 0 1 0 -14.4 0M1091.3 1104.1a7.2 7.2 0 1 0 14.4 0a7.2 7.2 0 1 0 -14.4 0M1096.2 1104.3a7.2 7.2 0 1 0 14.4 0a7.2 7.2 0 1 0 -14.4 0M884.1 1104.3a7.2 7.2 0 1 0 14.4 0a7.2 7.2 0 1 0 -14.4 0M897.3 1104.5a7.2 7.2 0 1 0 14.4 0a7.2 7.2 0 1 0 -14.4 0M961.0 1105.5a7.2 7.2 0 1 0 14.4 0a7.2 7.2 0 1 0 -14.4 0M1010.1 1106.4a7.2 7.2 0 1 0 14.4 0a7.2 7.2 0 1 0 -14.4 0M1069.6 1108.1a7.2 7.2 0 1 0 14.4 0a7.2 7.2 0 1 0 -14.4 0M1137.5 1111.1a7.2 7.2 0 1 0 14.4 0a7.2 7.2 0 1 0 -14.4 0M1159.9 1112.5a7.2 7.2 0 1 0 14.4 0a7.2 7.2 0 1 0 -14.4 0M875.5 1108.9a7.2 7.2 0 1 0 14.4 0a7.2 7.2 0 1 0 -14.4 0M888.8 1109.1a7.2 7.2 0 1 0 14.4 0a7.2 7.2 0 1 0 -14.4 0M912.4 1109.4a7.2 7.2 0 1 0 14.4 0a7.2 7.2 0 1 0 -14.4 0M919.0 1109.5a7.2 7.2 0 1 0 14.4 0a7.2 7.2 0 1 0 -14.4 0M926.0 1109.6a7.2 7.2 0 1 0 14.4 0a7.2 7.2 0 1 0 -14.4 0M974.3 1110.4a7.2 7.2 0 1 0 14.4 0a7.2 7.2 0 1 0 -14.4 0M1008.7 1111.1a7.2 7.2 0 1 0 14.4 0a7.2 7.2 0 1 0 -14.4 0M1028.3 1111.6a7.2 7.2 0 1 0 14.4 0a7.2 7.2 0 1 0 -14.4 0M1046.5 1112.1a7.2 7.2 0 1 0 14.4 0a7.2 7.2 0 1 0 -14.4 0M1052.8 1112.2a7.2 7.2 0 1 0 14.4 0a7.2 7.2 0 1 0 -14.4 0M1068.2 1112.7a7.2 7.2 0 1 0 14.4 0a7.2 7.2 0 1 0 -14.4 0M1082.2 1113.2a7.2 7.2 0 1 0 14.4 0a7.2 7.2 0 1 0 -14.4 0M859.8 1113.4a7.2 7.2 0 1 0 14.4 0a7.2 7.2 0 1 0 -14.4 0M892.1 1113.9a7.2 7.2 0 1 0 14.4 0a7.2 7.2 0 1 0 -14.4 0M903.3 1114.0a7.2 7.2 0 1 0 14.4 0a7.2 7.2 0 1 0 -14.4 0M921.3 1114.3a7.2 7.2 0 1 0 14.4 0a7.2 7.2 0 1 0 -14.4 0M938.2 1114.5a7.2 7.2 0 1 0 14.4 0a7.2 7.2 0 1 0 -14.4 0M962.2 1114.9a7.2 7.2 0 1 0 14.4 0a7.2 7.2 0 1 0 -14.4 0M1000.2 1115.6a7.2 7.2 0 1 0 14.4 0a7.2 7.2 0 1 0 -14.4 0M1015.0 1116.0a7.2 7.2 0 1 0 14.4 0a7.2 7.2 0 1 0 -14.4 0M1102.5 1118.7a7.2 7.2 0 1 0 14.4 0a7.2 7.2 0 1 0 -14.4 0M1140.3 1120.6a7.2 7.2 0 1 0 14.4 0a7.2 7.2 0 1 0 -14.4 0M906.8 1118.8a7.2 7.2 0 1 0 14.4 0a7.2 7.2 0 1 0 -14.4 0M953.8 1119.5a7.2 7.2 0 1 0 14.4 0a7.2 7.2 0 1 0 -14.4 0M933.0 1123.9a7.2 7.2 0 1 0 14.4 0a7.2 7.2 0 1 0 -14.4 0M939.8 1124.0a7.2 7.2 0 1 0 14.4 0a7.2 7.2 0 1 0 -14.4 0M1073.1 1127.0a7.2 7.2 0 1 0 14.4 0a7.2 7.2 0 1 0 -14.4 0M1129.1 1129.4a7.2 7.2 0 1 0 14.4 0a7.2 7.2 0 1 0 -14.4 0M911.3 1128.3a7.2 7.2 0 1 0 14.4 0a7.2 7.2 0 1 0 -14.4 0M970.8 1129.2a7.2 7.2 0 1 0 14.4 0a7.2 7.2 0 1 0 -14.4 0M977.8 1129.3a7.2 7.2 0 1 0 14.4 0a7.2 7.2 0 1 0 -14.4 0M1041.6 1130.8a7.2 7.2 0 1 0 14.4 0a7.2 7.2 0 1 0 -14.4 0M1061.9 1131.4a7.2 7.2 0 1 0 14.4 0a7.2 7.2 0 1 0 -14.4 0M1139.6 1134.7a7.2 7.2 0 1 0 14.4 0a7.2 7.2 0 1 0 -14.4 0M1151.5 1135.5a7.2 7.2 0 1 0 14.4 0a7.2 7.2 0 1 0 -14.4 0M896.0 1132.8a7.2 7.2 0 1 0 14.4 0a7.2 7.2 0 1 0 -14.4 0M939.3 1133.4a7.2 7.2 0 1 0 14.4 0a7.2 7.2 0 1 0 -14.4 0M948.2 1133.5a7.2 7.2 0 1 0 14.4 0a7.2 7.2 0 1 0 -14.4 0M987.7 1134.2a7.2 7.2 0 1 0 14.4 0a7.2 7.2 0 1 0 -14.4 0M1003.8 1134.6a7.2 7.2 0 1 0 14.4 0a7.2 7.2 0 1 0 -14.4 0M1121.4 1138.5a7.2 7.2 0 1 0 14.4 0a7.2 7.2 0 1 0 -14.4 0M1148.7 1140.0a7.2 7.2 0 1 0 14.4 0a7.2 7.2 0 1 0 -14.4 0M918.3 1137.8a7.2 7.2 0 1 0 14.4 0a7.2 7.2 0 1 0 -14.4 0M933.0 1138.0a7.2 7.2 0 1 0 14.4 0a7.2 7.2 0 1 0 -14.4 0M961.0 1138.5a7.2 7.2 0 1 0 14.4 0a7.2 7.2 0 1 0 -14.4 0M984.9 1138.9a7.2 7.2 0 1 0 14.4 0a7.2 7.2 0 1 0 -14.4 0M1002.4 1139.2a7.2 7.2 0 1 0 14.4 0a7.2 7.2 0 1 0 -14.4 0M1088.2 1141.7a7.2 7.2 0 1 0 14.4 0a7.2 7.2 0 1 0 -14.4 0M876.3 1141.9a7.2 7.2 0 1 0 14.4 0a7.2 7.2 0 1 0 -14.4 0M890.3 1142.1a7.2 7.2 0 1 0 14.4 0a7.2 7.2 0 1 0 -14.4 0M922.1 1142.6a7.2 7.2 0 1 0 14.4 0a7.2 7.2 0 1 0 -14.4 0M937.9 1142.8a7.2 7.2 0 1 0 14.4 0a7.2 7.2 0 1 0 -14.4 0M951.2 1143.0a7.2 7.2 0 1 0 14.4 0a7.2 7.2 0 1 0 -14.4 0M1025.5 1144.5a7.2 7.2 0 1 0 14.4 0a7.2 7.2 0 1 0 -14.4 0M886.1 1146.8a7.2 7.2 0 1 0 14.4 0a7.2 7.2 0 1 0 -14.4 0M976.4 1148.2a7.2 7.2 0 1 0 14.4 0a7.2 7.2 0 1 0 -14.4 0M982.1 1148.3a7.2 7.2 0 1 0 14.4 0a7.2 7.2 0 1 0 -14.4 0M1017.8 1149.0a7.2 7.2 0 1 0 14.4 0a7.2 7.2 0 1 0 -14.4 0M1025.5 1149.2a7.2 7.2 0 1 0 14.4 0a7.2 7.2 0 1 0 -14.4 0M1107.4 1151.9a7.2 7.2 0 1 0 14.4 0a7.2 7.2 0 1 0 -14.4 0M1135.4 1153.3a7.2 7.2 0 1 0 14.4 0a7.2 7.2 0 1 0 -14.4 0M921.1 1152.0a7.2 7.2 0 1 0 14.4 0a7.2 7.2 0 1 0 -14.4 0M948.4 1152.4a7.2 7.2 0 1 0 14.4 0a7.2 7.2 0 1 0 -14.4 0M955.4 1152.5a7.2 7.2 0 1 0 14.4 0a7.2 7.2 0 1 0 -14.4 0M1005.2 1153.4a7.2 7.2 0 1 0 14.4 0a7.2 7.2 0 1 0 -14.4 0M1033.9 1154.1a7.2 7.2 0 1 0 14.4 0a7.2 7.2 0 1 0 -14.4 0M1094.1 1156.1a7.2 7.2 0 1 0 14.4 0a7.2 7.2 0 1 0 -14.4 0M1113.7 1156.9a7.2 7.2 0 1 0 14.4 0a7.2 7.2 0 1 0 -14.4 0M977.1 1157.6a7.2 7.2 0 1 0 14.4 0a7.2 7.2 0 1 0 -14.4 0M1124.9 1162.2a7.2 7.2 0 1 0 14.4 0a7.2 7.2 0 1 0 -14.4 0M1152.2 1163.8a7.2 7.2 0 1 0 14.4 0a7.2 7.2 0 1 0 -14.4 0M880.5 1165.5a7.2 7.2 0 1 0 14.4 0a7.2 7.2 0 1 0 -14.4 0M993.2 1167.3a7.2 7.2 0 1 0 14.4 0a7.2 7.2 0 1 0 -14.4 0M1035.3 1168.3a7.2 7.2 0 1 0 14.4 0a7.2 7.2 0 1 0 -14.4 0M904.3 1170.6a7.2 7.2 0 1 0 14.4 0a7.2 7.2 0 1 0 -14.4 0M910.6 1170.7a7.2 7.2 0 1 0 14.4 0a7.2 7.2 0 1 0 -14.4 0M934.1 1171.0a7.2 7.2 0 1 0 14.4 0a7.2 7.2 0 1 0 -14.4 0M951.2 1171.3a7.2 7.2 0 1 0 14.4 0a7.2 7.2 0 1 0 -14.4 0M969.4 1171.6a7.2 7.2 0 1 0 14.4 0a7.2 7.2 0 1 0 -14.4 0M1122.1 1176.2a7.2 7.2 0 1 0 14.4 0a7.2 7.2 0 1 0 -14.4 0M885.4 1175.0a7.2 7.2 0 1 0 14.4 0a7.2 7.2 0 1 0 -14.4 0M891.0 1175.1a7.2 7.2 0 1 0 14.4 0a7.2 7.2 0 1 0 -14.4 0M976.4 1176.4a7.2 7.2 0 1 0 14.4 0a7.2 7.2 0 1 0 -14.4 0M879.8 1179.6a7.2 7.2 0 1 0 14.4 0a7.2 7.2 0 1 0 -14.4 0M907.8 1180.0a7.2 7.2 0 1 0 14.4 0a7.2 7.2 0 1 0 -14.4 0M984.2 1181.3a7.2 7.2 0 1 0 14.4 0a7.2 7.2 0 1 0 -14.4 0M869.3 1188.9a7.2 7.2 0 1 0 14.4 0a7.2 7.2 0 1 0 -14.4 0M917.3 1189.6a7.2 7.2 0 1 0 14.4 0a7.2 7.2 0 1 0 -14.4 0M1081.5 1198.0a7.2 7.2 0 1 0 14.4 0a7.2 7.2 0 1 0 -14.4 0M1207.1 1111.2a7.2 7.2 0 1 0 14.4 0a7.2 7.2 0 1 0 -14.4 0M1224.3 1112.2a7.2 7.2 0 1 0 14.4 0a7.2 7.2 0 1 0 -14.4 0M1266.4 1109.1a7.2 7.2 0 1 0 14.4 0a7.2 7.2 0 1 0 -14.4 0M1183.7 1114.2a7.2 7.2 0 1 0 14.4 0a7.2 7.2 0 1 0 -14.4 0M1270.1 1112.6a7.2 7.2 0 1 0 14.4 0a7.2 7.2 0 1 0 -14.4 0M1235.8 1121.9a7.2 7.2 0 1 0 14.4 0a7.2 7.2 0 1 0 -14.4 0M1243.5 1121.8a7.2 7.2 0 1 0 14.4 0a7.2 7.2 0 1 0 -14.4 0M1281.3 1111.7a7.2 7.2 0 1 0 14.4 0a7.2 7.2 0 1 0 -14.4 0M1188.2 1123.9a7.2 7.2 0 1 0 14.4 0a7.2 7.2 0 1 0 -14.4 0M1268.0 1122.7a7.2 7.2 0 1 0 14.4 0a7.2 7.2 0 1 0 -14.4 0M1212.0 1130.4a7.2 7.2 0 1 0 14.4 0a7.2 7.2 0 1 0 -14.4 0M1188.9 1133.4a7.2 7.2 0 1 0 14.4 0a7.2 7.2 0 1 0 -14.4 0M1170.7 1136.8a7.2 7.2 0 1 0 14.4 0a7.2 7.2 0 1 0 -14.4 0M1193.1 1138.4a7.2 7.2 0 1 0 14.4 0a7.2 7.2 0 1 0 -14.4 0M1201.5 1139.0a7.2 7.2 0 1 0 14.4 0a7.2 7.2 0 1 0 -14.4 0M1246.3 1140.5a7.2 7.2 0 1 0 14.4 0a7.2 7.2 0 1 0 -14.4 0M1251.2 1140.2a7.2 7.2 0 1 0 14.4 0a7.2 7.2 0 1 0 -14.4 0M1272.2 1135.3a7.2 7.2 0 1 0 14.4 0a7.2 7.2 0 1 0 -14.4 0M1182.6 1142.3a7.2 7.2 0 1 0 14.4 0a7.2 7.2 0 1 0 -14.4 0M1195.2 1143.3a7.2 7.2 0 1 0 14.4 0a7.2 7.2 0 1 0 -14.4 0M1209.2 1144.3a7.2 7.2 0 1 0 14.4 0a7.2 7.2 0 1 0 -14.4 0M1252.6 1144.7a7.2 7.2 0 1 0 14.4 0a7.2 7.2 0 1 0 -14.4 0M1232.7 1150.2a7.2 7.2 0 1 0 14.4 0a7.2 7.2 0 1 0 -14.4 0M1274.3 1143.8a7.2 7.2 0 1 0 14.4 0a7.2 7.2 0 1 0 -14.4 0M1205.0 1153.4a7.2 7.2 0 1 0 14.4 0a7.2 7.2 0 1 0 -14.4 0M1224.6 1154.6a7.2 7.2 0 1 0 14.4 0a7.2 7.2 0 1 0 -14.4 0M1239.7 1154.9a7.2 7.2 0 1 0 14.4 0a7.2 7.2 0 1 0 -14.4 0M1251.9 1154.2a7.2 7.2 0 1 0 14.4 0a7.2 7.2 0 1 0 -14.4 0M1254.0 1158.7a7.2 7.2 0 1 0 14.4 0a7.2 7.2 0 1 0 -14.4 0M1261.0 1157.6a7.2 7.2 0 1 0 14.4 0a7.2 7.2 0 1 0 -14.4 0M1202.2 1162.6a7.2 7.2 0 1 0 14.4 0a7.2 7.2 0 1 0 -14.4 0M1223.2 1164.0a7.2 7.2 0 1 0 14.4 0a7.2 7.2 0 1 0 -14.4 0M1261.0 1167.0a7.2 7.2 0 1 0 14.4 0a7.2 7.2 0 1 0 -14.4 0M1168.6 1174.3a7.2 7.2 0 1 0 14.4 0a7.2 7.2 0 1 0 -14.4 0M1268.0 1188.7a7.2 7.2 0 1 0 14.4 0a7.2 7.2 0 1 0 -14.4 0M1244.9 1197.1a7.2 7.2 0 1 0 14.4 0a7.2 7.2 0 1 0 -14.4 0M1231.3 1202.0a7.2 7.2 0 1 0 14.4 0a7.2 7.2 0 1 0 -14.4 0M1257.1 1200.7a7.2 7.2 0 1 0 14.4 0a7.2 7.2 0 1 0 -14.4 0M544.5 1196.1a7.2 7.2 0 1 0 14.4 0a7.2 7.2 0 1 0 -14.4 0M679.2 1195.4a7.2 7.2 0 1 0 14.4 0a7.2 7.2 0 1 0 -14.4 0M613.4 1198.5a7.2 7.2 0 1 0 14.4 0a7.2 7.2 0 1 0 -14.4 0M859.9 1202.9a7.2 7.2 0 1 0 14.4 0a7.2 7.2 0 1 0 -14.4 0M849.4 1212.2a7.2 7.2 0 1 0 14.4 0a7.2 7.2 0 1 0 -14.4 0M870.7 1198.4a7.2 7.2 0 1 0 14.4 0a7.2 7.2 0 1 0 -14.4 0M907.8 1198.9a7.2 7.2 0 1 0 14.4 0a7.2 7.2 0 1 0 -14.4 0M1440.2 1045.2a7.2 7.2 0 1 0 14.4 0a7.2 7.2 0 1 0 -14.4 0M1430.3 1094.0a7.2 7.2 0 1 0 14.4 0a7.2 7.2 0 1 0 -14.4 0M1427.2 1101.4a7.2 7.2 0 1 0 14.4 0a7.2 7.2 0 1 0 -14.4 0M1441.2 1091.1a7.2 7.2 0 1 0 14.4 0a7.2 7.2 0 1 0 -14.4 0M1472.3 1063.9a7.2 7.2 0 1 0 14.4 0a7.2 7.2 0 1 0 -14.4 0M1600.2 1057.0a7.2 7.2 0 1 0 14.4 0a7.2 7.2 0 1 0 -14.4 0M1449.6 1104.5a7.2 7.2 0 1 0 14.4 0a7.2 7.2 0 1 0 -14.4 0M1483.2 1076.1a7.2 7.2 0 1 0 14.4 0a7.2 7.2 0 1 0 -14.4 0M1451.3 1107.3a7.2 7.2 0 1 0 14.4 0a7.2 7.2 0 1 0 -14.4 0M1532.3 1069.9a7.2 7.2 0 1 0 14.4 0a7.2 7.2 0 1 0 -14.4 0M1478.3 1088.2a7.2 7.2 0 1 0 14.4 0a7.2 7.2 0 1 0 -14.4 0M1492.3 1081.6a7.2 7.2 0 1 0 14.4 0a7.2 7.2 0 1 0 -14.4 0M1575.0 1074.8a7.2 7.2 0 1 0 14.4 0a7.2 7.2 0 1 0 -14.4 0M1429.3 1142.0a7.2 7.2 0 1 0 14.4 0a7.2 7.2 0 1 0 -14.4 0M1452.4 1115.4a7.2 7.2 0 1 0 14.4 0a7.2 7.2 0 1 0 -14.4 0M1522.2 1080.0a7.2 7.2 0 1 0 14.4 0a7.2 7.2 0 1 0 -14.4 0M1495.1 1090.0a7.2 7.2 0 1 0 14.4 0a7.2 7.2 0 1 0 -14.4 0M1681.7 1074.6a7.2 7.2 0 1 0 14.4 0a7.2 7.2 0 1 0 -14.4 0M1723.3 1071.3a7.2 7.2 0 1 0 14.4 0a7.2 7.2 0 1 0 -14.4 0M1926.1 1037.4a7.2 7.2 0 1 0 14.4 0a7.2 7.2 0 1 0 -14.4 0M1873.3 1046.1a7.2 7.2 0 1 0 14.4 0a7.2 7.2 0 1 0 -14.4 0M1941.5 1051.8a7.2 7.2 0 1 0 14.4 0a7.2 7.2 0 1 0 -14.4 0M1959.0 1056.7a7.2 7.2 0 1 0 14.4 0a7.2 7.2 0 1 0 -14.4 0M1966.0 1061.5a7.2 7.2 0 1 0 14.4 0a7.2 7.2 0 1 0 -14.4 0M1877.1 1065.0a7.2 7.2 0 1 0 14.4 0a7.2 7.2 0 1 0 -14.4 0M1928.9 1065.7a7.2 7.2 0 1 0 14.4 0a7.2 7.2 0 1 0 -14.4 0M1922.9 1070.4a7.2 7.2 0 1 0 14.4 0a7.2 7.2 0 1 0 -14.4 0M1949.9 1070.7a7.2 7.2 0 1 0 14.4 0a7.2 7.2 0 1 0 -14.4 0M1940.1 1075.3a7.2 7.2 0 1 0 14.4 0a7.2 7.2 0 1 0 -14.4 0M1956.9 1075.5a7.2 7.2 0 1 0 14.4 0a7.2 7.2 0 1 0 -14.4 0M1827.1 1078.3a7.2 7.2 0 1 0 14.4 0a7.2 7.2 0 1 0 -14.4 0M1886.9 1079.3a7.2 7.2 0 1 0 14.4 0a7.2 7.2 0 1 0 -14.4 0M1931.0 1079.9a7.2 7.2 0 1 0 14.4 0a7.2 7.2 0 1 0 -14.4 0M1954.1 1080.2a7.2 7.2 0 1 0 14.4 0a7.2 7.2 0 1 0 -14.4 0M1819.0 1082.9a7.2 7.2 0 1 0 14.4 0a7.2 7.2 0 1 0 -14.4 0M1856.1 1083.5a7.2 7.2 0 1 0 14.4 0a7.2 7.2 0 1 0 -14.4 0M1890.0 1084.0a7.2 7.2 0 1 0 14.4 0a7.2 7.2 0 1 0 -14.4 0M1952.7 1084.9a7.2 7.2 0 1 0 14.4 0a7.2 7.2 0 1 0 -14.4 0M1822.2 1087.7a7.2 7.2 0 1 0 14.4 0a7.2 7.2 0 1 0 -14.4 0M1854.0 1088.2a7.2 7.2 0 1 0 14.4 0a7.2 7.2 0 1 0 -14.4 0M1837.9 1092.6a7.2 7.2 0 1 0 14.4 0a7.2 7.2 0 1 0 -14.4 0M1933.1 1094.1a7.2 7.2 0 1 0 14.4 0a7.2 7.2 0 1 0 -14.4 0M1958.3 1094.4a7.2 7.2 0 1 0 14.4 0a7.2 7.2 0 1 0 -14.4 0M1980.3 1019.3a7.2 7.2 0 1 0 14.4 0a7.2 7.2 0 1 0 -14.4 0M1979.3 1057.0a7.2 7.2 0 1 0 14.4 0a7.2 7.2 0 1 0 -14.4 0M1975.4 1071.1a7.2 7.2 0 1 0 14.4 0a7.2 7.2 0 1 0 -14.4 0M1989.4 1071.3a7.2 7.2 0 1 0 14.4 0a7.2 7.2 0 1 0 -14.4 0M2045.1 1043.8a7.2 7.2 0 1 0 14.4 0a7.2 7.2 0 1 0 -14.4 0M2038.1 1053.1a7.2 7.2 0 1 0 14.4 0a7.2 7.2 0 1 0 -14.4 0M2076.2 1063.2a7.2 7.2 0 1 0 14.4 0a7.2 7.2 0 1 0 -14.4 0M2142.1 1069.2a7.2 7.2 0 1 0 14.4 0a7.2 7.2 0 1 0 -14.4 0M2087.2 1072.8a7.2 7.2 0 1 0 14.4 0a7.2 7.2 0 1 0 -14.4 0M2215.3 1034.0a7.2 7.2 0 1 0 14.4 0a7.2 7.2 0 1 0 -14.4 0M2261.1 1031.7a7.2 7.2 0 1 0 14.4 0a7.2 7.2 0 1 0 -14.4 0M2028.9 1076.5a7.2 7.2 0 1 0 14.4 0a7.2 7.2 0 1 0 -14.4 0M2042.3 1076.7a7.2 7.2 0 1 0 14.4 0a7.2 7.2 0 1 0 -14.4 0M2045.4 1081.5a7.2 7.2 0 1 0 14.4 0a7.2 7.2 0 1 0 -14.4 0M2192.2 1084.9a7.2 7.2 0 1 0 14.4 0a7.2 7.2 0 1 0 -14.4 0M2259.0 1088.1a7.2 7.2 0 1 0 14.4 0a7.2 7.2 0 1 0 -14.4 0M2266.7 1079.2a7.2 7.2 0 1 0 14.4 0a7.2 7.2 0 1 0 -14.4 0M2024.4 1085.9a7.2 7.2 0 1 0 14.4 0a7.2 7.2 0 1 0 -14.4 0M2049.2 1086.3a7.2 7.2 0 1 0 14.4 0a7.2 7.2 0 1 0 -14.4 0M2075.3 1086.7a7.2 7.2 0 1 0 14.4 0a7.2 7.2 0 1 0 -14.4 0M2097.3 1087.1a7.2 7.2 0 1 0 14.4 0a7.2 7.2 0 1 0 -14.4 0M1991.2 1090.1a7.2 7.2 0 1 0 14.4 0a7.2 7.2 0 1 0 -14.4 0M2217.0 1095.3a7.2 7.2 0 1 0 14.4 0a7.2 7.2 0 1 0 -14.4 0M2256.2 1097.4a7.2 7.2 0 1 0 14.4 0a7.2 7.2 0 1 0 -14.4 0M1983.1 1094.7a7.2 7.2 0 1 0 14.4 0a7.2 7.2 0 1 0 -14.4 0M2009.3 1095.1a7.2 7.2 0 1 0 14.4 0a7.2 7.2 0 1 0 -14.4 0M2051.3 1095.7a7.2 7.2 0 1 0 14.4 0a7.2 7.2 0 1 0 -14.4 0M2070.9 1096.0a7.2 7.2 0 1 0 14.4 0a7.2 7.2 0 1 0 -14.4 0M2078.6 1096.2a7.2 7.2 0 1 0 14.4 0a7.2 7.2 0 1 0 -14.4 0M2098.4 1096.5a7.2 7.2 0 1 0 14.4 0a7.2 7.2 0 1 0 -14.4 0M2164.5 1098.1a7.2 7.2 0 1 0 14.4 0a7.2 7.2 0 1 0 -14.4 0M2203.3 1099.5a7.2 7.2 0 1 0 14.4 0a7.2 7.2 0 1 0 -14.4 0M2279.6 1033.0a7.2 7.2 0 1 0 14.4 0a7.2 7.2 0 1 0 -14.4 0M2376.0 1034.1a7.2 7.2 0 1 0 14.4 0a7.2 7.2 0 1 0 -14.4 0M2288.3 1066.6a7.2 7.2 0 1 0 14.4 0a7.2 7.2 0 1 0 -14.4 0M2310.1 1063.5a7.2 7.2 0 1 0 14.4 0a7.2 7.2 0 1 0 -14.4 0M2329.7 1064.8a7.2 7.2 0 1 0 14.4 0a7.2 7.2 0 1 0 -14.4 0M2336.3 1065.1a7.2 7.2 0 1 0 14.4 0a7.2 7.2 0 1 0 -14.4 0M2375.3 1072.0a7.2 7.2 0 1 0 14.4 0a7.2 7.2 0 1 0 -14.4 0M2278.9 1080.0a7.2 7.2 0 1 0 14.4 0a7.2 7.2 0 1 0 -14.4 0M2324.1 1083.3a7.2 7.2 0 1 0 14.4 0a7.2 7.2 0 1 0 -14.4 0M2318.8 1087.7a7.2 7.2 0 1 0 14.4 0a7.2 7.2 0 1 0 -14.4 0M2284.5 1089.9a7.2 7.2 0 1 0 14.4 0a7.2 7.2 0 1 0 -14.4 0M2307.9 1091.6a7.2 7.2 0 1 0 14.4 0a7.2 7.2 0 1 0 -14.4 0M2326.1 1092.9a7.2 7.2 0 1 0 14.4 0a7.2 7.2 0 1 0 -14.4 0M2343.3 1098.3a7.2 7.2 0 1 0 14.4 0a7.2 7.2 0 1 0 -14.4 0M2282.4 1099.1a7.2 7.2 0 1 0 14.4 0a7.2 7.2 0 1 0 -14.4 0M2292.2 1099.8a7.2 7.2 0 1 0 14.4 0a7.2 7.2 0 1 0 -14.4 0M2306.2 1100.9a7.2 7.2 0 1 0 14.4 0a7.2 7.2 0 1 0 -14.4 0M2311.8 1101.3a7.2 7.2 0 1 0 14.4 0a7.2 7.2 0 1 0 -14.4 0M2327.2 1102.3a7.2 7.2 0 1 0 14.4 0a7.2 7.2 0 1 0 -14.4 0M2349.9 1103.1a7.2 7.2 0 1 0 14.4 0a7.2 7.2 0 1 0 -14.4 0M2359.4 1107.4a7.2 7.2 0 1 0 14.4 0a7.2 7.2 0 1 0 -14.4 0M1425.8 1154.2a7.2 7.2 0 1 0 14.4 0a7.2 7.2 0 1 0 -14.4 0M1486.0 1098.3a7.2 7.2 0 1 0 14.4 0a7.2 7.2 0 1 0 -14.4 0M1517.3 1090.0a7.2 7.2 0 1 0 14.4 0a7.2 7.2 0 1 0 -14.4 0M1521.1 1089.5a7.2 7.2 0 1 0 14.4 0a7.2 7.2 0 1 0 -14.4 0M1542.2 1088.4a7.2 7.2 0 1 0 14.4 0a7.2 7.2 0 1 0 -14.4 0M1569.9 1088.8a7.2 7.2 0 1 0 14.4 0a7.2 7.2 0 1 0 -14.4 0M1585.2 1089.4a7.2 7.2 0 1 0 14.4 0a7.2 7.2 0 1 0 -14.4 0M1604.0 1090.2a7.2 7.2 0 1 0 14.4 0a7.2 7.2 0 1 0 -14.4 0M1631.0 1091.4a7.2 7.2 0 1 0 14.4 0a7.2 7.2 0 1 0 -14.4 0M1438.4 1146.3a7.2 7.2 0 1 0 14.4 0a7.2 7.2 0 1 0 -14.4 0M1468.5 1113.9a7.2 7.2 0 1 0 14.4 0a7.2 7.2 0 1 0 -14.4 0M1485.3 1103.3a7.2 7.2 0 1 0 14.4 0a7.2 7.2 0 1 0 -14.4 0M1542.8 1093.1a7.2 7.2 0 1 0 14.4 0a7.2 7.2 0 1 0 -14.4 0M1553.0 1093.1a7.2 7.2 0 1 0 14.4 0a7.2 7.2 0 1 0 -14.4 0M1571.9 1093.6a7.2 7.2 0 1 0 14.4 0a7.2 7.2 0 1 0 -14.4 0M1584.1 1094.0a7.2 7.2 0 1 0 14.4 0a7.2 7.2 0 1 0 -14.4 0M1439.1 1150.2a7.2 7.2 0 1 0 14.4 0a7.2 7.2 0 1 0 -14.4 0M1455.2 1131.1a7.2 7.2 0 1 0 14.4 0a7.2 7.2 0 1 0 -14.4 0M1481.1 1110.2a7.2 7.2 0 1 0 14.4 0a7.2 7.2 0 1 0 -14.4 0M1496.5 1103.7a7.2 7.2 0 1 0 14.4 0a7.2 7.2 0 1 0 -14.4 0M1538.8 1097.9a7.2 7.2 0 1 0 14.4 0a7.2 7.2 0 1 0 -14.4 0M1554.9 1097.9a7.2 7.2 0 1 0 14.4 0a7.2 7.2 0 1 0 -14.4 0M1568.0 1098.2a7.2 7.2 0 1 0 14.4 0a7.2 7.2 0 1 0 -14.4 0M1604.0 1099.6a7.2 7.2 0 1 0 14.4 0a7.2 7.2 0 1 0 -14.4 0M1668.1 1102.4a7.2 7.2 0 1 0 14.4 0a7.2 7.2 0 1 0 -14.4 0M1473.4 1119.7a7.2 7.2 0 1 0 14.4 0a7.2 7.2 0 1 0 -14.4 0M1510.6 1105.1a7.2 7.2 0 1 0 14.4 0a7.2 7.2 0 1 0 -14.4 0M1546.3 1102.5a7.2 7.2 0 1 0 14.4 0a7.2 7.2 0 1 0 -14.4 0M1563.4 1102.7a7.2 7.2 0 1 0 14.4 0a7.2 7.2 0 1 0 -14.4 0M1628.9 1105.4a7.2 7.2 0 1 0 14.4 0a7.2 7.2 0 1 0 -14.4 0M1654.8 1106.6a7.2 7.2 0 1 0 14.4 0a7.2 7.2 0 1 0 -14.4 0M1490.9 1115.1a7.2 7.2 0 1 0 14.4 0a7.2 7.2 0 1 0 -14.4 0M1530.9 1107.7a7.2 7.2 0 1 0 14.4 0a7.2 7.2 0 1 0 -14.4 0M1555.2 1107.3a7.2 7.2 0 1 0 14.4 0a7.2 7.2 0 1 0 -14.4 0M1624.0 1109.9a7.2 7.2 0 1 0 14.4 0a7.2 7.2 0 1 0 -14.4 0M1669.5 1111.9a7.2 7.2 0 1 0 14.4 0a7.2 7.2 0 1 0 -14.4 0M1436.3 1167.7a7.2 7.2 0 1 0 14.4 0a7.2 7.2 0 1 0 -14.4 0M1502.2 1116.3a7.2 7.2 0 1 0 14.4 0a7.2 7.2 0 1 0 -14.4 0M1535.1 1112.2a7.2 7.2 0 1 0 14.4 0a7.2 7.2 0 1 0 -14.4 0M1620.5 1114.5a7.2 7.2 0 1 0 14.4 0a7.2 7.2 0 1 0 -14.4 0M1659.7 1116.2a7.2 7.2 0 1 0 14.4 0a7.2 7.2 0 1 0 -14.4 0M1672.3 1116.7a7.2 7.2 0 1 0 14.4 0a7.2 7.2 0 1 0 -14.4 0M1476.9 1131.5a7.2 7.2 0 1 0 14.4 0a7.2 7.2 0 1 0 -14.4 0M1564.2 1116.9a7.2 7.2 0 1 0 14.4 0a7.2 7.2 0 1 0 -14.4 0M1439.1 1173.8a7.2 7.2 0 1 0 14.4 0a7.2 7.2 0 1 0 -14.4 0M1462.2 1147.6a7.2 7.2 0 1 0 14.4 0a7.2 7.2 0 1 0 -14.4 0M1467.8 1142.7a7.2 7.2 0 1 0 14.4 0a7.2 7.2 0 1 0 -14.4 0M1584.1 1122.3a7.2 7.2 0 1 0 14.4 0a7.2 7.2 0 1 0 -14.4 0M1460.1 1154.3a7.2 7.2 0 1 0 14.4 0a7.2 7.2 0 1 0 -14.4 0M1467.1 1148.0a7.2 7.2 0 1 0 14.4 0a7.2 7.2 0 1 0 -14.4 0M1640.8 1129.5a7.2 7.2 0 1 0 14.4 0a7.2 7.2 0 1 0 -14.4 0M1480.4 1143.5a7.2 7.2 0 1 0 14.4 0a7.2 7.2 0 1 0 -14.4 0M1504.3 1134.6a7.2 7.2 0 1 0 14.4 0a7.2 7.2 0 1 0 -14.4 0M1533.0 1131.1a7.2 7.2 0 1 0 14.4 0a7.2 7.2 0 1 0 -14.4 0M1617.7 1133.2a7.2 7.2 0 1 0 14.4 0a7.2 7.2 0 1 0 -14.4 0M1637.3 1134.1a7.2 7.2 0 1 0 14.4 0a7.2 7.2 0 1 0 -14.4 0M1661.1 1135.1a7.2 7.2 0 1 0 14.4 0a7.2 7.2 0 1 0 -14.4 0M1467.1 1157.4a7.2 7.2 0 1 0 14.4 0a7.2 7.2 0 1 0 -14.4 0M1488.1 1144.5a7.2 7.2 0 1 0 14.4 0a7.2 7.2 0 1 0 -14.4 0M1497.2 1141.2a7.2 7.2 0 1 0 14.4 0a7.2 7.2 0 1 0 -14.4 0M1504.3 1139.3a7.2 7.2 0 1 0 14.4 0a7.2 7.2 0 1 0 -14.4 0M1542.1 1135.6a7.2 7.2 0 1 0 14.4 0a7.2 7.2 0 1 0 -14.4 0M1579.2 1136.2a7.2 7.2 0 1 0 14.4 0a7.2 7.2 0 1 0 -14.4 0M1591.1 1136.7a7.2 7.2 0 1 0 14.4 0a7.2 7.2 0 1 0 -14.4 0M1598.1 1137.0a7.2 7.2 0 1 0 14.4 0a7.2 7.2 0 1 0 -14.4 0M1630.3 1138.5a7.2 7.2 0 1 0 14.4 0a7.2 7.2 0 1 0 -14.4 0M1666.7 1140.0a7.2 7.2 0 1 0 14.4 0a7.2 7.2 0 1 0 -14.4 0M1446.1 1184.1a7.2 7.2 0 1 0 14.4 0a7.2 7.2 0 1 0 -14.4 0M1473.4 1157.3a7.2 7.2 0 1 0 14.4 0a7.2 7.2 0 1 0 -14.4 0M1533.0 1140.5a7.2 7.2 0 1 0 14.4 0a7.2 7.2 0 1 0 -14.4 0M1598.1 1141.7a7.2 7.2 0 1 0 14.4 0a7.2 7.2 0 1 0 -14.4 0M1462.9 1170.5a7.2 7.2 0 1 0 14.4 0a7.2 7.2 0 1 0 -14.4 0M1507.8 1148.0a7.2 7.2 0 1 0 14.4 0a7.2 7.2 0 1 0 -14.4 0M1558.9 1145.0a7.2 7.2 0 1 0 14.4 0a7.2 7.2 0 1 0 -14.4 0M1575.0 1145.5a7.2 7.2 0 1 0 14.4 0a7.2 7.2 0 1 0 -14.4 0M1607.2 1146.9a7.2 7.2 0 1 0 14.4 0a7.2 7.2 0 1 0 -14.4 0M1459.4 1178.6a7.2 7.2 0 1 0 14.4 0a7.2 7.2 0 1 0 -14.4 0M1523.2 1150.6a7.2 7.2 0 1 0 14.4 0a7.2 7.2 0 1 0 -14.4 0M1561.7 1149.8a7.2 7.2 0 1 0 14.4 0a7.2 7.2 0 1 0 -14.4 0M1649.2 1153.4a7.2 7.2 0 1 0 14.4 0a7.2 7.2 0 1 0 -14.4 0M1592.5 1155.6a7.2 7.2 0 1 0 14.4 0a7.2 7.2 0 1 0 -14.4 0M1612.1 1156.5a7.2 7.2 0 1 0 14.4 0a7.2 7.2 0 1 0 -14.4 0M1617.0 1156.7a7.2 7.2 0 1 0 14.4 0a7.2 7.2 0 1 0 -14.4 0M1475.3 1175.0a7.2 7.2 0 1 0 14.4 0a7.2 7.2 0 1 0 -14.4 0M1500.1 1163.9a7.2 7.2 0 1 0 14.4 0a7.2 7.2 0 1 0 -14.4 0M1531.6 1159.4a7.2 7.2 0 1 0 14.4 0a7.2 7.2 0 1 0 -14.4 0M1571.2 1159.5a7.2 7.2 0 1 0 14.4 0a7.2 7.2 0 1 0 -14.4 0M1441.2 1213.6a7.2 7.2 0 1 0 14.4 0a7.2 7.2 0 1 0 -14.4 0M1521.1 1164.9a7.2 7.2 0 1 0 14.4 0a7.2 7.2 0 1 0 -14.4 0M1569.4 1168.9a7.2 7.2 0 1 0 14.4 0a7.2 7.2 0 1 0 -14.4 0M1516.2 1174.9a7.2 7.2 0 1 0 14.4 0a7.2 7.2 0 1 0 -14.4 0M1512.0 1180.2a7.2 7.2 0 1 0 14.4 0a7.2 7.2 0 1 0 -14.4 0M1652.0 1181.8a7.2 7.2 0 1 0 14.4 0a7.2 7.2 0 1 0 -14.4 0M1672.3 1182.6a7.2 7.2 0 1 0 14.4 0a7.2 7.2 0 1 0 -14.4 0M1482.5 1194.2a7.2 7.2 0 1 0 14.4 0a7.2 7.2 0 1 0 -14.4 0M1623.3 1185.3a7.2 7.2 0 1 0 14.4 0a7.2 7.2 0 1 0 -14.4 0M1715.3 1094.6a7.2 7.2 0 1 0 14.4 0a7.2 7.2 0 1 0 -14.4 0M1755.2 1095.7a7.2 7.2 0 1 0 14.4 0a7.2 7.2 0 1 0 -14.4 0M1892.2 1098.2a7.2 7.2 0 1 0 14.4 0a7.2 7.2 0 1 0 -14.4 0M1921.2 1098.6a7.2 7.2 0 1 0 14.4 0a7.2 7.2 0 1 0 -14.4 0M1947.1 1099.0a7.2 7.2 0 1 0 14.4 0a7.2 7.2 0 1 0 -14.4 0M1729.3 1099.7a7.2 7.2 0 1 0 14.4 0a7.2 7.2 0 1 0 -14.4 0M1744.0 1100.1a7.2 7.2 0 1 0 14.4 0a7.2 7.2 0 1 0 -14.4 0M1775.3 1100.9a7.2 7.2 0 1 0 14.4 0a7.2 7.2 0 1 0 -14.4 0M1829.2 1101.9a7.2 7.2 0 1 0 14.4 0a7.2 7.2 0 1 0 -14.4 0M1846.3 1102.2a7.2 7.2 0 1 0 14.4 0a7.2 7.2 0 1 0 -14.4 0M1851.2 1102.3a7.2 7.2 0 1 0 14.4 0a7.2 7.2 0 1 0 -14.4 0M1881.3 1102.8a7.2 7.2 0 1 0 14.4 0a7.2 7.2 0 1 0 -14.4 0M1927.5 1103.4a7.2 7.2 0 1 0 14.4 0a7.2 7.2 0 1 0 -14.4 0M1772.0 1105.5a7.2 7.2 0 1 0 14.4 0a7.2 7.2 0 1 0 -14.4 0M1863.1 1107.2a7.2 7.2 0 1 0 14.4 0a7.2 7.2 0 1 0 -14.4 0M1882.4 1107.5a7.2 7.2 0 1 0 14.4 0a7.2 7.2 0 1 0 -14.4 0M1918.1 1108.0a7.2 7.2 0 1 0 14.4 0a7.2 7.2 0 1 0 -14.4 0M1940.8 1108.3a7.2 7.2 0 1 0 14.4 0a7.2 7.2 0 1 0 -14.4 0M1970.9 1108.7a7.2 7.2 0 1 0 14.4 0a7.2 7.2 0 1 0 -14.4 0M1759.4 1109.9a7.2 7.2 0 1 0 14.4 0a7.2 7.2 0 1 0 -14.4 0M1767.1 1110.1a7.2 7.2 0 1 0 14.4 0a7.2 7.2 0 1 0 -14.4 0M1889.0 1112.3a7.2 7.2 0 1 0 14.4 0a7.2 7.2 0 1 0 -14.4 0M1897.4 1112.4a7.2 7.2 0 1 0 14.4 0a7.2 7.2 0 1 0 -14.4 0M1951.3 1113.2a7.2 7.2 0 1 0 14.4 0a7.2 7.2 0 1 0 -14.4 0M1961.8 1113.3a7.2 7.2 0 1 0 14.4 0a7.2 7.2 0 1 0 -14.4 0M1716.0 1113.4a7.2 7.2 0 1 0 14.4 0a7.2 7.2 0 1 0 -14.4 0M1830.2 1116.1a7.2 7.2 0 1 0 14.4 0a7.2 7.2 0 1 0 -14.4 0M1855.4 1116.5a7.2 7.2 0 1 0 14.4 0a7.2 7.2 0 1 0 -14.4 0M1859.6 1116.6a7.2 7.2 0 1 0 14.4 0a7.2 7.2 0 1 0 -14.4 0M1914.9 1117.4a7.2 7.2 0 1 0 14.4 0a7.2 7.2 0 1 0 -14.4 0M1931.7 1117.6a7.2 7.2 0 1 0 14.4 0a7.2 7.2 0 1 0 -14.4 0M1953.4 1117.9a7.2 7.2 0 1 0 14.4 0a7.2 7.2 0 1 0 -14.4 0M1963.2 1118.0a7.2 7.2 0 1 0 14.4 0a7.2 7.2 0 1 0 -14.4 0M1679.6 1116.9a7.2 7.2 0 1 0 14.4 0a7.2 7.2 0 1 0 -14.4 0M1734.2 1118.7a7.2 7.2 0 1 0 14.4 0a7.2 7.2 0 1 0 -14.4 0M1816.9 1120.5a7.2 7.2 0 1 0 14.4 0a7.2 7.2 0 1 0 -14.4 0M1842.1 1121.0a7.2 7.2 0 1 0 14.4 0a7.2 7.2 0 1 0 -14.4 0M1975.1 1122.9a7.2 7.2 0 1 0 14.4 0a7.2 7.2 0 1 0 -14.4 0M1723.7 1123.1a7.2 7.2 0 1 0 14.4 0a7.2 7.2 0 1 0 -14.4 0M1749.6 1123.8a7.2 7.2 0 1 0 14.4 0a7.2 7.2 0 1 0 -14.4 0M1770.9 1124.3a7.2 7.2 0 1 0 14.4 0a7.2 7.2 0 1 0 -14.4 0M1787.4 1124.7a7.2 7.2 0 1 0 14.4 0a7.2 7.2 0 1 0 -14.4 0M1794.4 1124.8a7.2 7.2 0 1 0 14.4 0a7.2 7.2 0 1 0 -14.4 0M1807.8 1125.1a7.2 7.2 0 1 0 14.4 0a7.2 7.2 0 1 0 -14.4 0M1711.1 1127.4a7.2 7.2 0 1 0 14.4 0a7.2 7.2 0 1 0 -14.4 0M1769.2 1129.0a7.2 7.2 0 1 0 14.4 0a7.2 7.2 0 1 0 -14.4 0M1812.0 1129.9a7.2 7.2 0 1 0 14.4 0a7.2 7.2 0 1 0 -14.4 0M1872.2 1130.9a7.2 7.2 0 1 0 14.4 0a7.2 7.2 0 1 0 -14.4 0M1924.7 1131.6a7.2 7.2 0 1 0 14.4 0a7.2 7.2 0 1 0 -14.4 0M1946.4 1131.9a7.2 7.2 0 1 0 14.4 0a7.2 7.2 0 1 0 -14.4 0M1754.1 1133.3a7.2 7.2 0 1 0 14.4 0a7.2 7.2 0 1 0 -14.4 0M1780.2 1133.9a7.2 7.2 0 1 0 14.4 0a7.2 7.2 0 1 0 -14.4 0M1795.8 1134.3a7.2 7.2 0 1 0 14.4 0a7.2 7.2 0 1 0 -14.4 0M1802.1 1134.4a7.2 7.2 0 1 0 14.4 0a7.2 7.2 0 1 0 -14.4 0M1879.2 1135.7a7.2 7.2 0 1 0 14.4 0a7.2 7.2 0 1 0 -14.4 0M1936.6 1136.5a7.2 7.2 0 1 0 14.4 0a7.2 7.2 0 1 0 -14.4 0M1947.1 1136.7a7.2 7.2 0 1 0 14.4 0a7.2 7.2 0 1 0 -14.4 0M1955.5 1136.8a7.2 7.2 0 1 0 14.4 0a7.2 7.2 0 1 0 -14.4 0M1973.7 1137.0a7.2 7.2 0 1 0 14.4 0a7.2 7.2 0 1 0 -14.4 0M1841.4 1139.8a7.2 7.2 0 1 0 14.4 0a7.2 7.2 0 1 0 -14.4 0M1865.9 1140.2a7.2 7.2 0 1 0 14.4 0a7.2 7.2 0 1 0 -14.4 0M1885.5 1140.5a7.2 7.2 0 1 0 14.4 0a7.2 7.2 0 1 0 -14.4 0M1910.0 1140.9a7.2 7.2 0 1 0 14.4 0a7.2 7.2 0 1 0 -14.4 0M1920.5 1141.0a7.2 7.2 0 1 0 14.4 0a7.2 7.2 0 1 0 -14.4 0M1693.3 1141.0a7.2 7.2 0 1 0 14.4 0a7.2 7.2 0 1 0 -14.4 0M1815.2 1144.1a7.2 7.2 0 1 0 14.4 0a7.2 7.2 0 1 0 -14.4 0M1871.2 1145.0a7.2 7.2 0 1 0 14.4 0a7.2 7.2 0 1 0 -14.4 0M1898.1 1145.4a7.2 7.2 0 1 0 14.4 0a7.2 7.2 0 1 0 -14.4 0M1918.4 1145.7a7.2 7.2 0 1 0 14.4 0a7.2 7.2 0 1 0 -14.4 0M1944.3 1146.0a7.2 7.2 0 1 0 14.4 0a7.2 7.2 0 1 0 -14.4 0M1949.9 1146.1a7.2 7.2 0 1 0 14.4 0a7.2 7.2 0 1 0 -14.4 0M1693.9 1145.7a7.2 7.2 0 1 0 14.4 0a7.2 7.2 0 1 0 -14.4 0M1718.1 1146.5a7.2 7.2 0 1 0 14.4 0a7.2 7.2 0 1 0 -14.4 0M1730.3 1146.8a7.2 7.2 0 1 0 14.4 0a7.2 7.2 0 1 0 -14.4 0M1789.5 1148.3a7.2 7.2 0 1 0 14.4 0a7.2 7.2 0 1 0 -14.4 0M1797.9 1148.4a7.2 7.2 0 1 0 14.4 0a7.2 7.2 0 1 0 -14.4 0M1888.3 1150.0a7.2 7.2 0 1 0 14.4 0a7.2 7.2 0 1 0 -14.4 0M1907.9 1150.3a7.2 7.2 0 1 0 14.4 0a7.2 7.2 0 1 0 -14.4 0M1966.7 1151.1a7.2 7.2 0 1 0 14.4 0a7.2 7.2 0 1 0 -14.4 0M1975.8 1151.2a7.2 7.2 0 1 0 14.4 0a7.2 7.2 0 1 0 -14.4 0M1790.9 1153.0a7.2 7.2 0 1 0 14.4 0a7.2 7.2 0 1 0 -14.4 0M1801.4 1153.2a7.2 7.2 0 1 0 14.4 0a7.2 7.2 0 1 0 -14.4 0M1814.1 1153.5a7.2 7.2 0 1 0 14.4 0a7.2 7.2 0 1 0 -14.4 0M1912.8 1155.0a7.2 7.2 0 1 0 14.4 0a7.2 7.2 0 1 0 -14.4 0M1942.9 1155.4a7.2 7.2 0 1 0 14.4 0a7.2 7.2 0 1 0 -14.4 0M1685.2 1154.8a7.2 7.2 0 1 0 14.4 0a7.2 7.2 0 1 0 -14.4 0M1733.1 1156.3a7.2 7.2 0 1 0 14.4 0a7.2 7.2 0 1 0 -14.4 0M1762.2 1157.1a7.2 7.2 0 1 0 14.4 0a7.2 7.2 0 1 0 -14.4 0M1809.2 1158.1a7.2 7.2 0 1 0 14.4 0a7.2 7.2 0 1 0 -14.4 0M1874.3 1159.2a7.2 7.2 0 1 0 14.4 0a7.2 7.2 0 1 0 -14.4 0M1968.1 1160.5a7.2 7.2 0 1 0 14.4 0a7.2 7.2 0 1 0 -14.4 0M1707.3 1160.3a7.2 7.2 0 1 0 14.4 0a7.2 7.2 0 1 0 -14.4 0M1749.4 1161.5a7.2 7.2 0 1 0 14.4 0a7.2 7.2 0 1 0 -14.4 0M1863.1 1163.7a7.2 7.2 0 1 0 14.4 0a7.2 7.2 0 1 0 -14.4 0M1911.4 1164.4a7.2 7.2 0 1 0 14.4 0a7.2 7.2 0 1 0 -14.4 0M1920.5 1164.6a7.2 7.2 0 1 0 14.4 0a7.2 7.2 0 1 0 -14.4 0M1949.2 1165.0a7.2 7.2 0 1 0 14.4 0a7.2 7.2 0 1 0 -14.4 0M1894.2 1168.9a7.2 7.2 0 1 0 14.4 0a7.2 7.2 0 1 0 -14.4 0M1935.9 1169.5a7.2 7.2 0 1 0 14.4 0a7.2 7.2 0 1 0 -14.4 0M1754.1 1171.0a7.2 7.2 0 1 0 14.4 0a7.2 7.2 0 1 0 -14.4 0M1765.3 1171.3a7.2 7.2 0 1 0 14.4 0a7.2 7.2 0 1 0 -14.4 0M1892.2 1173.6a7.2 7.2 0 1 0 14.4 0a7.2 7.2 0 1 0 -14.4 0M1959.0 1174.5a7.2 7.2 0 1 0 14.4 0a7.2 7.2 0 1 0 -14.4 0M1973.0 1174.7a7.2 7.2 0 1 0 14.4 0a7.2 7.2 0 1 0 -14.4 0M1720.2 1174.8a7.2 7.2 0 1 0 14.4 0a7.2 7.2 0 1 0 -14.4 0M1869.4 1178.0a7.2 7.2 0 1 0 14.4 0a7.2 7.2 0 1 0 -14.4 0M1941.2 1179.0a7.2 7.2 0 1 0 14.4 0a7.2 7.2 0 1 0 -14.4 0M1744.3 1180.2a7.2 7.2 0 1 0 14.4 0a7.2 7.2 0 1 0 -14.4 0M1864.2 1182.6a7.2 7.2 0 1 0 14.4 0a7.2 7.2 0 1 0 -14.4 0M1923.3 1183.4a7.2 7.2 0 1 0 14.4 0a7.2 7.2 0 1 0 -14.4 0M1747.1 1185.0a7.2 7.2 0 1 0 14.4 0a7.2 7.2 0 1 0 -14.4 0M1911.0 1188.0a7.2 7.2 0 1 0 14.4 0a7.2 7.2 0 1 0 -14.4 0M1806.4 1191.0a7.2 7.2 0 1 0 14.4 0a7.2 7.2 0 1 0 -14.4 0M1895.3 1192.5a7.2 7.2 0 1 0 14.4 0a7.2 7.2 0 1 0 -14.4 0M2011.1 1099.8a7.2 7.2 0 1 0 14.4 0a7.2 7.2 0 1 0 -14.4 0M2067.1 1100.7a7.2 7.2 0 1 0 14.4 0a7.2 7.2 0 1 0 -14.4 0M2092.4 1101.1a7.2 7.2 0 1 0 14.4 0a7.2 7.2 0 1 0 -14.4 0M2143.5 1102.3a7.2 7.2 0 1 0 14.4 0a7.2 7.2 0 1 0 -14.4 0M2148.4 1102.4a7.2 7.2 0 1 0 14.4 0a7.2 7.2 0 1 0 -14.4 0M2164.5 1102.8a7.2 7.2 0 1 0 14.4 0a7.2 7.2 0 1 0 -14.4 0M2172.9 1103.1a7.2 7.2 0 1 0 14.4 0a7.2 7.2 0 1 0 -14.4 0M2186.9 1103.6a7.2 7.2 0 1 0 14.4 0a7.2 7.2 0 1 0 -14.4 0M2202.3 1104.1a7.2 7.2 0 1 0 14.4 0a7.2 7.2 0 1 0 -14.4 0M2207.2 1104.3a7.2 7.2 0 1 0 14.4 0a7.2 7.2 0 1 0 -14.4 0M1995.1 1104.3a7.2 7.2 0 1 0 14.4 0a7.2 7.2 0 1 0 -14.4 0M2008.3 1104.5a7.2 7.2 0 1 0 14.4 0a7.2 7.2 0 1 0 -14.4 0M2072.0 1105.5a7.2 7.2 0 1 0 14.4 0a7.2 7.2 0 1 0 -14.4 0M2121.1 1106.4a7.2 7.2 0 1 0 14.4 0a7.2 7.2 0 1 0 -14.4 0M2180.6 1108.1a7.2 7.2 0 1 0 14.4 0a7.2 7.2 0 1 0 -14.4 0M2248.5 1111.1a7.2 7.2 0 1 0 14.4 0a7.2 7.2 0 1 0 -14.4 0M2270.9 1112.5a7.2 7.2 0 1 0 14.4 0a7.2 7.2 0 1 0 -14.4 0M1986.5 1108.9a7.2 7.2 0 1 0 14.4 0a7.2 7.2 0 1 0 -14.4 0M1999.8 1109.1a7.2 7.2 0 1 0 14.4 0a7.2 7.2 0 1 0 -14.4 0M2023.4 1109.4a7.2 7.2 0 1 0 14.4 0a7.2 7.2 0 1 0 -14.4 0M2030.0 1109.5a7.2 7.2 0 1 0 14.4 0a7.2 7.2 0 1 0 -14.4 0M2037.0 1109.6a7.2 7.2 0 1 0 14.4 0a7.2 7.2 0 1 0 -14.4 0M2085.3 1110.4a7.2 7.2 0 1 0 14.4 0a7.2 7.2 0 1 0 -14.4 0M2119.7 1111.1a7.2 7.2 0 1 0 14.4 0a7.2 7.2 0 1 0 -14.4 0M2139.3 1111.6a7.2 7.2 0 1 0 14.4 0a7.2 7.2 0 1 0 -14.4 0M2157.5 1112.1a7.2 7.2 0 1 0 14.4 0a7.2 7.2 0 1 0 -14.4 0M2163.8 1112.2a7.2 7.2 0 1 0 14.4 0a7.2 7.2 0 1 0 -14.4 0M2179.2 1112.7a7.2 7.2 0 1 0 14.4 0a7.2 7.2 0 1 0 -14.4 0M2193.2 1113.2a7.2 7.2 0 1 0 14.4 0a7.2 7.2 0 1 0 -14.4 0M1970.8 1113.4a7.2 7.2 0 1 0 14.4 0a7.2 7.2 0 1 0 -14.4 0M2003.1 1113.9a7.2 7.2 0 1 0 14.4 0a7.2 7.2 0 1 0 -14.4 0M2014.3 1114.0a7.2 7.2 0 1 0 14.4 0a7.2 7.2 0 1 0 -14.4 0M2032.3 1114.3a7.2 7.2 0 1 0 14.4 0a7.2 7.2 0 1 0 -14.4 0M2049.2 1114.5a7.2 7.2 0 1 0 14.4 0a7.2 7.2 0 1 0 -14.4 0M2073.2 1114.9a7.2 7.2 0 1 0 14.4 0a7.2 7.2 0 1 0 -14.4 0M2111.2 1115.6a7.2 7.2 0 1 0 14.4 0a7.2 7.2 0 1 0 -14.4 0M2126.0 1116.0a7.2 7.2 0 1 0 14.4 0a7.2 7.2 0 1 0 -14.4 0M2213.5 1118.7a7.2 7.2 0 1 0 14.4 0a7.2 7.2 0 1 0 -14.4 0M2251.3 1120.6a7.2 7.2 0 1 0 14.4 0a7.2 7.2 0 1 0 -14.4 0M2017.8 1118.8a7.2 7.2 0 1 0 14.4 0a7.2 7.2 0 1 0 -14.4 0M2064.8 1119.5a7.2 7.2 0 1 0 14.4 0a7.2 7.2 0 1 0 -14.4 0M2044.0 1123.9a7.2 7.2 0 1 0 14.4 0a7.2 7.2 0 1 0 -14.4 0M2050.8 1124.0a7.2 7.2 0 1 0 14.4 0a7.2 7.2 0 1 0 -14.4 0M2184.1 1127.0a7.2 7.2 0 1 0 14.4 0a7.2 7.2 0 1 0 -14.4 0M2240.1 1129.4a7.2 7.2 0 1 0 14.4 0a7.2 7.2 0 1 0 -14.4 0M2022.3 1128.3a7.2 7.2 0 1 0 14.4 0a7.2 7.2 0 1 0 -14.4 0M2081.8 1129.2a7.2 7.2 0 1 0 14.4 0a7.2 7.2 0 1 0 -14.4 0M2088.8 1129.3a7.2 7.2 0 1 0 14.4 0a7.2 7.2 0 1 0 -14.4 0M2152.6 1130.8a7.2 7.2 0 1 0 14.4 0a7.2 7.2 0 1 0 -14.4 0M2172.9 1131.4a7.2 7.2 0 1 0 14.4 0a7.2 7.2 0 1 0 -14.4 0M2250.6 1134.7a7.2 7.2 0 1 0 14.4 0a7.2 7.2 0 1 0 -14.4 0M2262.5 1135.5a7.2 7.2 0 1 0 14.4 0a7.2 7.2 0 1 0 -14.4 0M2007.0 1132.8a7.2 7.2 0 1 0 14.4 0a7.2 7.2 0 1 0 -14.4 0M2050.3 1133.4a7.2 7.2 0 1 0 14.4 0a7.2 7.2 0 1 0 -14.4 0M2059.2 1133.5a7.2 7.2 0 1 0 14.4 0a7.2 7.2 0 1 0 -14.4 0M2098.7 1134.2a7.2 7.2 0 1 0 14.4 0a7.2 7.2 0 1 0 -14.4 0M2114.8 1134.6a7.2 7.2 0 1 0 14.4 0a7.2 7.2 0 1 0 -14.4 0M2232.4 1138.5a7.2 7.2 0 1 0 14.4 0a7.2 7.2 0 1 0 -14.4 0M2259.7 1140.0a7.2 7.2 0 1 0 14.4 0a7.2 7.2 0 1 0 -14.4 0M2029.3 1137.8a7.2 7.2 0 1 0 14.4 0a7.2 7.2 0 1 0 -14.4 0M2044.0 1138.0a7.2 7.2 0 1 0 14.4 0a7.2 7.2 0 1 0 -14.4 0M2072.0 1138.5a7.2 7.2 0 1 0 14.4 0a7.2 7.2 0 1 0 -14.4 0M2095.9 1138.9a7.2 7.2 0 1 0 14.4 0a7.2 7.2 0 1 0 -14.4 0M2113.4 1139.2a7.2 7.2 0 1 0 14.4 0a7.2 7.2 0 1 0 -14.4 0M2199.2 1141.7a7.2 7.2 0 1 0 14.4 0a7.2 7.2 0 1 0 -14.4 0M1987.3 1141.9a7.2 7.2 0 1 0 14.4 0a7.2 7.2 0 1 0 -14.4 0M2001.3 1142.1a7.2 7.2 0 1 0 14.4 0a7.2 7.2 0 1 0 -14.4 0M2033.1 1142.6a7.2 7.2 0 1 0 14.4 0a7.2 7.2 0 1 0 -14.4 0M2048.9 1142.8a7.2 7.2 0 1 0 14.4 0a7.2 7.2 0 1 0 -14.4 0M2062.2 1143.0a7.2 7.2 0 1 0 14.4 0a7.2 7.2 0 1 0 -14.4 0M2136.5 1144.5a7.2 7.2 0 1 0 14.4 0a7.2 7.2 0 1 0 -14.4 0M1997.1 1146.8a7.2 7.2 0 1 0 14.4 0a7.2 7.2 0 1 0 -14.4 0M2087.4 1148.2a7.2 7.2 0 1 0 14.4 0a7.2 7.2 0 1 0 -14.4 0M2093.1 1148.3a7.2 7.2 0 1 0 14.4 0a7.2 7.2 0 1 0 -14.4 0M2128.8 1149.0a7.2 7.2 0 1 0 14.4 0a7.2 7.2 0 1 0 -14.4 0M2136.5 1149.2a7.2 7.2 0 1 0 14.4 0a7.2 7.2 0 1 0 -14.4 0M2218.4 1151.9a7.2 7.2 0 1 0 14.4 0a7.2 7.2 0 1 0 -14.4 0M2246.4 1153.3a7.2 7.2 0 1 0 14.4 0a7.2 7.2 0 1 0 -14.4 0M2032.1 1152.0a7.2 7.2 0 1 0 14.4 0a7.2 7.2 0 1 0 -14.4 0M2059.4 1152.4a7.2 7.2 0 1 0 14.4 0a7.2 7.2 0 1 0 -14.4 0M2066.4 1152.5a7.2 7.2 0 1 0 14.4 0a7.2 7.2 0 1 0 -14.4 0M2116.2 1153.4a7.2 7.2 0 1 0 14.4 0a7.2 7.2 0 1 0 -14.4 0M2144.9 1154.1a7.2 7.2 0 1 0 14.4 0a7.2 7.2 0 1 0 -14.4 0M2205.1 1156.1a7.2 7.2 0 1 0 14.4 0a7.2 7.2 0 1 0 -14.4 0M2224.7 1156.9a7.2 7.2 0 1 0 14.4 0a7.2 7.2 0 1 0 -14.4 0M2088.1 1157.6a7.2 7.2 0 1 0 14.4 0a7.2 7.2 0 1 0 -14.4 0M2235.9 1162.2a7.2 7.2 0 1 0 14.4 0a7.2 7.2 0 1 0 -14.4 0M2263.2 1163.8a7.2 7.2 0 1 0 14.4 0a7.2 7.2 0 1 0 -14.4 0M1991.5 1165.5a7.2 7.2 0 1 0 14.4 0a7.2 7.2 0 1 0 -14.4 0M2104.2 1167.3a7.2 7.2 0 1 0 14.4 0a7.2 7.2 0 1 0 -14.4 0M2146.3 1168.3a7.2 7.2 0 1 0 14.4 0a7.2 7.2 0 1 0 -14.4 0M2015.3 1170.6a7.2 7.2 0 1 0 14.4 0a7.2 7.2 0 1 0 -14.4 0M2021.6 1170.7a7.2 7.2 0 1 0 14.4 0a7.2 7.2 0 1 0 -14.4 0M2045.1 1171.0a7.2 7.2 0 1 0 14.4 0a7.2 7.2 0 1 0 -14.4 0M2062.2 1171.3a7.2 7.2 0 1 0 14.4 0a7.2 7.2 0 1 0 -14.4 0M2080.4 1171.6a7.2 7.2 0 1 0 14.4 0a7.2 7.2 0 1 0 -14.4 0M2233.1 1176.2a7.2 7.2 0 1 0 14.4 0a7.2 7.2 0 1 0 -14.4 0M1996.4 1175.0a7.2 7.2 0 1 0 14.4 0a7.2 7.2 0 1 0 -14.4 0M2002.0 1175.1a7.2 7.2 0 1 0 14.4 0a7.2 7.2 0 1 0 -14.4 0M2087.4 1176.4a7.2 7.2 0 1 0 14.4 0a7.2 7.2 0 1 0 -14.4 0M1990.8 1179.6a7.2 7.2 0 1 0 14.4 0a7.2 7.2 0 1 0 -14.4 0M2018.8 1180.0a7.2 7.2 0 1 0 14.4 0a7.2 7.2 0 1 0 -14.4 0M2095.2 1181.3a7.2 7.2 0 1 0 14.4 0a7.2 7.2 0 1 0 -14.4 0M1980.3 1188.9a7.2 7.2 0 1 0 14.4 0a7.2 7.2 0 1 0 -14.4 0M2028.3 1189.6a7.2 7.2 0 1 0 14.4 0a7.2 7.2 0 1 0 -14.4 0M2192.5 1198.0a7.2 7.2 0 1 0 14.4 0a7.2 7.2 0 1 0 -14.4 0M2318.1 1111.2a7.2 7.2 0 1 0 14.4 0a7.2 7.2 0 1 0 -14.4 0M2335.3 1112.2a7.2 7.2 0 1 0 14.4 0a7.2 7.2 0 1 0 -14.4 0M2377.4 1109.1a7.2 7.2 0 1 0 14.4 0a7.2 7.2 0 1 0 -14.4 0M2294.7 1114.2a7.2 7.2 0 1 0 14.4 0a7.2 7.2 0 1 0 -14.4 0M2381.1 1112.6a7.2 7.2 0 1 0 14.4 0a7.2 7.2 0 1 0 -14.4 0M2346.8 1121.9a7.2 7.2 0 1 0 14.4 0a7.2 7.2 0 1 0 -14.4 0M2354.5 1121.8a7.2 7.2 0 1 0 14.4 0a7.2 7.2 0 1 0 -14.4 0M2392.3 1111.7a7.2 7.2 0 1 0 14.4 0a7.2 7.2 0 1 0 -14.4 0M2299.2 1123.9a7.2 7.2 0 1 0 14.4 0a7.2 7.2 0 1 0 -14.4 0M2379.0 1122.7a7.2 7.2 0 1 0 14.4 0a7.2 7.2 0 1 0 -14.4 0M2323.0 1130.4a7.2 7.2 0 1 0 14.4 0a7.2 7.2 0 1 0 -14.4 0M2299.9 1133.4a7.2 7.2 0 1 0 14.4 0a7.2 7.2 0 1 0 -14.4 0M2281.7 1136.8a7.2 7.2 0 1 0 14.4 0a7.2 7.2 0 1 0 -14.4 0M2304.1 1138.4a7.2 7.2 0 1 0 14.4 0a7.2 7.2 0 1 0 -14.4 0M2312.5 1139.0a7.2 7.2 0 1 0 14.4 0a7.2 7.2 0 1 0 -14.4 0M2357.3 1140.5a7.2 7.2 0 1 0 14.4 0a7.2 7.2 0 1 0 -14.4 0M2362.2 1140.2a7.2 7.2 0 1 0 14.4 0a7.2 7.2 0 1 0 -14.4 0M2383.2 1135.3a7.2 7.2 0 1 0 14.4 0a7.2 7.2 0 1 0 -14.4 0M2293.6 1142.3a7.2 7.2 0 1 0 14.4 0a7.2 7.2 0 1 0 -14.4 0M2306.2 1143.3a7.2 7.2 0 1 0 14.4 0a7.2 7.2 0 1 0 -14.4 0M2320.2 1144.3a7.2 7.2 0 1 0 14.4 0a7.2 7.2 0 1 0 -14.4 0M2363.6 1144.7a7.2 7.2 0 1 0 14.4 0a7.2 7.2 0 1 0 -14.4 0M2343.7 1150.2a7.2 7.2 0 1 0 14.4 0a7.2 7.2 0 1 0 -14.4 0M2385.3 1143.8a7.2 7.2 0 1 0 14.4 0a7.2 7.2 0 1 0 -14.4 0M2316.0 1153.4a7.2 7.2 0 1 0 14.4 0a7.2 7.2 0 1 0 -14.4 0M2335.6 1154.6a7.2 7.2 0 1 0 14.4 0a7.2 7.2 0 1 0 -14.4 0M2350.7 1154.9a7.2 7.2 0 1 0 14.4 0a7.2 7.2 0 1 0 -14.4 0M2362.9 1154.2a7.2 7.2 0 1 0 14.4 0a7.2 7.2 0 1 0 -14.4 0M2365.0 1158.7a7.2 7.2 0 1 0 14.4 0a7.2 7.2 0 1 0 -14.4 0M2372.0 1157.6a7.2 7.2 0 1 0 14.4 0a7.2 7.2 0 1 0 -14.4 0M2313.2 1162.6a7.2 7.2 0 1 0 14.4 0a7.2 7.2 0 1 0 -14.4 0M2334.2 1164.0a7.2 7.2 0 1 0 14.4 0a7.2 7.2 0 1 0 -14.4 0M2372.0 1167.0a7.2 7.2 0 1 0 14.4 0a7.2 7.2 0 1 0 -14.4 0M2279.6 1174.3a7.2 7.2 0 1 0 14.4 0a7.2 7.2 0 1 0 -14.4 0M2379.0 1188.7a7.2 7.2 0 1 0 14.4 0a7.2 7.2 0 1 0 -14.4 0M2355.9 1197.1a7.2 7.2 0 1 0 14.4 0a7.2 7.2 0 1 0 -14.4 0M2342.3 1202.0a7.2 7.2 0 1 0 14.4 0a7.2 7.2 0 1 0 -14.4 0M2368.1 1200.7a7.2 7.2 0 1 0 14.4 0a7.2 7.2 0 1 0 -14.4 0M1655.5 1196.1a7.2 7.2 0 1 0 14.4 0a7.2 7.2 0 1 0 -14.4 0M1790.2 1195.4a7.2 7.2 0 1 0 14.4 0a7.2 7.2 0 1 0 -14.4 0M1724.4 1198.5a7.2 7.2 0 1 0 14.4 0a7.2 7.2 0 1 0 -14.4 0M1970.9 1202.9a7.2 7.2 0 1 0 14.4 0a7.2 7.2 0 1 0 -14.4 0M1960.4 1212.2a7.2 7.2 0 1 0 14.4 0a7.2 7.2 0 1 0 -14.4 0M1981.7 1198.4a7.2 7.2 0 1 0 14.4 0a7.2 7.2 0 1 0 -14.4 0M2018.8 1198.9a7.2 7.2 0 1 0 14.4 0a7.2 7.2 0 1 0 -14.4 0M192.1 1069.0a7.2 7.2 0 1 0 14.4 0a7.2 7.2 0 1 0 -14.4 0M1303.1 1069.0a7.2 7.2 0 1 0 14.4 0a7.2 7.2 0 1 0 -14.4 0M2414.1 1069.0a7.2 7.2 0 1 0 14.4 0a7.2 7.2 0 1 0 -14.4 0M188.3 1078.8a7.2 7.2 0 1 0 14.4 0a7.2 7.2 0 1 0 -14.4 0M1299.3 1078.8a7.2 7.2 0 1 0 14.4 0a7.2 7.2 0 1 0 -14.4 0M2410.3 1078.8a7.2 7.2 0 1 0 14.4 0a7.2 7.2 0 1 0 -14.4 0M178.1 1085.8a7.2 7.2 0 1 0 14.4 0a7.2 7.2 0 1 0 -14.4 0M1289.1 1085.8a7.2 7.2 0 1 0 14.4 0a7.2 7.2 0 1 0 -14.4 0M2400.1 1085.8a7.2 7.2 0 1 0 14.4 0a7.2 7.2 0 1 0 -14.4 0M186.5 1095.6a7.2 7.2 0 1 0 14.4 0a7.2 7.2 0 1 0 -14.4 0M1297.5 1095.6a7.2 7.2 0 1 0 14.4 0a7.2 7.2 0 1 0 -14.4 0M2408.5 1095.6a7.2 7.2 0 1 0 14.4 0a7.2 7.2 0 1 0 -14.4 0M173.2 1100.5a7.2 7.2 0 1 0 14.4 0a7.2 7.2 0 1 0 -14.4 0M1284.2 1100.5a7.2 7.2 0 1 0 14.4 0a7.2 7.2 0 1 0 -14.4 0M2395.2 1100.5a7.2 7.2 0 1 0 14.4 0a7.2 7.2 0 1 0 -14.4 0M185.1 1111.0a7.2 7.2 0 1 0 14.4 0a7.2 7.2 0 1 0 -14.4 0M1296.1 1111.0a7.2 7.2 0 1 0 14.4 0a7.2 7.2 0 1 0 -14.4 0M2407.1 1111.0a7.2 7.2 0 1 0 14.4 0a7.2 7.2 0 1 0 -14.4 0M220.1 1071.8a7.2 7.2 0 1 0 14.4 0a7.2 7.2 0 1 0 -14.4 0M1331.1 1071.8a7.2 7.2 0 1 0 14.4 0a7.2 7.2 0 1 0 -14.4 0M2442.1 1071.8a7.2 7.2 0 1 0 14.4 0a7.2 7.2 0 1 0 -14.4 0M226.4 1078.1a7.2 7.2 0 1 0 14.4 0a7.2 7.2 0 1 0 -14.4 0M1337.4 1078.1a7.2 7.2 0 1 0 14.4 0a7.2 7.2 0 1 0 -14.4 0M2448.4 1078.1a7.2 7.2 0 1 0 14.4 0a7.2 7.2 0 1 0 -14.4 0M208.2 1086.5a7.2 7.2 0 1 0 14.4 0a7.2 7.2 0 1 0 -14.4 0M1319.2 1086.5a7.2 7.2 0 1 0 14.4 0a7.2 7.2 0 1 0 -14.4 0M2430.2 1086.5a7.2 7.2 0 1 0 14.4 0a7.2 7.2 0 1 0 -14.4 0M223.3 1088.6a7.2 7.2 0 1 0 14.4 0a7.2 7.2 0 1 0 -14.4 0M1334.3 1088.6a7.2 7.2 0 1 0 14.4 0a7.2 7.2 0 1 0 -14.4 0M2445.3 1088.6a7.2 7.2 0 1 0 14.4 0a7.2 7.2 0 1 0 -14.4 0M230.6 1089.3a7.2 7.2 0 1 0 14.4 0a7.2 7.2 0 1 0 -14.4 0M1341.6 1089.3a7.2 7.2 0 1 0 14.4 0a7.2 7.2 0 1 0 -14.4 0M2452.6 1089.3a7.2 7.2 0 1 0 14.4 0a7.2 7.2 0 1 0 -14.4 0M214.5 1081.6a7.2 7.2 0 1 0 14.4 0a7.2 7.2 0 1 0 -14.4 0M1325.5 1081.6a7.2 7.2 0 1 0 14.4 0a7.2 7.2 0 1 0 -14.4 0M2436.5 1081.6a7.2 7.2 0 1 0 14.4 0a7.2 7.2 0 1 0 -14.4 0M257.9 1071.1a7.2 7.2 0 1 0 14.4 0a7.2 7.2 0 1 0 -14.4 0M1368.9 1071.1a7.2 7.2 0 1 0 14.4 0a7.2 7.2 0 1 0 -14.4 0M2479.9 1071.1a7.2 7.2 0 1 0 14.4 0a7.2 7.2 0 1 0 -14.4 0M268.4 1075.3a7.2 7.2 0 1 0 14.4 0a7.2 7.2 0 1 0 -14.4 0M1379.4 1075.3a7.2 7.2 0 1 0 14.4 0a7.2 7.2 0 1 0 -14.4 0M2490.4 1075.3a7.2 7.2 0 1 0 14.4 0a7.2 7.2 0 1 0 -14.4 0M254.8 1084.4a7.2 7.2 0 1 0 14.4 0a7.2 7.2 0 1 0 -14.4 0M1365.8 1084.4a7.2 7.2 0 1 0 14.4 0a7.2 7.2 0 1 0 -14.4 0M2476.8 1084.4a7.2 7.2 0 1 0 14.4 0a7.2 7.2 0 1 0 -14.4 0M268.4 1085.8a7.2 7.2 0 1 0 14.4 0a7.2 7.2 0 1 0 -14.4 0M1379.4 1085.8a7.2 7.2 0 1 0 14.4 0a7.2 7.2 0 1 0 -14.4 0M2490.4 1085.8a7.2 7.2 0 1 0 14.4 0a7.2 7.2 0 1 0 -14.4 0M288.0 1067.3a7.2 7.2 0 1 0 14.4 0a7.2 7.2 0 1 0 -14.4 0M1399.0 1067.3a7.2 7.2 0 1 0 14.4 0a7.2 7.2 0 1 0 -14.4 0M2510.0 1067.3a7.2 7.2 0 1 0 14.4 0a7.2 7.2 0 1 0 -14.4 0M297.2 1077.1a7.2 7.2 0 1 0 14.4 0a7.2 7.2 0 1 0 -14.4 0M1408.2 1077.1a7.2 7.2 0 1 0 14.4 0a7.2 7.2 0 1 0 -14.4 0M2519.2 1077.1a7.2 7.2 0 1 0 14.4 0a7.2 7.2 0 1 0 -14.4 0M304.2 1085.1a7.2 7.2 0 1 0 14.4 0a7.2 7.2 0 1 0 -14.4 0M1415.2 1085.1a7.2 7.2 0 1 0 14.4 0a7.2 7.2 0 1 0 -14.4 0M2526.2 1085.1a7.2 7.2 0 1 0 14.4 0a7.2 7.2 0 1 0 -14.4 0M298.9 1094.6a7.2 7.2 0 1 0 14.4 0a7.2 7.2 0 1 0 -14.4 0M1409.9 1094.6a7.2 7.2 0 1 0 14.4 0a7.2 7.2 0 1 0 -14.4 0M2520.9 1094.6a7.2 7.2 0 1 0 14.4 0a7.2 7.2 0 1 0 -14.4 0M253.0 1097.7a7.2 7.2 0 1 0 14.4 0a7.2 7.2 0 1 0 -14.4 0M1364.0 1097.7a7.2 7.2 0 1 0 14.4 0a7.2 7.2 0 1 0 -14.4 0M2475.0 1097.7a7.2 7.2 0 1 0 14.4 0a7.2 7.2 0 1 0 -14.4 0M242.5 1100.5a7.2 7.2 0 1 0 14.4 0a7.2 7.2 0 1 0 -14.4 0M1353.5 1100.5a7.2 7.2 0 1 0 14.4 0a7.2 7.2 0 1 0 -14.4 0M2464.5 1100.5a7.2 7.2 0 1 0 14.4 0a7.2 7.2 0 1 0 -14.4 0M233.4 1106.8a7.2 7.2 0 1 0 14.4 0a7.2 7.2 0 1 0 -14.4 0M1344.4 1106.8a7.2 7.2 0 1 0 14.4 0a7.2 7.2 0 1 0 -14.4 0M2455.4 1106.8a7.2 7.2 0 1 0 14.4 0a7.2 7.2 0 1 0 -14.4 0M232.0 1111.0a7.2 7.2 0 1 0 14.4 0a7.2 7.2 0 1 0 -14.4 0M1343.0 1111.0a7.2 7.2 0 1 0 14.4 0a7.2 7.2 0 1 0 -14.4 0M2454.0 1111.0a7.2 7.2 0 1 0 14.4 0a7.2 7.2 0 1 0 -14.4 0M254.1 1109.6a7.2 7.2 0 1 0 14.4 0a7.2 7.2 0 1 0 -14.4 0M1365.1 1109.6a7.2 7.2 0 1 0 14.4 0a7.2 7.2 0 1 0 -14.4 0M2476.1 1109.6a7.2 7.2 0 1 0 14.4 0a7.2 7.2 0 1 0 -14.4 0M269.8 1106.8a7.2 7.2 0 1 0 14.4 0a7.2 7.2 0 1 0 -14.4 0M1380.8 1106.8a7.2 7.2 0 1 0 14.4 0a7.2 7.2 0 1 0 -14.4 0M2491.8 1106.8a7.2 7.2 0 1 0 14.4 0a7.2 7.2 0 1 0 -14.4 0M280.3 1106.8a7.2 7.2 0 1 0 14.4 0a7.2 7.2 0 1 0 -14.4 0M1391.3 1106.8a7.2 7.2 0 1 0 14.4 0a7.2 7.2 0 1 0 -14.4 0M2502.3 1106.8a7.2 7.2 0 1 0 14.4 0a7.2 7.2 0 1 0 -14.4 0M198.4 1113.8a7.2 7.2 0 1 0 14.4 0a7.2 7.2 0 1 0 -14.4 0M1309.4 1113.8a7.2 7.2 0 1 0 14.4 0a7.2 7.2 0 1 0 -14.4 0M2420.4 1113.8a7.2 7.2 0 1 0 14.4 0a7.2 7.2 0 1 0 -14.4 0M205.4 1115.9a7.2 7.2 0 1 0 14.4 0a7.2 7.2 0 1 0 -14.4 0M1316.4 1115.9a7.2 7.2 0 1 0 14.4 0a7.2 7.2 0 1 0 -14.4 0M2427.4 1115.9a7.2 7.2 0 1 0 14.4 0a7.2 7.2 0 1 0 -14.4 0M238.3 1114.5a7.2 7.2 0 1 0 14.4 0a7.2 7.2 0 1 0 -14.4 0M1349.3 1114.5a7.2 7.2 0 1 0 14.4 0a7.2 7.2 0 1 0 -14.4 0M2460.3 1114.5a7.2 7.2 0 1 0 14.4 0a7.2 7.2 0 1 0 -14.4 0M262.8 1118.0a7.2 7.2 0 1 0 14.4 0a7.2 7.2 0 1 0 -14.4 0M1373.8 1118.0a7.2 7.2 0 1 0 14.4 0a7.2 7.2 0 1 0 -14.4 0M2484.8 1118.0a7.2 7.2 0 1 0 14.4 0a7.2 7.2 0 1 0 -14.4 0M173.2 1111.0a7.2 7.2 0 1 0 14.4 0a7.2 7.2 0 1 0 -14.4 0M1284.2 1111.0a7.2 7.2 0 1 0 14.4 0a7.2 7.2 0 1 0 -14.4 0M2395.2 1111.0a7.2 7.2 0 1 0 14.4 0a7.2 7.2 0 1 0 -14.4 0M183.4 1128.0a7.2 7.2 0 1 0 14.4 0a7.2 7.2 0 1 0 -14.4 0M1294.4 1128.0a7.2 7.2 0 1 0 14.4 0a7.2 7.2 0 1 0 -14.4 0M2405.4 1128.0a7.2 7.2 0 1 0 14.4 0a7.2 7.2 0 1 0 -14.4 0M194.2 1130.8a7.2 7.2 0 1 0 14.4 0a7.2 7.2 0 1 0 -14.4 0M1305.2 1130.8a7.2 7.2 0 1 0 14.4 0a7.2 7.2 0 1 0 -14.4 0M2416.2 1130.8a7.2 7.2 0 1 0 14.4 0a7.2 7.2 0 1 0 -14.4 0M215.9 1125.2a7.2 7.2 0 1 0 14.4 0a7.2 7.2 0 1 0 -14.4 0M1326.9 1125.2a7.2 7.2 0 1 0 14.4 0a7.2 7.2 0 1 0 -14.4 0M2437.9 1125.2a7.2 7.2 0 1 0 14.4 0a7.2 7.2 0 1 0 -14.4 0M225.7 1128.0a7.2 7.2 0 1 0 14.4 0a7.2 7.2 0 1 0 -14.4 0M1336.7 1128.0a7.2 7.2 0 1 0 14.4 0a7.2 7.2 0 1 0 -14.4 0M2447.7 1128.0a7.2 7.2 0 1 0 14.4 0a7.2 7.2 0 1 0 -14.4 0M243.9 1128.0a7.2 7.2 0 1 0 14.4 0a7.2 7.2 0 1 0 -14.4 0M1354.9 1128.0a7.2 7.2 0 1 0 14.4 0a7.2 7.2 0 1 0 -14.4 0M2465.9 1128.0a7.2 7.2 0 1 0 14.4 0a7.2 7.2 0 1 0 -14.4 0M258.6 1130.1a7.2 7.2 0 1 0 14.4 0a7.2 7.2 0 1 0 -14.4 0M1369.6 1130.1a7.2 7.2 0 1 0 14.4 0a7.2 7.2 0 1 0 -14.4 0M2480.6 1130.1a7.2 7.2 0 1 0 14.4 0a7.2 7.2 0 1 0 -14.4 0M269.8 1132.2a7.2 7.2 0 1 0 14.4 0a7.2 7.2 0 1 0 -14.4 0M1380.8 1132.2a7.2 7.2 0 1 0 14.4 0a7.2 7.2 0 1 0 -14.4 0M2491.8 1132.2a7.2 7.2 0 1 0 14.4 0a7.2 7.2 0 1 0 -14.4 0M288.0 1125.2a7.2 7.2 0 1 0 14.4 0a7.2 7.2 0 1 0 -14.4 0M1399.0 1125.2a7.2 7.2 0 1 0 14.4 0a7.2 7.2 0 1 0 -14.4 0M2510.0 1125.2a7.2 7.2 0 1 0 14.4 0a7.2 7.2 0 1 0 -14.4 0M296.4 1132.2a7.2 7.2 0 1 0 14.4 0a7.2 7.2 0 1 0 -14.4 0M1407.4 1132.2a7.2 7.2 0 1 0 14.4 0a7.2 7.2 0 1 0 -14.4 0M2518.4 1132.2a7.2 7.2 0 1 0 14.4 0a7.2 7.2 0 1 0 -14.4 0M310.5 1125.9a7.2 7.2 0 1 0 14.4 0a7.2 7.2 0 1 0 -14.4 0M1421.5 1125.9a7.2 7.2 0 1 0 14.4 0a7.2 7.2 0 1 0 -14.4 0M2532.5 1125.9a7.2 7.2 0 1 0 14.4 0a7.2 7.2 0 1 0 -14.4 0M179.5 1142.0a7.2 7.2 0 1 0 14.4 0a7.2 7.2 0 1 0 -14.4 0M1290.5 1142.0a7.2 7.2 0 1 0 14.4 0a7.2 7.2 0 1 0 -14.4 0M2401.5 1142.0a7.2 7.2 0 1 0 14.4 0a7.2 7.2 0 1 0 -14.4 0M203.3 1137.8a7.2 7.2 0 1 0 14.4 0a7.2 7.2 0 1 0 -14.4 0M1314.3 1137.8a7.2 7.2 0 1 0 14.4 0a7.2 7.2 0 1 0 -14.4 0M2425.3 1137.8a7.2 7.2 0 1 0 14.4 0a7.2 7.2 0 1 0 -14.4 0M231.3 1140.6a7.2 7.2 0 1 0 14.4 0a7.2 7.2 0 1 0 -14.4 0M1342.3 1140.6a7.2 7.2 0 1 0 14.4 0a7.2 7.2 0 1 0 -14.4 0M2453.3 1140.6a7.2 7.2 0 1 0 14.4 0a7.2 7.2 0 1 0 -14.4 0M245.3 1142.0a7.2 7.2 0 1 0 14.4 0a7.2 7.2 0 1 0 -14.4 0M1356.3 1142.0a7.2 7.2 0 1 0 14.4 0a7.2 7.2 0 1 0 -14.4 0M2467.3 1142.0a7.2 7.2 0 1 0 14.4 0a7.2 7.2 0 1 0 -14.4 0M281.0 1139.2a7.2 7.2 0 1 0 14.4 0a7.2 7.2 0 1 0 -14.4 0M1392.0 1139.2a7.2 7.2 0 1 0 14.4 0a7.2 7.2 0 1 0 -14.4 0M2503.0 1139.2a7.2 7.2 0 1 0 14.4 0a7.2 7.2 0 1 0 -14.4 0M289.4 1146.2a7.2 7.2 0 1 0 14.4 0a7.2 7.2 0 1 0 -14.4 0M1400.4 1146.2a7.2 7.2 0 1 0 14.4 0a7.2 7.2 0 1 0 -14.4 0M2511.4 1146.2a7.2 7.2 0 1 0 14.4 0a7.2 7.2 0 1 0 -14.4 0M194.9 1148.3a7.2 7.2 0 1 0 14.4 0a7.2 7.2 0 1 0 -14.4 0M1305.9 1148.3a7.2 7.2 0 1 0 14.4 0a7.2 7.2 0 1 0 -14.4 0M2416.9 1148.3a7.2 7.2 0 1 0 14.4 0a7.2 7.2 0 1 0 -14.4 0M210.3 1151.1a7.2 7.2 0 1 0 14.4 0a7.2 7.2 0 1 0 -14.4 0M1321.3 1151.1a7.2 7.2 0 1 0 14.4 0a7.2 7.2 0 1 0 -14.4 0M2432.3 1151.1a7.2 7.2 0 1 0 14.4 0a7.2 7.2 0 1 0 -14.4 0M309.1 1147.6a7.2 7.2 0 1 0 14.4 0a7.2 7.2 0 1 0 -14.4 0M1420.1 1147.6a7.2 7.2 0 1 0 14.4 0a7.2 7.2 0 1 0 -14.4 0M2531.1 1147.6a7.2 7.2 0 1 0 14.4 0a7.2 7.2 0 1 0 -14.4 0M264.2 1158.1a7.2 7.2 0 1 0 14.4 0a7.2 7.2 0 1 0 -14.4 0M1375.2 1158.1a7.2 7.2 0 1 0 14.4 0a7.2 7.2 0 1 0 -14.4 0M2486.2 1158.1a7.2 7.2 0 1 0 14.4 0a7.2 7.2 0 1 0 -14.4 0M275.4 1156.0a7.2 7.2 0 1 0 14.4 0a7.2 7.2 0 1 0 -14.4 0M1386.4 1156.0a7.2 7.2 0 1 0 14.4 0a7.2 7.2 0 1 0 -14.4 0M2497.4 1156.0a7.2 7.2 0 1 0 14.4 0a7.2 7.2 0 1 0 -14.4 0M232.0 1162.3a7.2 7.2 0 1 0 14.4 0a7.2 7.2 0 1 0 -14.4 0M1343.0 1162.3a7.2 7.2 0 1 0 14.4 0a7.2 7.2 0 1 0 -14.4 0M2454.0 1162.3a7.2 7.2 0 1 0 14.4 0a7.2 7.2 0 1 0 -14.4 0M215.2 1165.1a7.2 7.2 0 1 0 14.4 0a7.2 7.2 0 1 0 -14.4 0M1326.2 1165.1a7.2 7.2 0 1 0 14.4 0a7.2 7.2 0 1 0 -14.4 0M2437.2 1165.1a7.2 7.2 0 1 0 14.4 0a7.2 7.2 0 1 0 -14.4 0M197.0 1168.3a7.2 7.2 0 1 0 14.4 0a7.2 7.2 0 1 0 -14.4 0M1308.0 1168.3a7.2 7.2 0 1 0 14.4 0a7.2 7.2 0 1 0 -14.4 0M2419.0 1168.3a7.2 7.2 0 1 0 14.4 0a7.2 7.2 0 1 0 -14.4 0M176.0 1169.3a7.2 7.2 0 1 0 14.4 0a7.2 7.2 0 1 0 -14.4 0M1287.0 1169.3a7.2 7.2 0 1 0 14.4 0a7.2 7.2 0 1 0 -14.4 0M2398.0 1169.3a7.2 7.2 0 1 0 14.4 0a7.2 7.2 0 1 0 -14.4 0M266.3 1166.5a7.2 7.2 0 1 0 14.4 0a7.2 7.2 0 1 0 -14.4 0M1377.3 1166.5a7.2 7.2 0 1 0 14.4 0a7.2 7.2 0 1 0 -14.4 0M2488.3 1166.5a7.2 7.2 0 1 0 14.4 0a7.2 7.2 0 1 0 -14.4 0M281.7 1170.7a7.2 7.2 0 1 0 14.4 0a7.2 7.2 0 1 0 -14.4 0M1392.7 1170.7a7.2 7.2 0 1 0 14.4 0a7.2 7.2 0 1 0 -14.4 0M2503.7 1170.7a7.2 7.2 0 1 0 14.4 0a7.2 7.2 0 1 0 -14.4 0M295.0 1161.6a7.2 7.2 0 1 0 14.4 0a7.2 7.2 0 1 0 -14.4 0M1406.0 1161.6a7.2 7.2 0 1 0 14.4 0a7.2 7.2 0 1 0 -14.4 0M2517.0 1161.6a7.2 7.2 0 1 0 14.4 0a7.2 7.2 0 1 0 -14.4 0M294.3 1169.3a7.2 7.2 0 1 0 14.4 0a7.2 7.2 0 1 0 -14.4 0M1405.3 1169.3a7.2 7.2 0 1 0 14.4 0a7.2 7.2 0 1 0 -14.4 0M2516.3 1169.3a7.2 7.2 0 1 0 14.4 0a7.2 7.2 0 1 0 -14.4 0M309.1 1161.6a7.2 7.2 0 1 0 14.4 0a7.2 7.2 0 1 0 -14.4 0M1420.1 1161.6a7.2 7.2 0 1 0 14.4 0a7.2 7.2 0 1 0 -14.4 0M2531.1 1161.6a7.2 7.2 0 1 0 14.4 0a7.2 7.2 0 1 0 -14.4 0M208.2 1175.6a7.2 7.2 0 1 0 14.4 0a7.2 7.2 0 1 0 -14.4 0M1319.2 1175.6a7.2 7.2 0 1 0 14.4 0a7.2 7.2 0 1 0 -14.4 0M2430.2 1175.6a7.2 7.2 0 1 0 14.4 0a7.2 7.2 0 1 0 -14.4 0M247.1 1180.5a7.2 7.2 0 1 0 14.4 0a7.2 7.2 0 1 0 -14.4 0M1358.1 1180.5a7.2 7.2 0 1 0 14.4 0a7.2 7.2 0 1 0 -14.4 0M2469.1 1180.5a7.2 7.2 0 1 0 14.4 0a7.2 7.2 0 1 0 -14.4 0M311.8 1101.0a7.2 7.2 0 1 0 14.4 0a7.2 7.2 0 1 0 -14.4 0M1422.8 1101.0a7.2 7.2 0 1 0 14.4 0a7.2 7.2 0 1 0 -14.4 0M2533.8 1101.0a7.2 7.2 0 1 0 14.4 0a7.2 7.2 0 1 0 -14.4 0M276.8 1116.0a7.2 7.2 0 1 0 14.4 0a7.2 7.2 0 1 0 -14.4 0M1387.8 1116.0a7.2 7.2 0 1 0 14.4 0a7.2 7.2 0 1 0 -14.4 0M2498.8 1116.0a7.2 7.2 0 1 0 14.4 0a7.2 7.2 0 1 0 -14.4 0M236.2 1205.5a7.2 7.2 0 1 0 14.4 0a7.2 7.2 0 1 0 -14.4 0M1347.2 1205.5a7.2 7.2 0 1 0 14.4 0a7.2 7.2 0 1 0 -14.4 0M2458.2 1205.5a7.2 7.2 0 1 0 14.4 0a7.2 7.2 0 1 0 -14.4 0"/>
<polyline clip-path="url(#ct)" points="273.3,600.1 273.9,594.2 274.4,588.2 275.0,582.2 275.5,576.1 276.1,569.9 276.6,563.7 277.2,557.4 277.7,551.1 278.3,544.8 278.9,538.4 279.4,532.1 280.0,525.7 280.5,519.3 281.1,512.9 281.6,506.5 282.2,500.2 282.7,493.9 283.3,487.6 283.9,481.3 284.4,475.1 285.0,469.0 285.5,462.9 286.1,456.9 286.6,450.9 287.2,445.0 287.7,439.2 288.3,433.5 288.9,427.9 289.4,422.3 290.0,416.9 290.5,411.6 291.1,406.4 291.6,401.3 292.2,396.3 292.7,391.4 293.3,386.6 293.9,382.0 294.4,377.5 295.0,373.1 295.5,368.9 296.1,364.7 296.6,360.7 297.2,356.9 297.7,353.1 298.3,349.5 298.9,346.1 299.4,342.7 300.0,339.5 300.5,336.5 301.1,333.5 301.6,330.7 302.2,328.1 302.7,325.5 303.3,323.1 303.9,320.8 304.4,318.7 305.0,316.7 305.5,314.8 306.1,313.0 306.6,311.3 307.2,309.8 307.7,308.3 308.3,307.0 308.9,305.8 309.4,304.7 310.0,303.7 310.5,302.8 311.1,302.1 311.6,301.4 312.2,300.8 312.7,300.3 313.3,299.9 313.9,299.6 314.4,299.4 315.0,299.2 315.5,299.2 316.1,299.2 316.6,299.3 317.2,299.4 317.7,299.7 318.3,300.0 318.9,300.4 319.4,300.8 320.0,301.3 320.5,301.8 321.1,302.4 321.6,303.1 322.2,303.8 322.7,304.6 323.3,305.4 323.9,306.2 324.4,307.1 325.0,308.1 325.5,309.0 326.1,310.0 326.6,311.1 327.2,312.1 327.7,313.2 328.3,314.4 328.9,315.5 329.4,316.7 330.0,317.9 330.5,319.1 331.1,320.4 331.6,321.6 332.2,322.9 332.7,324.2 333.3,325.5 333.8,326.8 334.4,328.1 335.0,329.4 335.5,330.8 336.1,332.1 336.6,333.5 337.2,334.8 337.7,336.2 338.3,337.5 338.8,338.9 339.4,340.2 340.0,341.6 340.5,343.0 341.1,344.3 341.6,345.7 342.2,347.0 342.7,348.4 343.3,349.7 343.8,351.0 344.4,352.4 345.0,353.7 345.5,355.0 346.1,356.3 346.6,357.6 347.2,358.9 347.7,360.2 348.3,361.4 348.8,362.7 349.4,363.9 350.0,365.2 350.5,366.4 351.1,367.6 351.6,368.8 352.2,370.0 352.7,371.2 353.3,372.3 353.8,373.5 354.4,374.6 355.0,375.8 355.5,376.9 356.1,378.0 356.6,379.1 357.2,380.1 357.7,381.2 358.3,382.3 358.8,383.3 359.4,384.3 360.0,385.3 360.5,386.3 361.1,387.3 361.6,388.3 362.2,389.2 362.7,390.2 363.3,391.1 363.8,392.0 364.4,392.9 365.0,393.8 365.5,394.7 366.1,395.5 366.6,396.4 367.2,397.2 367.7,398.0 368.3,398.8 368.8,399.6 369.4,400.4 370.0,401.2 370.5,401.9 371.1,402.7 371.6,403.4 372.2,404.1 372.7,404.8 373.3,405.5 373.8,406.2 374.4,406.9 375.0,407.5 375.5,408.2 376.1,408.8 376.6,409.4 377.2,410.0 377.7,410.6 378.3,411.2 378.8,411.8 379.4,412.4 380.0,412.9 380.5,413.5 381.1,414.0 381.6,414.6 382.2,415.1 382.7,415.6 383.3,416.1 383.8,416.6 384.4,417.0 385.0,417.5 385.5,418.0 386.1,418.4 386.6,418.9 387.2,419.3 387.7,419.7 388.3,420.1 388.8,420.5 389.4,420.9 390.0,421.3 390.5,421.7 391.1,422.1 391.6,422.5 392.2,422.8 392.7,423.2 393.3,423.5 393.8,423.8 394.4,424.2 395.0,424.5 395.5,424.8 396.1,425.1 396.6,425.4 397.2,425.7 397.7,426.0 398.3,426.3 398.8,426.5 399.4,426.8 400.0,427.1 400.5,427.3 401.1,427.6 401.6,427.8 402.2,428.1 402.7,428.3 403.3,428.5 403.8,428.7 404.4,428.9 405.0,429.2 405.5,429.4 406.1,429.6 406.6,429.8 407.2,429.9 407.7,430.1 408.3,430.3 408.8,430.5 409.4,430.7 410.0,430.8 410.5,431.0 411.1,431.1 411.6,431.3 412.2,431.4 412.7,431.6 413.3,431.7 413.8,431.9 414.4,432.0 415.0,432.1 415.5,432.2 416.1,432.4 416.6,432.5 417.2,432.6 417.7,432.7 418.3,432.8 418.8,432.9 419.4,433.0 420.0,433.1 420.5,433.2 421.1,433.3 421.6,433.4 422.2,433.5 422.7,433.5 423.3,433.6 423.8,433.7 424.4,433.8 425.0,433.8 425.5,433.9 426.1,434.0 426.6,434.0 427.2,434.1 427.7,434.1 428.3,434.2 428.8,434.2 429.4,434.3 430.0,434.3 430.5,434.4 431.1,434.4 431.6,434.5 432.2,434.5 432.7,434.5 433.3,434.6 433.8,434.6 434.4,434.6 435.0,434.7 435.5,434.7 436.1,434.7 436.6,434.7 437.2,434.8 437.7,434.8 438.3,434.8 438.8,434.8 439.4,434.8 440.0,434.8 440.5,434.9 441.1,434.9 441.6,434.9 442.2,434.9 442.7,434.9 443.3,434.9 443.8,434.9 444.4,434.9 444.9,434.9 445.5,434.9 446.1,434.9 446.6,434.9 447.2,434.9 447.7,434.9 448.3,434.9 448.8,434.8 449.4,434.8 449.9,434.8 450.5,434.8 451.1,434.8 451.6,434.8 452.2,434.8 452.7,434.7 453.3,434.7 453.8,434.7 454.4,434.7 454.9,434.7 455.5,434.7 456.1,434.6 456.6,434.6 457.2,434.6 457.7,434.6 458.3,434.5 458.8,434.5 459.4,434.5 459.9,434.5 460.5,434.4 461.1,434.4 461.6,434.4 462.2,434.3 462.7,434.3 463.3,434.3 463.8,434.2 464.4,434.2 464.9,434.2 465.5,434.1 466.1,434.1 466.6,434.1 467.2,434.0 467.7,434.0 468.3,434.0 468.8,433.9 469.4,433.9 469.9,433.8 470.5,433.8 471.1,433.8 471.6,433.7 472.2,433.7 472.7,433.6 473.3,433.6 473.8,433.6 474.4,433.5 474.9,433.5 475.5,433.4 476.1,433.4 476.6,433.4 477.2,433.3 477.7,433.3 478.3,433.2 478.8,433.2 479.4,433.1 479.9,433.1 480.5,433.0 481.1,433.0 481.6,433.0 482.2,432.9 482.7,432.9 483.3,432.8 483.8,432.8 484.4,432.7 484.9,432.7 485.5,432.6 486.1,432.6 486.6,432.5 487.2,432.5 487.7,432.4 488.3,432.4 488.8,432.3 489.4,432.3 489.9,432.2 490.5,432.2 491.1,432.1 491.6,432.1 492.2,432.0 492.7,432.0 493.3,432.0 493.8,431.9 494.4,431.9 494.9,431.8 495.5,431.8 496.1,431.7 496.6,431.7 497.2,431.6 497.7,431.6 498.3,431.5 498.8,431.5 499.4,431.4 499.9,431.4 500.5,431.3 501.1,431.3 501.6,431.2 502.2,431.1 502.7,431.1 503.3,431.0 503.8,431.0 504.4,430.9 504.9,430.9 505.5,430.8 506.1,430.8 506.6,430.7 507.2,430.7 507.7,430.6 508.3,430.6 508.8,430.5 509.4,430.5 509.9,430.4 510.5,430.4 511.1,430.3 511.6,430.3 512.2,430.2 512.7,430.2 513.3,430.1 513.8,430.1 514.4,430.0 514.9,430.0 515.5,429.9 516.1,429.9 516.6,429.8 517.2,429.8 517.7,429.7 518.3,429.7 518.8,429.6 519.4,429.6 519.9,429.5 520.5,429.5 521.1,429.4 521.6,429.4 522.2,429.3 522.7,429.3 523.3,429.2 523.8,429.2 524.4,429.1 524.9,429.1 525.5,429.0 526.1,429.0 526.6,428.9 527.2,428.9 527.7,428.8 528.3,428.8 528.8,428.7 529.4,428.7 529.9,428.6 530.5,428.6 531.1,428.5 531.6,428.5 532.2,428.4 532.7,428.4 533.3,428.3 533.8,428.3 534.4,428.2 534.9,428.2 535.5,428.2 536.1,428.1 536.6,428.1 537.2,428.0 537.7,428.0 538.3,427.9 538.8,427.9 539.4,427.8 539.9,427.8 540.5,427.7 541.1,427.7 541.6,427.6 542.2,427.6 542.7,427.5 543.3,427.5 543.8,427.4 544.4,427.4 544.9,427.3 545.5,427.3 546.1,427.3 546.6,427.2 547.2,427.2 547.7,427.1 548.3,427.1 548.8,427.0 549.4,427.0 549.9,426.9 550.5,426.9 551.0,426.8 551.6,426.8 552.2,426.8 552.7,426.7 553.3,426.7 553.8,426.6 554.4,426.6 554.9,426.5 555.5,426.5 556.0,426.4 556.6,426.4 557.2,426.4 557.7,426.3 558.3,426.3 558.8,426.2 559.4,426.2 559.9,426.1 560.5,426.1 561.0,426.0 561.6,426.0 562.2,426.0 562.7,425.9 563.3,425.9 563.8,425.8 564.4,425.8 564.9,425.7 565.5,425.7 566.0,425.7 566.6,425.6 567.2,425.6 567.7,425.5 568.3,425.5 568.8,425.4 569.4,425.4 569.9,425.4 570.5,425.3 571.0,425.3 571.6,425.2 572.2,425.2 572.7,425.2 573.3,425.1 573.8,425.1 574.4,425.0 574.9,425.0 575.5,425.0 576.0,424.9 576.6,424.9 577.2,424.8 577.7,424.8 578.3,424.8 578.8,424.7 579.4,424.7 579.9,424.6 580.5,424.6 581.0,424.6 581.6,424.5 582.2,424.5 582.7,424.4 583.3,424.4 583.8,424.4 584.4,424.3 584.9,424.3 585.5,424.2 586.0,424.2 586.6,424.2 587.2,424.1 587.7,424.1 588.3,424.1 588.8,424.0 589.4,424.0 589.9,423.9 590.5,423.9 591.0,423.9 591.6,423.8 592.2,423.8 592.7,423.8 593.3,423.7 593.8,423.7 594.4,423.6 594.9,423.6 595.5,423.6 596.0,423.5 596.6,423.5 597.2,423.5 597.7,423.4 598.3,423.4 598.8,423.4 599.4,423.3 599.9,423.3 600.5,423.2 601.0,423.2 601.6,423.2 602.2,423.1 602.7,423.1 603.3,423.1 603.8,423.0 604.4,423.0 604.9,423.0 605.5,422.9 606.0,422.9 606.6,422.9 607.2,422.8 607.7,422.8 608.3,422.8 608.8,422.7 609.4,422.7 609.9,422.7 610.5,422.6 611.0,422.6 611.6,422.6 612.2,422.5 612.7,422.5 613.3,422.5 613.8,422.4 614.4,422.4 614.9,422.4 615.5,422.3 616.0,422.3 616.6,422.3 617.2,422.2 617.7,422.2 618.3,422.2 618.8,422.1 619.4,422.1 619.9,422.1 620.5,422.0 621.0,422.0 621.6,422.0 622.2,421.9 622.7,421.9 623.3,421.9 623.8,421.8 624.4,421.8 624.9,421.8 625.5,421.7 626.0,421.7 626.6,421.7 627.2,421.7 627.7,421.6 628.3,421.6 628.8,421.6 629.4,421.5 629.9,421.5 630.5,421.5 631.0,421.4 631.6,421.4 632.2,421.4 632.7,421.3 633.3,421.3 633.8,421.3 634.4,421.3 634.9,421.2 635.5,421.2 636.0,421.2 636.6,421.1 637.2,421.1 637.7,421.1 638.3,421.1 638.8,421.0 639.4,421.0 639.9,421.0 640.5,420.9 641.0,420.9 641.6,420.9 642.2,420.8 642.7,420.8 643.3,420.8 643.8,420.8 644.4,420.7 644.9,420.7 645.5,420.7 646.0,420.6 646.6,420.6 647.2,420.6 647.7,420.6 648.3,420.5 648.8,420.5 649.4,420.5 649.9,420.5 650.5,420.4 651.0,420.4 651.6,420.4 652.2,420.3 652.7,420.3 653.3,420.3 653.8,420.3 654.4,420.2 654.9,420.2 655.5,420.2 656.0,420.2 656.6,420.1 657.2,420.1 657.7,420.1 658.3,420.1 658.8,420.0 659.4,420.0 659.9,420.0 660.5,419.9 661.0,419.9 661.6,419.9 662.2,419.9 662.7,419.8 663.3,419.8 663.8,419.8 664.4,419.8 664.9,419.7 665.5,419.7 666.0,419.7 666.6,419.7 667.1,419.6 667.7,419.6 668.3,419.6 668.8,419.6 669.4,419.5 669.9,419.5 670.5,419.5 671.0,419.5 671.6,419.4 672.1,419.4 672.7,419.4 673.3,419.4 673.8,419.3 674.4,419.3 674.9,419.3 675.5,419.3 676.0,419.2 676.6,419.2 677.1,419.2 677.7,419.2 678.3,419.1 678.8,419.1 679.4,419.1 679.9,419.1 680.5,419.0 681.0,419.0 681.6,419.0 682.1,419.0 682.7,419.0 683.3,418.9 683.8,418.9 684.4,418.9 684.9,418.9 685.5,418.8 686.0,418.8 686.6,418.8 687.1,418.8 687.7,418.7 688.3,418.7 688.8,418.7 689.4,418.7 689.9,418.7 690.5,418.6 691.0,418.6 691.6,418.6 692.1,418.6 692.7,418.5 693.3,418.5 693.8,418.5 694.4,418.5 694.9,418.5 695.5,418.4 696.0,418.4 696.6,418.4 697.1,418.4 697.7,418.3 698.3,418.3 698.8,418.3 699.4,418.3 699.9,418.3 700.5,418.2 701.0,418.2 701.6,418.2 702.1,418.2 702.7,418.1 703.3,418.1 703.8,418.1 704.4,418.1 704.9,418.1 705.5,418.0 706.0,418.0 706.6,418.0 707.1,418.0 707.7,418.0 708.3,417.9 708.8,417.9 709.4,417.9 709.9,417.9 710.5,417.8 711.0,417.8 711.6,417.8 712.1,417.8 712.7,417.8 713.3,417.7 713.8,417.7 714.4,417.7 714.9,417.7 715.5,417.7 716.0,417.6 716.6,417.6 717.1,417.6 717.7,417.6 718.3,417.6 718.8,417.5 719.4,417.5 719.9,417.5 720.5,417.5 721.0,417.5 721.6,417.4 722.1,417.4 722.7,417.4 723.3,417.4 723.8,417.4 724.4,417.3 724.9,417.3 725.5,417.3 726.0,417.3 726.6,417.3 727.1,417.2 727.7,417.2 728.3,417.2 728.8,417.2 729.4,417.2 729.9,417.1 730.5,417.1 731.0,417.1 731.6,417.1 732.1,417.1 732.7,417.1 733.3,417.0 733.8,417.0 734.4,417.0 734.9,417.0 735.5,417.0 736.0,416.9 736.6,416.9 737.1,416.9 737.7,416.9 738.3,416.9 738.8,416.8 739.4,416.8 739.9,416.8 740.5,416.8 741.0,416.8 741.6,416.8 742.1,416.7 742.7,416.7 743.3,416.7 743.8,416.7 744.4,416.7 744.9,416.6 745.5,416.6 746.0,416.6 746.6,416.6 747.1,416.6 747.7,416.6 748.3,416.5 748.8,416.5 749.4,416.5 749.9,416.5 750.5,416.5 751.0,416.4 751.6,416.4 752.1,416.4 752.7,416.4 753.3,416.4 753.8,416.4 754.4,416.3 754.9,416.3 755.5,416.3 756.0,416.3 756.6,416.3 757.1,416.2 757.7,416.2 758.3,416.2 758.8,416.2 759.4,416.2 759.9,416.2 760.5,416.1 761.0,416.1 761.6,416.1 762.1,416.1 762.7,416.1 763.3,416.1 763.8,416.0 764.4,416.0 764.9,416.0 765.5,416.0 766.0,416.0 766.6,416.0 767.1,415.9 767.7,415.9 768.3,415.9 768.8,415.9 769.4,415.9 769.9,415.9 770.5,415.8 771.0,415.8 771.6,415.8 772.1,415.8 772.7,415.8 773.2,415.8 773.8,415.7 774.4,415.7 774.9,415.7 775.5,415.7 776.0,415.7 776.6,415.7 777.1,415.6 777.7,415.6 778.2,415.6 778.8,415.6 779.4,415.6 779.9,415.6 780.5,415.5 781.0,415.5 781.6,415.5 782.1,415.5 782.7,415.5 783.2,415.5 783.8,415.4 784.4,415.4 784.9,415.4 785.5,415.4 786.0,415.4 786.6,415.4 787.1,415.3 787.7,415.3 788.2,415.3 788.8,415.3 789.4,415.3 789.9,415.3 790.5,415.2 791.0,415.2 791.6,415.2 792.1,415.2 792.7,415.2 793.2,415.2 793.8,415.2 794.4,415.1 794.9,415.1 795.5,415.1 796.0,415.1 796.6,415.1 797.1,415.1 797.7,415.0 798.2,415.0 798.8,415.0 799.4,415.0 799.9,415.0 800.5,415.0 801.0,414.9 801.6,414.9 802.1,414.9 802.7,414.9 803.2,414.9 803.8,414.9 804.4,414.9 804.9,414.8 805.5,414.8 806.0,414.8 806.6,414.8 807.1,414.8 807.7,414.8 808.2,414.7 808.8,414.7 809.4,414.7 809.9,414.7 810.5,414.7 811.0,414.7 811.6,414.7 812.1,414.6 812.7,414.6 813.2,414.6 813.8,414.6 814.4,414.6 814.9,414.6 815.5,414.5 816.0,414.5 816.6,414.5 817.1,414.5 817.7,414.5 818.2,414.5 818.8,414.5 819.4,414.4 819.9,414.4 820.5,414.4 821.0,414.4 821.6,414.4 822.1,414.4 822.7,414.3 823.2,414.3 823.8,414.3 824.4,414.3 824.9,414.3 825.5,414.3 826.0,414.3 826.6,414.2 827.1,414.2 827.7,414.2 828.2,414.2 828.8,414.2 829.4,414.2 829.9,414.1 830.5,414.1 831.0,414.1 831.6,414.1 832.1,414.1 832.7,414.1 833.2,414.1 833.8,414.0 834.4,414.0 834.9,414.0 835.5,414.0 836.0,414.0 836.6,414.0 837.1,414.0 837.7,413.9 838.2,413.9 838.8,413.9 839.4,413.9 839.9,413.9 840.5,413.9 841.0,413.9 841.6,413.8 842.1,413.8 842.7,413.8 843.2,413.8 843.8,413.8 844.4,413.8 844.9,413.7 845.5,413.7 846.0,413.7 846.6,413.7 847.1,413.7 847.7,413.7 848.2,413.7 848.8,413.6 849.4,413.6 849.9,413.6 850.5,413.6 851.0,413.6 851.6,413.6 852.1,413.6 852.7,413.5 853.2,413.5 853.8,413.5 854.4,413.5 854.9,413.5 855.5,413.5 856.0,413.4 856.6,413.4 857.1,413.4 857.7,413.4 858.2,413.4 858.8,413.4 859.4,413.4 859.9,413.3 860.5,413.3 861.0,413.3 861.6,413.3 862.1,413.3 862.7,413.3 863.2,413.3 863.8,413.2 864.4,413.2 864.9,413.2 865.5,413.2 866.0,413.2 866.6,413.2 867.1,413.2 867.7,413.1 868.2,413.1 868.8,413.1 869.4,413.1 869.9,413.1 870.5,413.1 871.0,413.0 871.6,413.0 872.1,413.0 872.7,413.0 873.2,413.0 873.8,413.0 874.4,413.0 874.9,412.9 875.5,412.9 876.0,412.9 876.6,412.9 877.1,412.9 877.7,412.9 878.2,412.9 878.8,412.8 879.4,412.8 879.9,412.8 880.5,412.8 881.0,412.8 881.6,412.8 882.1,412.8 882.7,412.7 883.2,412.7 883.8,412.7 884.4,412.7 884.9,412.7 885.5,412.7 886.0,412.6 886.6,412.6 887.1,412.6 887.7,412.6 888.2,412.6 888.8,412.6 889.3,412.6 889.9,412.5 890.5,412.5 891.0,412.5 891.6,412.5 892.1,412.5 892.7,412.5 893.2,412.4 893.8,412.4 894.3,412.4 894.9,412.4 895.5,412.4 896.0,412.4 896.6,412.4 897.1,412.3 897.7,412.3 898.2,412.3 898.8,412.3 899.3,412.3 899.9,412.3 900.5,412.2 901.0,412.2 901.6,412.2 902.1,412.2 902.7,412.2 903.2,412.2 903.8,412.2 904.3,412.1 904.9,412.1 905.5,412.1 906.0,412.1 906.6,412.1 907.1,412.1 907.7,412.0 908.2,412.0 908.8,412.0 909.3,412.0 909.9,412.0 910.5,412.0 911.0,412.0 911.6,411.9 912.1,411.9 912.7,411.9 913.2,411.9 913.8,411.9 914.3,411.9 914.9,411.8 915.5,411.8 916.0,411.8 916.6,411.8 917.1,411.8 917.7,411.8 918.2,411.7 918.8,411.7 919.3,411.7 919.9,411.7 920.5,411.7 921.0,411.7 921.6,411.7 922.1,411.6 922.7,411.6 923.2,411.6 923.8,411.6 924.3,411.6 924.9,411.6 925.5,411.5 926.0,411.5 926.6,411.5 927.1,411.5 927.7,411.5 928.2,411.5 928.8,411.4 929.3,411.4 929.9,411.4 930.5,411.4 931.0,411.4 931.6,411.4 932.1,411.3 932.7,411.3 933.2,411.3 933.8,411.3 934.3,411.3 934.9,411.3 935.5,411.2 936.0,411.2 936.6,411.2 937.1,411.2 937.7,411.2 938.2,411.2 938.8,411.1 939.3,411.1 939.9,411.1 940.5,411.1 941.0,411.1 941.6,411.1 942.1,411.0 942.7,411.0 943.2,411.0 943.8,411.0 944.3,411.0 944.9,411.0 945.5,410.9 946.0,410.9 946.6,410.9 947.1,410.9 947.7,410.9 948.2,410.9 948.8,410.8 949.3,410.8 949.9,410.8 950.5,410.8 951.0,410.8 951.6,410.7 952.1,410.7 952.7,410.7 953.2,410.7 953.8,410.7 954.3,410.7 954.9,410.6 955.5,410.6 956.0,410.6 956.6,410.6 957.1,410.6 957.7,410.5 958.2,410.5 958.8,410.5 959.3,410.5 959.9,410.5 960.5,410.5 961.0,410.4 961.6,410.4 962.1,410.4 962.7,410.4 963.2,410.4 963.8,410.3 964.3,410.3 964.9,410.3 965.5,410.3 966.0,410.3 966.6,410.3 967.1,410.2 967.7,410.2 968.2,410.2 968.8,410.2 969.3,410.2 969.9,410.1 970.5,410.1 971.0,410.1 971.6,410.1 972.1,410.1 972.7,410.0 973.2,410.0 973.8,410.0 974.3,410.0 974.9,410.0 975.5,409.9 976.0,409.9 976.6,409.9 977.1,409.9 977.7,409.9 978.2,409.8 978.8,409.8 979.3,409.8 979.9,409.8 980.5,409.8 981.0,409.7 981.6,409.7 982.1,409.7 982.7,409.7 983.2,409.7 983.8,409.6 984.3,409.6 984.9,409.6 985.5,409.6 986.0,409.6 986.6,409.5 987.1,409.5 987.7,409.5 988.2,409.5 988.8,409.5 989.3,409.4 989.9,409.4 990.5,409.4 991.0,409.4 991.6,409.4 992.1,409.3 992.7,409.3 993.2,409.3 993.8,409.3 994.3,409.2 994.9,409.2 995.5,409.2 996.0,409.2 996.6,409.2 997.1,409.1 997.7,409.1 998.2,409.1 998.8,409.1 999.3,409.1 999.9,409.0 1000.4,409.0 1001.0,409.0 1001.6,409.0 1002.1,408.9 1002.7,408.9 1003.2,408.9 1003.8,408.9 1004.3,408.9 1004.9,408.8 1005.4,408.8 1006.0,408.8 1006.6,408.8 1007.1,408.7 1007.7,408.7 1008.2,408.7 1008.8,408.7 1009.3,408.6 1009.9,408.6 1010.4,408.6 1011.0,408.6 1011.6,408.5 1012.1,408.5 1012.7,408.5 1013.2,408.5 1013.8,408.5 1014.3,408.4 1014.9,408.4 1015.4,408.4 1016.0,408.4 1016.6,408.3 1017.1,408.3 1017.7,408.3 1018.2,408.3 1018.8,408.2 1019.3,408.2 1019.9,408.2 1020.4,408.2 1021.0,408.1 1021.6,408.1 1022.1,408.1 1022.7,408.1 1023.2,408.0 1023.8,408.0 1024.3,408.0 1024.9,408.0 1025.4,407.9 1026.0,407.9 1026.6,407.9 1027.1,407.9 1027.7,407.8 1028.2,407.8 1028.8,407.8 1029.3,407.7 1029.9,407.7 1030.4,407.7 1031.0,407.7 1031.6,407.6 1032.1,407.6 1032.7,407.6 1033.2,407.6 1033.8,407.5 1034.3,407.5 1034.9,407.5 1035.4,407.5 1036.0,407.4 1036.6,407.4 1037.1,407.4 1037.7,407.3 1038.2,407.3 1038.8,407.3 1039.3,407.3 1039.9,407.2 1040.4,407.2 1041.0,407.2 1041.6,407.1 1042.1,407.1 1042.7,407.1 1043.2,407.1 1043.8,407.0 1044.3,407.0 1044.9,407.0 1045.4,406.9 1046.0,406.9 1046.6,406.9 1047.1,406.8 1047.7,406.8 1048.2,406.8 1048.8,406.8 1049.3,406.7 1049.9,406.7 1050.4,406.7 1051.0,406.6 1051.6,406.6 1052.1,406.6 1052.7,406.5 1053.2,406.5 1053.8,406.5 1054.3,406.5 1054.9,406.4 1055.4,406.4 1056.0,406.4 1056.6,406.3 1057.1,406.3 1057.7,406.3 1058.2,406.2 1058.8,406.2 1059.3,406.2 1059.9,406.1 1060.4,406.1 1061.0,406.1 1061.6,406.0 1062.1,406.0 1062.7,406.0 1063.2,405.9 1063.8,405.9 1064.3,405.9 1064.9,405.8 1065.4,405.8 1066.0,405.8 1066.6,405.7 1067.1,405.7 1067.7,405.7 1068.2,405.6 1068.8,405.6 1069.3,405.6 1069.9,405.5 1070.4,405.5 1071.0,405.4 1071.6,405.4 1072.1,405.4 1072.7,405.3 1073.2,405.3 1073.8,405.3 1074.3,405.2 1074.9,405.2 1075.4,405.2 1076.0,405.1 1076.6,405.1 1077.1,405.0 1077.7,405.0 1078.2,405.0 1078.8,404.9 1079.3,404.9 1079.9,404.9 1080.4,404.8 1081.0,404.8 1081.6,404.7 1082.1,404.7 1082.7,404.7 1083.2,404.6 1083.8,404.6 1084.3,404.6 1084.9,404.5 1085.4,404.5 1086.0,404.4 1086.6,404.4 1087.1,404.4 1087.7,404.3 1088.2,404.3 1088.8,404.2 1089.3,404.2 1089.9,404.1 1090.4,404.1 1091.0,404.1 1091.6,404.0 1092.1,404.0 1092.7,403.9 1093.2,403.9 1093.8,403.9 1094.3,403.8 1094.9,403.8 1095.4,403.7 1096.0,403.7 1096.6,403.6 1097.1,403.6 1097.7,403.6 1098.2,403.5 1098.8,403.5 1099.3,403.4 1099.9,403.4 1100.4,403.3 1101.0,403.3 1101.6,403.2 1102.1,403.2 1102.7,403.2 1103.2,403.1 1103.8,403.1 1104.3,403.0 1104.9,403.0 1105.4,402.9 1106.0,402.9 1106.5,402.8 1107.1,402.8 1107.7,402.7 1108.2,402.7 1108.8,402.6 1109.3,402.6 1109.9,402.5 1110.4,402.5 1111.0,402.4 1111.5,402.4 1112.1,402.3 1112.7,402.3 1113.2,402.2 1113.8,402.2 1114.3,402.2 1114.9,402.1 1115.4,402.0 1116.0,402.0 1116.5,401.9 1117.1,401.9 1117.7,401.8 1118.2,401.8 1118.8,401.7 1119.3,401.7 1119.9,401.6 1120.4,401.6 1121.0,401.5 1121.5,401.5 1122.1,401.4 1122.7,401.4 1123.2,401.3 1123.8,401.3 1124.3,401.2 1124.9,401.2 1125.4,401.1 1126.0,401.0 1126.5,401.0 1127.1,400.9 1127.7,400.9 1128.2,400.8 1128.8,400.8 1129.3,400.7 1129.9,400.7 1130.4,400.6 1131.0,400.5 1131.5,400.5 1132.1,400.4 1132.7,400.4 1133.2,400.3 1133.8,400.3 1134.3,400.2 1134.9,400.1 1135.4,400.1 1136.0,400.0 1136.5,400.0 1137.1,399.9 1137.7,399.8 1138.2,399.8 1138.8,399.7 1139.3,399.7 1139.9,399.6 1140.4,399.5 1141.0,399.5 1141.5,399.4 1142.1,399.4 1142.7,399.3 1143.2,399.2 1143.8,399.2 1144.3,399.1 1144.9,399.0 1145.4,399.0 1146.0,398.9 1146.5,398.8 1147.1,398.8 1147.7,398.7 1148.2,398.6 1148.8,398.6 1149.3,398.5 1149.9,398.5 1150.4,398.4 1151.0,398.3 1151.5,398.3 1152.1,398.2 1152.7,398.1 1153.2,398.1 1153.8,398.0 1154.3,397.9 1154.9,397.8 1155.4,397.8 1156.0,397.7 1156.5,397.6 1157.1,397.6 1157.7,397.5 1158.2,397.4 1158.8,397.4 1159.3,397.3 1159.9,397.2 1160.4,397.1 1161.0,397.1 1161.5,397.0 1162.1,396.9 1162.7,396.9 1163.2,396.8 1163.8,396.7 1164.3,396.6 1164.9,396.6 1165.4,396.5 1166.0,396.4 1166.5,396.3 1167.1,396.3 1167.7,396.2 1168.2,396.1 1168.8,396.0 1169.3,396.0 1169.9,395.9 1170.4,395.8 1171.0,395.7 1171.5,395.7 1172.1,395.6 1172.7,395.5 1173.2,395.4 1173.8,395.4 1174.3,395.3 1174.9,395.2 1175.4,395.1 1176.0,395.1 1176.5,395.0 1177.1,394.9 1177.7,394.8 1178.2,394.7 1178.8,394.7 1179.3,394.6 1179.9,394.5 1180.4,394.4 1181.0,394.3 1181.5,394.3 1182.1,394.2 1182.7,394.1 1183.2,394.0 1183.8,393.9 1184.3,393.9 1184.9,393.8 1185.4,393.7 1186.0,393.6 1186.5,393.5 1187.1,393.4 1187.7,393.4 1188.2,393.3 1188.8,393.2 1189.3,393.1 1189.9,393.0 1190.4,393.0 1191.0,392.9 1191.5,392.8 1192.1,392.7 1192.7,392.6 1193.2,392.5 1193.8,392.5 1194.3,392.4 1194.9,392.3 1195.4,392.2 1196.0,392.1 1196.5,392.0 1197.1,392.0 1197.7,391.9 1198.2,391.8 1198.8,391.7 1199.3,391.6 1199.9,391.5 1200.4,391.5 1201.0,391.4 1201.5,391.3 1202.1,391.2 1202.7,391.1 1203.2,391.0 1203.8,391.0 1204.3,390.9 1204.9,390.8 1205.4,390.7 1206.0,390.6 1206.5,390.5 1207.1,390.5 1207.7,390.4 1208.2,390.3 1208.8,390.2 1209.3,390.1 1209.9,390.1 1210.4,390.0 1211.0,389.9 1211.5,389.8 1212.1,389.7 1212.7,389.7 1213.2,389.6 1213.8,389.5 1214.3,389.4 1214.9,389.3 1215.4,389.3 1216.0,389.2 1216.5,389.1 1217.1,389.0 1217.7,389.0 1218.2,388.9 1218.8,388.8 1219.3,388.8 1219.9,388.7 1220.4,388.6 1221.0,388.5 1221.5,388.5 1222.1,388.4 1222.6,388.3 1223.2,388.3 1223.8,388.2 1224.3,388.1 1224.9,388.1 1225.4,388.0 1226.0,387.9 1226.5,387.9 1227.1,387.8 1227.6,387.8 1228.2,387.7 1228.8,387.6 1229.3,387.6 1229.9,387.5 1230.4,387.5 1231.0,387.4 1231.5,387.4 1232.1,387.3 1232.6,387.3 1233.2,387.2 1233.8,387.2 1234.3,387.2 1234.9,387.1 1235.4,387.1 1236.0,387.0 1236.5,387.0 1237.1,387.0 1237.6,386.9 1238.2,386.9 1238.8,386.9 1239.3,386.9 1239.9,386.8 1240.4,386.8 1241.0,386.8 1241.5,386.8 1242.1,386.8 1242.6,386.8 1243.2,386.8 1243.8,386.8 1244.3,386.8 1244.9,386.8 1245.4,386.8 1246.0,386.8 1246.5,386.8 1247.1,386.8 1247.6,386.8 1248.2,386.8 1248.8,386.9 1249.3,386.9 1249.9,386.9 1250.4,387.0 1251.0,387.0 1251.5,387.0 1252.1,387.1 1252.6,387.1 1253.2,387.2 1253.8,387.3 1254.3,387.3 1254.9,387.4 1255.4,387.5 1256.0,387.5 1256.5,387.6 1257.1,387.7 1257.6,387.8 1258.2,387.9 1258.8,388.0 1259.3,388.1 1259.9,388.3 1260.4,388.4 1261.0,388.5 1261.5,388.6 1262.1,388.8 1262.6,388.9 1263.2,389.1 1263.8,389.3 1264.3,389.4 1264.9,389.6 1265.4,389.8 1266.0,390.0 1266.5,390.2 1267.1,390.4 1267.6,390.6 1268.2,390.9 1268.8,391.1 1269.3,391.3 1269.9,391.6 1270.4,391.9 1271.0,392.1 1271.5,392.4 1272.1,392.7 1272.6,393.0 1273.2,393.3 1273.8,393.7 1274.3,394.0 1274.9,394.3 1275.4,394.7 1276.0,395.1 1276.5,395.4 1277.1,395.8 1277.6,396.3 1278.2,396.7 1278.8,397.1 1279.3,397.6 1279.9,398.0 1280.4,398.5 1281.0,399.0 1281.5,399.5 1282.1,400.0 1282.6,400.5 1283.2,401.1 1283.8,401.7 1284.3,402.2 1284.9,402.8 1285.4,403.5 1286.0,404.1 1286.5,404.7 1287.1,405.4 1287.6,406.1 1288.2,406.8 1288.8,407.5 1289.3,408.3 1289.9,409.1 1290.4,409.8 1291.0,410.7 1291.5,411.5 1292.1,412.3 1292.6,413.2 1293.2,414.1 1293.8,415.0 1294.3,416.0 1294.9,416.9 1295.4,417.9 1296.0,418.9 1296.5,420.0 1297.1,421.1 1297.6,422.1 1298.2,423.3 1298.8,424.4 1299.3,425.6 1299.9,426.8 1300.4,428.0 1301.0,429.3 1301.5,430.6 1302.1,431.9 1302.6,433.2 1303.2,434.6 1303.8,436.0 1304.3,437.5 1304.9,438.9 1305.4,440.5 1306.0,442.0 1306.5,443.6 1307.1,445.2 1307.6,446.8 1308.2,448.5 1308.8,450.2 1309.3,452.0 1309.9,453.8 1310.4,455.6 1311.0,457.4 1311.5,459.3 1312.1,461.3 1312.6,463.2 1313.2,465.2 1313.8,467.3 1314.3,469.4 1314.9,471.5 1315.4,473.7 1316.0,475.9 1316.5,478.1 1317.1,480.4 1317.6,482.8 1318.2,485.1 1318.8,487.5 1319.3,490.0 1319.9,492.5 1320.4,495.0 1321.0,497.6 1321.5,500.2 1322.1,502.9 1322.6,505.6 1323.2,508.3 1323.8,511.1 1324.3,513.9 1324.9,516.8 1325.4,519.7 1326.0,522.6 1326.5,525.6 1327.1,528.6 1327.6,531.6 1328.2,534.7 1328.8,537.9 1329.3,541.0 1329.9,544.2 1330.4,547.4 1331.0,550.7 1331.5,554.0 1332.1,557.3 1332.6,560.7 1333.2,564.1 1333.7,567.5 1334.3,570.9 1334.9,574.4 1335.4,577.8 1336.0,581.3 1336.5,584.9 1337.1,588.4 1337.6,591.9 1338.2,595.5 1338.7,599.1 1339.3,602.6 1339.9,606.2 1340.4,609.8 1341.0,613.4 1341.5,616.9 1342.1,620.5 1342.6,624.1 1343.2,627.6 1343.7,631.2 1344.3,634.7 1344.9,638.2 1345.4,641.6 1346.0,645.1 1346.5,648.5 1347.1,651.9 1347.6,655.2 1348.2,658.5 1348.7,661.7 1349.3,664.9 1349.9,668.0 1350.4,671.1 1351.0,674.1 1351.5,677.0 1352.1,679.8 1352.6,682.6 1353.2,685.3 1353.7,687.9 1354.3,690.4 1354.9,692.8 1355.4,695.1 1356.0,697.3 1356.5,699.4 1357.1,701.3 1357.6,703.2 1358.2,704.9 1358.7,706.5 1359.3,707.9 1359.9,709.3 1360.4,710.4 1361.0,711.5 1361.5,712.4 1362.1,713.1 1362.6,713.6 1363.2,714.0 1363.7,714.3 1364.3,714.4 1364.9,714.3 1365.4,714.0 1366.0,713.5 1366.5,712.9 1367.1,712.1 1367.6,711.1 1368.2,709.9 1368.7,708.6 1369.3,707.0 1369.9,705.3 1370.4,703.4 1371.0,701.3 1371.5,699.0 1372.1,696.5 1372.6,693.8 1373.2,691.0 1373.7,688.0 1374.3,684.8 1374.9,681.4 1375.4,677.8 1376.0,674.1 1376.5,670.2 1377.1,666.1 1377.6,661.8 1378.2,657.5 1378.7,652.9 1379.3,648.2 1379.9,643.4 1380.4,638.4 1381.0,633.3 1381.5,628.0 1382.1,622.7 1382.6,617.2 1383.2,611.6 1383.7,605.9 1384.3,600.1 1384.9,594.2 1385.4,588.2 1386.0,582.2 1386.5,576.1 1387.1,569.9 1387.6,563.7 1388.2,557.4 1388.7,551.1 1389.3,544.8 1389.9,538.4 1390.4,532.1 1391.0,525.7 1391.5,519.3 1392.1,512.9 1392.6,506.5 1393.2,500.2 1393.7,493.9 1394.3,487.6 1394.9,481.3 1395.4,475.1 1396.0,469.0 1396.5,462.9 1397.1,456.9 1397.6,450.9 1398.2,445.0 1398.7,439.2 1399.3,433.5 1399.9,427.9 1400.4,422.3 1401.0,416.9 1401.5,411.6 1402.1,406.4 1402.6,401.3 1403.2,396.3 1403.7,391.4 1404.3,386.6 1404.9,382.0 1405.4,377.5 1406.0,373.1 1406.5,368.9 1407.1,364.7 1407.6,360.7 1408.2,356.9 1408.7,353.1 1409.3,349.5 1409.9,346.1 1410.4,342.7 1411.0,339.5 1411.5,336.5 1412.1,333.5 1412.6,330.7 1413.2,328.1 1413.7,325.5 1414.3,323.1 1414.9,320.8 1415.4,318.7 1416.0,316.7 1416.5,314.8 1417.1,313.0 1417.6,311.3 1418.2,309.8 1418.7,308.3 1419.3,307.0 1419.9,305.8 1420.4,304.7 1421.0,303.7 1421.5,302.8 1422.1,302.1 1422.6,301.4 1423.2,300.8 1423.7,300.3 1424.3,299.9 1424.9,299.6 1425.4,299.4 1426.0,299.2 1426.5,299.2 1427.1,299.2 1427.6,299.3 1428.2,299.4 1428.7,299.7 1429.3,300.0 1429.9,300.4 1430.4,300.8 1431.0,301.3 1431.5,301.8 1432.1,302.4 1432.6,303.1 1433.2,303.8 1433.7,304.6 1434.3,305.4 1434.9,306.2 1435.4,307.1 1436.0,308.1 1436.5,309.0 1437.1,310.0 1437.6,311.1 1438.2,312.1 1438.7,313.2 1439.3,314.4 1439.8,315.5 1440.4,316.7 1441.0,317.9 1441.5,319.1 1442.1,320.4 1442.6,321.6 1443.2,322.9 1443.7,324.2 1444.3,325.5 1444.8,326.8 1445.4,328.1 1446.0,329.4 1446.5,330.8 1447.1,332.1 1447.6,333.5 1448.2,334.8 1448.7,336.2 1449.3,337.5 1449.8,338.9 1450.4,340.2 1451.0,341.6 1451.5,343.0 1452.1,344.3 1452.6,345.7 1453.2,347.0 1453.7,348.4 1454.3,349.7 1454.8,351.0 1455.4,352.4 1456.0,353.7 1456.5,355.0 1457.1,356.3 1457.6,357.6 1458.2,358.9 1458.7,360.2 1459.3,361.4 1459.8,362.7 1460.4,363.9 1461.0,365.2 1461.5,366.4 1462.1,367.6 1462.6,368.8 1463.2,370.0 1463.7,371.2 1464.3,372.3 1464.8,373.5 1465.4,374.6 1466.0,375.8 1466.5,376.9 1467.1,378.0 1467.6,379.1 1468.2,380.1 1468.7,381.2 1469.3,382.3 1469.8,383.3 1470.4,384.3 1471.0,385.3 1471.5,386.3 1472.1,387.3 1472.6,388.3 1473.2,389.2 1473.7,390.2 1474.3,391.1 1474.8,392.0 1475.4,392.9 1476.0,393.8 1476.5,394.7 1477.1,395.5 1477.6,396.4 1478.2,397.2 1478.7,398.0 1479.3,398.8 1479.8,399.6 1480.4,400.4 1481.0,401.2 1481.5,401.9 1482.1,402.7 1482.6,403.4 1483.2,404.1 1483.7,404.8 1484.3,405.5 1484.8,406.2 1485.4,406.9 1486.0,407.5 1486.5,408.2 1487.1,408.8 1487.6,409.4 1488.2,410.0 1488.7,410.6 1489.3,411.2 1489.8,411.8 1490.4,412.4 1491.0,412.9 1491.5,413.5 1492.1,414.0 1492.6,414.6 1493.2,415.1 1493.7,415.6 1494.3,416.1 1494.8,416.6 1495.4,417.0 1496.0,417.5 1496.5,418.0 1497.1,418.4 1497.6,418.9 1498.2,419.3 1498.7,419.7 1499.3,420.1 1499.8,420.5 1500.4,420.9 1501.0,421.3 1501.5,421.7 1502.1,422.1 1502.6,422.5 1503.2,422.8 1503.7,423.2 1504.3,423.5 1504.8,423.8 1505.4,424.2 1506.0,424.5 1506.5,424.8 1507.1,425.1 1507.6,425.4 1508.2,425.7 1508.7,426.0 1509.3,426.3 1509.8,426.5 1510.4,426.8 1511.0,427.1 1511.5,427.3 1512.1,427.6 1512.6,427.8 1513.2,428.1 1513.7,428.3 1514.3,428.5 1514.8,428.7 1515.4,428.9 1516.0,429.2 1516.5,429.4 1517.1,429.6 1517.6,429.8 1518.2,429.9 1518.7,430.1 1519.3,430.3 1519.8,430.5 1520.4,430.7 1521.0,430.8 1521.5,431.0 1522.1,431.1 1522.6,431.3 1523.2,431.4 1523.7,431.6 1524.3,431.7 1524.8,431.9 1525.4,432.0 1526.0,432.1 1526.5,432.2 1527.1,432.4 1527.6,432.5 1528.2,432.6 1528.7,432.7 1529.3,432.8 1529.8,432.9 1530.4,433.0 1531.0,433.1 1531.5,433.2 1532.1,433.3 1532.6,433.4 1533.2,433.5 1533.7,433.5 1534.3,433.6 1534.8,433.7 1535.4,433.8 1536.0,433.8 1536.5,433.9 1537.1,434.0 1537.6,434.0 1538.2,434.1 1538.7,434.1 1539.3,434.2 1539.8,434.2 1540.4,434.3 1541.0,434.3 1541.5,434.4 1542.1,434.4 1542.6,434.5 1543.2,434.5 1543.7,434.5 1544.3,434.6 1544.8,434.6 1545.4,434.6 1546.0,434.7 1546.5,434.7 1547.1,434.7 1547.6,434.7 1548.2,434.8 1548.7,434.8 1549.3,434.8 1549.8,434.8 1550.4,434.8 1551.0,434.8 1551.5,434.9 1552.1,434.9 1552.6,434.9 1553.2,434.9 1553.7,434.9 1554.3,434.9 1554.8,434.9 1555.4,434.9 1555.9,434.9 1556.5,434.9 1557.1,434.9 1557.6,434.9 1558.2,434.9 1558.7,434.9 1559.3,434.9 1559.8,434.8 1560.4,434.8 1560.9,434.8 1561.5,434.8 1562.1,434.8 1562.6,434.8 1563.2,434.8 1563.7,434.7 1564.3,434.7 1564.8,434.7 1565.4,434.7 1565.9,434.7 1566.5,434.7 1567.1,434.6 1567.6,434.6 1568.2,434.6 1568.7,434.6 1569.3,434.5 1569.8,434.5 1570.4,434.5 1570.9,434.5 1571.5,434.4 1572.1,434.4 1572.6,434.4 1573.2,434.3 1573.7,434.3 1574.3,434.3 1574.8,434.2 1575.4,434.2 1575.9,434.2 1576.5,434.1 1577.1,434.1 1577.6,434.1 1578.2,434.0 1578.7,434.0 1579.3,434.0 1579.8,433.9 1580.4,433.9 1580.9,433.8 1581.5,433.8 1582.1,433.8 1582.6,433.7 1583.2,433.7 1583.7,433.6 1584.3,433.6 1584.8,433.6 1585.4,433.5 1585.9,433.5 1586.5,433.4 1587.1,433.4 1587.6,433.4 1588.2,433.3 1588.7,433.3 1589.3,433.2 1589.8,433.2 1590.4,433.1 1590.9,433.1 1591.5,433.0 1592.1,433.0 1592.6,433.0 1593.2,432.9 1593.7,432.9 1594.3,432.8 1594.8,432.8 1595.4,432.7 1595.9,432.7 1596.5,432.6 1597.1,432.6 1597.6,432.5 1598.2,432.5 1598.7,432.4 1599.3,432.4 1599.8,432.3 1600.4,432.3 1600.9,432.2 1601.5,432.2 1602.1,432.1 1602.6,432.1 1603.2,432.0 1603.7,432.0 1604.3,432.0 1604.8,431.9 1605.4,431.9 1605.9,431.8 1606.5,431.8 1607.1,431.7 1607.6,431.7 1608.2,431.6 1608.7,431.6 1609.3,431.5 1609.8,431.5 1610.4,431.4 1610.9,431.4 1611.5,431.3 1612.1,431.3 1612.6,431.2 1613.2,431.1 1613.7,431.1 1614.3,431.0 1614.8,431.0 1615.4,430.9 1615.9,430.9 1616.5,430.8 1617.1,430.8 1617.6,430.7 1618.2,430.7 1618.7,430.6 1619.3,430.6 1619.8,430.5 1620.4,430.5 1620.9,430.4 1621.5,430.4 1622.1,430.3 1622.6,430.3 1623.2,430.2 1623.7,430.2 1624.3,430.1 1624.8,430.1 1625.4,430.0 1625.9,430.0 1626.5,429.9 1627.1,429.9 1627.6,429.8 1628.2,429.8 1628.7,429.7 1629.3,429.7 1629.8,429.6 1630.4,429.6 1630.9,429.5 1631.5,429.5 1632.1,429.4 1632.6,429.4 1633.2,429.3 1633.7,429.3 1634.3,429.2 1634.8,429.2 1635.4,429.1 1635.9,429.1 1636.5,429.0 1637.1,429.0 1637.6,428.9 1638.2,428.9 1638.7,428.8 1639.3,428.8 1639.8,428.7 1640.4,428.7 1640.9,428.6 1641.5,428.6 1642.1,428.5 1642.6,428.5 1643.2,428.4 1643.7,428.4 1644.3,428.3 1644.8,428.3 1645.4,428.2 1645.9,428.2 1646.5,428.2 1647.1,428.1 1647.6,428.1 1648.2,428.0 1648.7,428.0 1649.3,427.9 1649.8,427.9 1650.4,427.8 1650.9,427.8 1651.5,427.7 1652.1,427.7 1652.6,427.6 1653.2,427.6 1653.7,427.5 1654.3,427.5 1654.8,427.4 1655.4,427.4 1655.9,427.3 1656.5,427.3 1657.1,427.3 1657.6,427.2 1658.2,427.2 1658.7,427.1 1659.3,427.1 1659.8,427.0 1660.4,427.0 1660.9,426.9 1661.5,426.9 1662.0,426.8 1662.6,426.8 1663.2,426.8 1663.7,426.7 1664.3,426.7 1664.8,426.6 1665.4,426.6 1665.9,426.5 1666.5,426.5 1667.0,426.4 1667.6,426.4 1668.2,426.4 1668.7,426.3 1669.3,426.3 1669.8,426.2 1670.4,426.2 1670.9,426.1 1671.5,426.1 1672.0,426.0 1672.6,426.0 1673.2,426.0 1673.7,425.9 1674.3,425.9 1674.8,425.8 1675.4,425.8 1675.9,425.7 1676.5,425.7 1677.0,425.7 1677.6,425.6 1678.2,425.6 1678.7,425.5 1679.3,425.5 1679.8,425.4 1680.4,425.4 1680.9,425.4 1681.5,425.3 1682.0,425.3 1682.6,425.2 1683.2,425.2 1683.7,425.2 1684.3,425.1 1684.8,425.1 1685.4,425.0 1685.9,425.0 1686.5,425.0 1687.0,424.9 1687.6,424.9 1688.2,424.8 1688.7,424.8 1689.3,424.8 1689.8,424.7 1690.4,424.7 1690.9,424.6 1691.5,424.6 1692.0,424.6 1692.6,424.5 1693.2,424.5 1693.7,424.4 1694.3,424.4 1694.8,424.4 1695.4,424.3 1695.9,424.3 1696.5,424.2 1697.0,424.2 1697.6,424.2 1698.2,424.1 1698.7,424.1 1699.3,424.1 1699.8,424.0 1700.4,424.0 1700.9,423.9 1701.5,423.9 1702.0,423.9 1702.6,423.8 1703.2,423.8 1703.7,423.8 1704.3,423.7 1704.8,423.7 1705.4,423.6 1705.9,423.6 1706.5,423.6 1707.0,423.5 1707.6,423.5 1708.2,423.5 1708.7,423.4 1709.3,423.4 1709.8,423.4 1710.4,423.3 1710.9,423.3 1711.5,423.2 1712.0,423.2 1712.6,423.2 1713.2,423.1 1713.7,423.1 1714.3,423.1 1714.8,423.0 1715.4,423.0 1715.9,423.0 1716.5,422.9 1717.0,422.9 1717.6,422.9 1718.2,422.8 1718.7,422.8 1719.3,422.8 1719.8,422.7 1720.4,422.7 1720.9,422.7 1721.5,422.6 1722.0,422.6 1722.6,422.6 1723.2,422.5 1723.7,422.5 1724.3,422.5 1724.8,422.4 1725.4,422.4 1725.9,422.4 1726.5,422.3 1727.0,422.3 1727.6,422.3 1728.2,422.2 1728.7,422.2 1729.3,422.2 1729.8,422.1 1730.4,422.1 1730.9,422.1 1731.5,422.0 1732.0,422.0 1732.6,422.0 1733.2,421.9 1733.7,421.9 1734.3,421.9 1734.8,421.8 1735.4,421.8 1735.9,421.8 1736.5,421.7 1737.0,421.7 1737.6,421.7 1738.2,421.7 1738.7,421.6 1739.3,421.6 1739.8,421.6 1740.4,421.5 1740.9,421.5 1741.5,421.5 1742.0,421.4 1742.6,421.4 1743.2,421.4 1743.7,421.3 1744.3,421.3 1744.8,421.3 1745.4,421.3 1745.9,421.2 1746.5,421.2 1747.0,421.2 1747.6,421.1 1748.2,421.1 1748.7,421.1 1749.3,421.1 1749.8,421.0 1750.4,421.0 1750.9,421.0 1751.5,420.9 1752.0,420.9 1752.6,420.9 1753.2,420.8 1753.7,420.8 1754.3,420.8 1754.8,420.8 1755.4,420.7 1755.9,420.7 1756.5,420.7 1757.0,420.6 1757.6,420.6 1758.2,420.6 1758.7,420.6 1759.3,420.5 1759.8,420.5 1760.4,420.5 1760.9,420.5 1761.5,420.4 1762.0,420.4 1762.6,420.4 1763.2,420.3 1763.7,420.3 1764.3,420.3 1764.8,420.3 1765.4,420.2 1765.9,420.2 1766.5,420.2 1767.0,420.2 1767.6,420.1 1768.2,420.1 1768.7,420.1 1769.3,420.1 1769.8,420.0 1770.4,420.0 1770.9,420.0 1771.5,419.9 1772.0,419.9 1772.6,419.9 1773.2,419.9 1773.7,419.8 1774.3,419.8 1774.8,419.8 1775.4,419.8 1775.9,419.7 1776.5,419.7 1777.0,419.7 1777.6,419.7 1778.1,419.6 1778.7,419.6 1779.3,419.6 1779.8,419.6 1780.4,419.5 1780.9,419.5 1781.5,419.5 1782.0,419.5 1782.6,419.4 1783.1,419.4 1783.7,419.4 1784.3,419.4 1784.8,419.3 1785.4,419.3 1785.9,419.3 1786.5,419.3 1787.0,419.2 1787.6,419.2 1788.1,419.2 1788.7,419.2 1789.3,419.1 1789.8,419.1 1790.4,419.1 1790.9,419.1 1791.5,419.0 1792.0,419.0 1792.6,419.0 1793.1,419.0 1793.7,419.0 1794.3,418.9 1794.8,418.9 1795.4,418.9 1795.9,418.9 1796.5,418.8 1797.0,418.8 1797.6,418.8 1798.1,418.8 1798.7,418.7 1799.3,418.7 1799.8,418.7 1800.4,418.7 1800.9,418.7 1801.5,418.6 1802.0,418.6 1802.6,418.6 1803.1,418.6 1803.7,418.5 1804.3,418.5 1804.8,418.5 1805.4,418.5 1805.9,418.5 1806.5,418.4 1807.0,418.4 1807.6,418.4 1808.1,418.4 1808.7,418.3 1809.3,418.3 1809.8,418.3 1810.4,418.3 1810.9,418.3 1811.5,418.2 1812.0,418.2 1812.6,418.2 1813.1,418.2 1813.7,418.1 1814.3,418.1 1814.8,418.1 1815.4,418.1 1815.9,418.1 1816.5,418.0 1817.0,418.0 1817.6,418.0 1818.1,418.0 1818.7,418.0 1819.3,417.9 1819.8,417.9 1820.4,417.9 1820.9,417.9 1821.5,417.8 1822.0,417.8 1822.6,417.8 1823.1,417.8 1823.7,417.8 1824.3,417.7 1824.8,417.7 1825.4,417.7 1825.9,417.7 1826.5,417.7 1827.0,417.6 1827.6,417.6 1828.1,417.6 1828.7,417.6 1829.3,417.6 1829.8,417.5 1830.4,417.5 1830.9,417.5 1831.5,417.5 1832.0,417.5 1832.6,417.4 1833.1,417.4 1833.7,417.4 1834.3,417.4 1834.8,417.4 1835.4,417.3 1835.9,417.3 1836.5,417.3 1837.0,417.3 1837.6,417.3 1838.1,417.2 1838.7,417.2 1839.3,417.2 1839.8,417.2 1840.4,417.2 1840.9,417.1 1841.5,417.1 1842.0,417.1 1842.6,417.1 1843.1,417.1 1843.7,417.1 1844.3,417.0 1844.8,417.0 1845.4,417.0 1845.9,417.0 1846.5,417.0 1847.0,416.9 1847.6,416.9 1848.1,416.9 1848.7,416.9 1849.3,416.9 1849.8,416.8 1850.4,416.8 1850.9,416.8 1851.5,416.8 1852.0,416.8 1852.6,416.8 1853.1,416.7 1853.7,416.7 1854.3,416.7 1854.8,416.7 1855.4,416.7 1855.9,416.6 1856.5,416.6 1857.0,416.6 1857.6,416.6 1858.1,416.6 1858.7,416.6 1859.3,416.5 1859.8,416.5 1860.4,416.5 1860.9,416.5 1861.5,416.5 1862.0,416.4 1862.6,416.4 1863.1,416.4 1863.7,416.4 1864.3,416.4 1864.8,416.4 1865.4,416.3 1865.9,416.3 1866.5,416.3 1867.0,416.3 1867.6,416.3 1868.1,416.2 1868.7,416.2 1869.3,416.2 1869.8,416.2 1870.4,416.2 1870.9,416.2 1871.5,416.1 1872.0,416.1 1872.6,416.1 1873.1,416.1 1873.7,416.1 1874.3,416.1 1874.8,416.0 1875.4,416.0 1875.9,416.0 1876.5,416.0 1877.0,416.0 1877.6,416.0 1878.1,415.9 1878.7,415.9 1879.3,415.9 1879.8,415.9 1880.4,415.9 1880.9,415.9 1881.5,415.8 1882.0,415.8 1882.6,415.8 1883.1,415.8 1883.7,415.8 1884.2,415.8 1884.8,415.7 1885.4,415.7 1885.9,415.7 1886.5,415.7 1887.0,415.7 1887.6,415.7 1888.1,415.6 1888.7,415.6 1889.2,415.6 1889.8,415.6 1890.4,415.6 1890.9,415.6 1891.5,415.5 1892.0,415.5 1892.6,415.5 1893.1,415.5 1893.7,415.5 1894.2,415.5 1894.8,415.4 1895.4,415.4 1895.9,415.4 1896.5,415.4 1897.0,415.4 1897.6,415.4 1898.1,415.3 1898.7,415.3 1899.2,415.3 1899.8,415.3 1900.4,415.3 1900.9,415.3 1901.5,415.2 1902.0,415.2 1902.6,415.2 1903.1,415.2 1903.7,415.2 1904.2,415.2 1904.8,415.2 1905.4,415.1 1905.9,415.1 1906.5,415.1 1907.0,415.1 1907.6,415.1 1908.1,415.1 1908.7,415.0 1909.2,415.0 1909.8,415.0 1910.4,415.0 1910.9,415.0 1911.5,415.0 1912.0,414.9 1912.6,414.9 1913.1,414.9 1913.7,414.9 1914.2,414.9 1914.8,414.9 1915.4,414.9 1915.9,414.8 1916.5,414.8 1917.0,414.8 1917.6,414.8 1918.1,414.8 1918.7,414.8 1919.2,414.7 1919.8,414.7 1920.4,414.7 1920.9,414.7 1921.5,414.7 1922.0,414.7 1922.6,414.7 1923.1,414.6 1923.7,414.6 1924.2,414.6 1924.8,414.6 1925.4,414.6 1925.9,414.6 1926.5,414.5 1927.0,414.5 1927.6,414.5 1928.1,414.5 1928.7,414.5 1929.2,414.5 1929.8,414.5 1930.4,414.4 1930.9,414.4 1931.5,414.4 1932.0,414.4 1932.6,414.4 1933.1,414.4 1933.7,414.3 1934.2,414.3 1934.8,414.3 1935.4,414.3 1935.9,414.3 1936.5,414.3 1937.0,414.3 1937.6,414.2 1938.1,414.2 1938.7,414.2 1939.2,414.2 1939.8,414.2 1940.4,414.2 1940.9,414.1 1941.5,414.1 1942.0,414.1 1942.6,414.1 1943.1,414.1 1943.7,414.1 1944.2,414.1 1944.8,414.0 1945.4,414.0 1945.9,414.0 1946.5,414.0 1947.0,414.0 1947.6,414.0 1948.1,414.0 1948.7,413.9 1949.2,413.9 1949.8,413.9 1950.4,413.9 1950.9,413.9 1951.5,413.9 1952.0,413.9 1952.6,413.8 1953.1,413.8 1953.7,413.8 1954.2,413.8 1954.8,413.8 1955.4,413.8 1955.9,413.7 1956.5,413.7 1957.0,413.7 1957.6,413.7 1958.1,413.7 1958.7,413.7 1959.2,413.7 1959.8,413.6 1960.4,413.6 1960.9,413.6 1961.5,413.6 1962.0,413.6 1962.6,413.6 1963.1,413.6 1963.7,413.5 1964.2,413.5 1964.8,413.5 1965.4,413.5 1965.9,413.5 1966.5,413.5 1967.0,413.4 1967.6,413.4 1968.1,413.4 1968.7,413.4 1969.2,413.4 1969.8,413.4 1970.4,413.4 1970.9,413.3 1971.5,413.3 1972.0,413.3 1972.6,413.3 1973.1,413.3 1973.7,413.3 1974.2,413.3 1974.8,413.2 1975.4,413.2 1975.9,413.2 1976.5,413.2 1977.0,413.2 1977.6,413.2 1978.1,413.2 1978.7,413.1 1979.2,413.1 1979.8,413.1 1980.4,413.1 1980.9,413.1 1981.5,413.1 1982.0,413.0 1982.6,413.0 1983.1,413.0 1983.7,413.0 1984.2,413.0 1984.8,413.0 1985.4,413.0 1985.9,412.9 1986.5,412.9 1987.0,412.9 1987.6,412.9 1988.1,412.9 1988.7,412.9 1989.2,412.9 1989.8,412.8 1990.4,412.8 1990.9,412.8 1991.5,412.8 1992.0,412.8 1992.6,412.8 1993.1,412.8 1993.7,412.7 1994.2,412.7 1994.8,412.7 1995.3,412.7 1995.9,412.7 1996.5,412.7 1997.0,412.6 1997.6,412.6 1998.1,412.6 1998.7,412.6 1999.2,412.6 1999.8,412.6 2000.3,412.6 2000.9,412.5 2001.5,412.5 2002.0,412.5 2002.6,412.5 2003.1,412.5 2003.7,412.5 2004.2,412.4 2004.8,412.4 2005.3,412.4 2005.9,412.4 2006.5,412.4 2007.0,412.4 2007.6,412.4 2008.1,412.3 2008.7,412.3 2009.2,412.3 2009.8,412.3 2010.3,412.3 2010.9,412.3 2011.5,412.2 2012.0,412.2 2012.6,412.2 2013.1,412.2 2013.7,412.2 2014.2,412.2 2014.8,412.2 2015.3,412.1 2015.9,412.1 2016.5,412.1 2017.0,412.1 2017.6,412.1 2018.1,412.1 2018.7,412.0 2019.2,412.0 2019.8,412.0 2020.3,412.0 2020.9,412.0 2021.5,412.0 2022.0,412.0 2022.6,411.9 2023.1,411.9 2023.7,411.9 2024.2,411.9 2024.8,411.9 2025.3,411.9 2025.9,411.8 2026.5,411.8 2027.0,411.8 2027.6,411.8 2028.1,411.8 2028.7,411.8 2029.2,411.7 2029.8,411.7 2030.3,411.7 2030.9,411.7 2031.5,411.7 2032.0,411.7 2032.6,411.7 2033.1,411.6 2033.7,411.6 2034.2,411.6 2034.8,411.6 2035.3,411.6 2035.9,411.6 2036.5,411.5 2037.0,411.5 2037.6,411.5 2038.1,411.5 2038.7,411.5 2039.2,411.5 2039.8,411.4 2040.3,411.4 2040.9,411.4 2041.5,411.4 2042.0,411.4 2042.6,411.4 2043.1,411.3 2043.7,411.3 2044.2,411.3 2044.8,411.3 2045.3,411.3 2045.9,411.3 2046.5,411.2 2047.0,411.2 2047.6,411.2 2048.1,411.2 2048.7,411.2 2049.2,411.2 2049.8,411.1 2050.3,411.1 2050.9,411.1 2051.5,411.1 2052.0,411.1 2052.6,411.1 2053.1,411.0 2053.7,411.0 2054.2,411.0 2054.8,411.0 2055.3,411.0 2055.9,411.0 2056.5,410.9 2057.0,410.9 2057.6,410.9 2058.1,410.9 2058.7,410.9 2059.2,410.9 2059.8,410.8 2060.3,410.8 2060.9,410.8 2061.5,410.8 2062.0,410.8 2062.6,410.7 2063.1,410.7 2063.7,410.7 2064.2,410.7 2064.8,410.7 2065.3,410.7 2065.9,410.6 2066.5,410.6 2067.0,410.6 2067.6,410.6 2068.1,410.6 2068.7,410.5 2069.2,410.5 2069.8,410.5 2070.3,410.5 2070.9,410.5 2071.5,410.5 2072.0,410.4 2072.6,410.4 2073.1,410.4 2073.7,410.4 2074.2,410.4 2074.8,410.3 2075.3,410.3 2075.9,410.3 2076.5,410.3 2077.0,410.3 2077.6,410.3 2078.1,410.2 2078.7,410.2 2079.2,410.2 2079.8,410.2 2080.3,410.2 2080.9,410.1 2081.5,410.1 2082.0,410.1 2082.6,410.1 2083.1,410.1 2083.7,410.0 2084.2,410.0 2084.8,410.0 2085.3,410.0 2085.9,410.0 2086.5,409.9 2087.0,409.9 2087.6,409.9 2088.1,409.9 2088.7,409.9 2089.2,409.8 2089.8,409.8 2090.3,409.8 2090.9,409.8 2091.5,409.8 2092.0,409.7 2092.6,409.7 2093.1,409.7 2093.7,409.7 2094.2,409.7 2094.8,409.6 2095.3,409.6 2095.9,409.6 2096.5,409.6 2097.0,409.6 2097.6,409.5 2098.1,409.5 2098.7,409.5 2099.2,409.5 2099.8,409.5 2100.3,409.4 2100.9,409.4 2101.5,409.4 2102.0,409.4 2102.6,409.4 2103.1,409.3 2103.7,409.3 2104.2,409.3 2104.8,409.3 2105.3,409.2 2105.9,409.2 2106.5,409.2 2107.0,409.2 2107.6,409.2 2108.1,409.1 2108.7,409.1 2109.2,409.1 2109.8,409.1 2110.3,409.1 2110.9,409.0 2111.4,409.0 2112.0,409.0 2112.6,409.0 2113.1,408.9 2113.7,408.9 2114.2,408.9 2114.8,408.9 2115.3,408.9 2115.9,408.8 2116.4,408.8 2117.0,408.8 2117.6,408.8 2118.1,408.7 2118.7,408.7 2119.2,408.7 2119.8,408.7 2120.3,408.6 2120.9,408.6 2121.4,408.6 2122.0,408.6 2122.6,408.5 2123.1,408.5 2123.7,408.5 2124.2,408.5 2124.8,408.5 2125.3,408.4 2125.9,408.4 2126.4,408.4 2127.0,408.4 2127.6,408.3 2128.1,408.3 2128.7,408.3 2129.2,408.3 2129.8,408.2 2130.3,408.2 2130.9,408.2 2131.4,408.2 2132.0,408.1 2132.6,408.1 2133.1,408.1 2133.7,408.1 2134.2,408.0 2134.8,408.0 2135.3,408.0 2135.9,408.0 2136.4,407.9 2137.0,407.9 2137.6,407.9 2138.1,407.9 2138.7,407.8 2139.2,407.8 2139.8,407.8 2140.3,407.7 2140.9,407.7 2141.4,407.7 2142.0,407.7 2142.6,407.6 2143.1,407.6 2143.7,407.6 2144.2,407.6 2144.8,407.5 2145.3,407.5 2145.9,407.5 2146.4,407.5 2147.0,407.4 2147.6,407.4 2148.1,407.4 2148.7,407.3 2149.2,407.3 2149.8,407.3 2150.3,407.3 2150.9,407.2 2151.4,407.2 2152.0,407.2 2152.6,407.1 2153.1,407.1 2153.7,407.1 2154.2,407.1 2154.8,407.0 2155.3,407.0 2155.9,407.0 2156.4,406.9 2157.0,406.9 2157.6,406.9 2158.1,406.8 2158.7,406.8 2159.2,406.8 2159.8,406.8 2160.3,406.7 2160.9,406.7 2161.4,406.7 2162.0,406.6 2162.6,406.6 2163.1,406.6 2163.7,406.5 2164.2,406.5 2164.8,406.5 2165.3,406.5 2165.9,406.4 2166.4,406.4 2167.0,406.4 2167.6,406.3 2168.1,406.3 2168.7,406.3 2169.2,406.2 2169.8,406.2 2170.3,406.2 2170.9,406.1 2171.4,406.1 2172.0,406.1 2172.6,406.0 2173.1,406.0 2173.7,406.0 2174.2,405.9 2174.8,405.9 2175.3,405.9 2175.9,405.8 2176.4,405.8 2177.0,405.8 2177.6,405.7 2178.1,405.7 2178.7,405.7 2179.2,405.6 2179.8,405.6 2180.3,405.6 2180.9,405.5 2181.4,405.5 2182.0,405.4 2182.6,405.4 2183.1,405.4 2183.7,405.3 2184.2,405.3 2184.8,405.3 2185.3,405.2 2185.9,405.2 2186.4,405.2 2187.0,405.1 2187.6,405.1 2188.1,405.0 2188.7,405.0 2189.2,405.0 2189.8,404.9 2190.3,404.9 2190.9,404.9 2191.4,404.8 2192.0,404.8 2192.6,404.7 2193.1,404.7 2193.7,404.7 2194.2,404.6 2194.8,404.6 2195.3,404.6 2195.9,404.5 2196.4,404.5 2197.0,404.4 2197.6,404.4 2198.1,404.4 2198.7,404.3 2199.2,404.3 2199.8,404.2 2200.3,404.2 2200.9,404.1 2201.4,404.1 2202.0,404.1 2202.6,404.0 2203.1,404.0 2203.7,403.9 2204.2,403.9 2204.8,403.9 2205.3,403.8 2205.9,403.8 2206.4,403.7 2207.0,403.7 2207.6,403.6 2208.1,403.6 2208.7,403.6 2209.2,403.5 2209.8,403.5 2210.3,403.4 2210.9,403.4 2211.4,403.3 2212.0,403.3 2212.6,403.2 2213.1,403.2 2213.7,403.2 2214.2,403.1 2214.8,403.1 2215.3,403.0 2215.9,403.0 2216.4,402.9 2217.0,402.9 2217.6,402.8 2218.1,402.8 2218.7,402.7 2219.2,402.7 2219.8,402.6 2220.3,402.6 2220.9,402.5 2221.4,402.5 2222.0,402.4 2222.5,402.4 2223.1,402.3 2223.7,402.3 2224.2,402.2 2224.8,402.2 2225.3,402.2 2225.9,402.1 2226.4,402.0 2227.0,402.0 2227.5,401.9 2228.1,401.9 2228.7,401.8 2229.2,401.8 2229.8,401.7 2230.3,401.7 2230.9,401.6 2231.4,401.6 2232.0,401.5 2232.5,401.5 2233.1,401.4 2233.7,401.4 2234.2,401.3 2234.8,401.3 2235.3,401.2 2235.9,401.2 2236.4,401.1 2237.0,401.0 2237.5,401.0 2238.1,400.9 2238.7,400.9 2239.2,400.8 2239.8,400.8 2240.3,400.7 2240.9,400.7 2241.4,400.6 2242.0,400.5 2242.5,400.5 2243.1,400.4 2243.7,400.4 2244.2,400.3 2244.8,400.3 2245.3,400.2 2245.9,400.1 2246.4,400.1 2247.0,400.0 2247.5,400.0 2248.1,399.9 2248.7,399.8 2249.2,399.8 2249.8,399.7 2250.3,399.7 2250.9,399.6 2251.4,399.5 2252.0,399.5 2252.5,399.4 2253.1,399.4 2253.7,399.3 2254.2,399.2 2254.8,399.2 2255.3,399.1 2255.9,399.0 2256.4,399.0 2257.0,398.9 2257.5,398.8 2258.1,398.8 2258.7,398.7 2259.2,398.6 2259.8,398.6 2260.3,398.5 2260.9,398.5 2261.4,398.4 2262.0,398.3 2262.5,398.3 2263.1,398.2 2263.7,398.1 2264.2,398.1 2264.8,398.0 2265.3,397.9 2265.9,397.8 2266.4,397.8 2267.0,397.7 2267.5,397.6 2268.1,397.6 2268.7,397.5 2269.2,397.4 2269.8,397.4 2270.3,397.3 2270.9,397.2 2271.4,397.1 2272.0,397.1 2272.5,397.0 2273.1,396.9 2273.7,396.9 2274.2,396.8 2274.8,396.7 2275.3,396.6 2275.9,396.6 2276.4,396.5 2277.0,396.4 2277.5,396.3 2278.1,396.3 2278.7,396.2 2279.2,396.1 2279.8,396.0 2280.3,396.0 2280.9,395.9 2281.4,395.8 2282.0,395.7 2282.5,395.7 2283.1,395.6 2283.7,395.5 2284.2,395.4 2284.8,395.4 2285.3,395.3 2285.9,395.2 2286.4,395.1 2287.0,395.1 2287.5,395.0 2288.1,394.9 2288.7,394.8 2289.2,394.7 2289.8,394.7 2290.3,394.6 2290.9,394.5 2291.4,394.4 2292.0,394.3 2292.5,394.3 2293.1,394.2 2293.7,394.1 2294.2,394.0 2294.8,393.9 2295.3,393.9 2295.9,393.8 2296.4,393.7 2297.0,393.6 2297.5,393.5 2298.1,393.4 2298.7,393.4 2299.2,393.3 2299.8,393.2 2300.3,393.1 2300.9,393.0 2301.4,393.0 2302.0,392.9 2302.5,392.8 2303.1,392.7 2303.7,392.6 2304.2,392.5 2304.8,392.5 2305.3,392.4 2305.9,392.3 2306.4,392.2 2307.0,392.1 2307.5,392.0 2308.1,392.0 2308.7,391.9 2309.2,391.8 2309.8,391.7 2310.3,391.6 2310.9,391.5 2311.4,391.5 2312.0,391.4 2312.5,391.3 2313.1,391.2 2313.7,391.1 2314.2,391.0 2314.8,391.0 2315.3,390.9 2315.9,390.8 2316.4,390.7 2317.0,390.6 2317.5,390.5 2318.1,390.5 2318.7,390.4 2319.2,390.3 2319.8,390.2 2320.3,390.1 2320.9,390.1 2321.4,390.0 2322.0,389.9 2322.5,389.8 2323.1,389.7 2323.7,389.7 2324.2,389.6 2324.8,389.5 2325.3,389.4 2325.9,389.3 2326.4,389.3 2327.0,389.2 2327.5,389.1 2328.1,389.0 2328.7,389.0 2329.2,388.9 2329.8,388.8 2330.3,388.8 2330.9,388.7 2331.4,388.6 2332.0,388.5 2332.5,388.5 2333.1,388.4 2333.6,388.3 2334.2,388.3 2334.8,388.2 2335.3,388.1 2335.9,388.1 2336.4,388.0 2337.0,387.9 2337.5,387.9 2338.1,387.8 2338.6,387.8 2339.2,387.7 2339.8,387.6 2340.3,387.6 2340.9,387.5 2341.4,387.5 2342.0,387.4 2342.5,387.4 2343.1,387.3 2343.6,387.3 2344.2,387.2 2344.8,387.2 2345.3,387.2 2345.9,387.1 2346.4,387.1 2347.0,387.0 2347.5,387.0 2348.1,387.0 2348.6,386.9 2349.2,386.9 2349.8,386.9 2350.3,386.9 2350.9,386.8 2351.4,386.8 2352.0,386.8 2352.5,386.8 2353.1,386.8 2353.6,386.8 2354.2,386.8 2354.8,386.8 2355.3,386.8 2355.9,386.8 2356.4,386.8 2357.0,386.8 2357.5,386.8 2358.1,386.8 2358.6,386.8 2359.2,386.8 2359.8,386.9 2360.3,386.9 2360.9,386.9 2361.4,387.0 2362.0,387.0 2362.5,387.0 2363.1,387.1 2363.6,387.1 2364.2,387.2 2364.8,387.3 2365.3,387.3 2365.9,387.4 2366.4,387.5 2367.0,387.5 2367.5,387.6 2368.1,387.7 2368.6,387.8 2369.2,387.9 2369.8,388.0 2370.3,388.1 2370.9,388.3 2371.4,388.4 2372.0,388.5 2372.5,388.6 2373.1,388.8 2373.6,388.9 2374.2,389.1 2374.8,389.3 2375.3,389.4 2375.9,389.6 2376.4,389.8 2377.0,390.0 2377.5,390.2 2378.1,390.4 2378.6,390.6 2379.2,390.9 2379.8,391.1 2380.3,391.3 2380.9,391.6 2381.4,391.9 2382.0,392.1 2382.5,392.4 2383.1,392.7 2383.6,393.0 2384.2,393.3 2384.8,393.7 2385.3,394.0 2385.9,394.3 2386.4,394.7 2387.0,395.1 2387.5,395.4 2388.1,395.8 2388.6,396.3 2389.2,396.7 2389.8,397.1 2390.3,397.6 2390.9,398.0 2391.4,398.5 2392.0,399.0 2392.5,399.5 2393.1,400.0 2393.6,400.5 2394.2,401.1 2394.8,401.7 2395.3,402.2 2395.9,402.8 2396.4,403.5 2397.0,404.1 2397.5,404.7 2398.1,405.4 2398.6,406.1 2399.2,406.8 2399.8,407.5 2400.3,408.3 2400.9,409.1 2401.4,409.8 2402.0,410.7 2402.5,411.5 2403.1,412.3 2403.6,413.2 2404.2,414.1 2404.8,415.0 2405.3,416.0 2405.9,416.9 2406.4,417.9 2407.0,418.9 2407.5,420.0 2408.1,421.1 2408.6,422.1 2409.2,423.3 2409.8,424.4 2410.3,425.6 2410.9,426.8 2411.4,428.0 2412.0,429.3 2412.5,430.6 2413.1,431.9 2413.6,433.2 2414.2,434.6 2414.8,436.0 2415.3,437.5 2415.9,438.9 2416.4,440.5 2417.0,442.0 2417.5,443.6 2418.1,445.2 2418.6,446.8 2419.2,448.5 2419.8,450.2 2420.3,452.0 2420.9,453.8 2421.4,455.6 2422.0,457.4 2422.5,459.3 2423.1,461.3 2423.6,463.2 2424.2,465.2 2424.8,467.3 2425.3,469.4 2425.9,471.5 2426.4,473.7 2427.0,475.9 2427.5,478.1 2428.1,480.4 2428.6,482.8 2429.2,485.1 2429.8,487.5 2430.3,490.0 2430.9,492.5 2431.4,495.0 2432.0,497.6 2432.5,500.2 2433.1,502.9 2433.6,505.6 2434.2,508.3 2434.8,511.1 2435.3,513.9 2435.9,516.8 2436.4,519.7 2437.0,522.6 2437.5,525.6 2438.1,528.6 2438.6,531.6 2439.2,534.7 2439.8,537.9 2440.3,541.0 2440.9,544.2 2441.4,547.4 2442.0,550.7 2442.5,554.0 2443.1,557.3 2443.6,560.7 2444.2,564.1 2444.7,567.5 2445.3,570.9 2445.9,574.4 2446.4,577.8 2447.0,581.3 2447.5,584.9 2448.1,588.4 2448.6,591.9 2449.2,595.5 2449.7,599.1 2450.3,602.6 2450.9,606.2 2451.4,609.8 2452.0,613.4 2452.5,616.9 2453.1,620.5 2453.6,624.1 2454.2,627.6 2454.7,631.2 2455.3,634.7 2455.9,638.2 2456.4,641.6 2457.0,645.1 2457.5,648.5 2458.1,651.9 2458.6,655.2 2459.2,658.5 2459.7,661.7 2460.3,664.9 2460.9,668.0 2461.4,671.1 2462.0,674.1 2462.5,677.0 2463.1,679.8 2463.6,682.6 2464.2,685.3 2464.7,687.9 2465.3,690.4 2465.9,692.8 2466.4,695.1 2467.0,697.3 2467.5,699.4 2468.1,701.3 2468.6,703.2 2469.2,704.9 2469.7,706.5 2470.3,707.9 2470.9,709.3 2471.4,710.4 2472.0,711.5 2472.5,712.4 2473.1,713.1 2473.6,713.6 2474.2,714.0 2474.7,714.3 2475.3,714.4 2475.9,714.3 2476.4,714.0 2477.0,713.5 2477.5,712.9 2478.1,712.1 2478.6,711.1 2479.2,709.9 2479.7,708.6 2480.3,707.0 2480.9,705.3 2481.4,703.4 2482.0,701.3 2482.5,699.0 2483.1,696.5 2483.6,693.8 2484.2,691.0 2484.7,688.0 2485.3,684.8 2485.9,681.4 2486.4,677.8 2487.0,674.1 2487.5,670.2 2488.1,666.1 2488.6,661.8 2489.2,657.5 2489.7,652.9 2490.3,648.2 2490.9,643.4 2491.4,638.4 2492.0,633.3 2492.5,628.0 2493.1,622.7 2493.6,617.2 2494.2,611.6 2494.7,605.9 2495.3,600.1" fill="none" stroke="#ff0000" stroke-width="18" stroke-linejoin="round"/>
<line clip-path="url(#cb)" x1="273.3" y1="1126.0" x2="2495.3" y2="1126.0" stroke="#ff0000" stroke-width="5.2" stroke-dasharray="19.8 8.47"/>
<rect x="273.3" y="78.4" width="2222.0" height="865.1" fill="none" stroke="#000" stroke-width="2.7" stroke-linejoin="miter"/>
<rect x="273.3" y="972.5" width="2222.0" height="287.79999999999995" fill="none" stroke="#000" stroke-width="2.7" stroke-linejoin="miter"/>
<path d="M273.3 943.5V964.0M273.3 1260.3V1280.8M551.0 943.5V964.0M551.0 1260.3V1280.8M828.8 943.5V964.0M828.8 1260.3V1280.8M1106.5 943.5V964.0M1106.5 1260.3V1280.8M1384.3 943.5V964.0M1384.3 1260.3V1280.8M1662.0 943.5V964.0M1662.0 1260.3V1280.8M1939.8 943.5V964.0M1939.8 1260.3V1280.8M2217.6 943.5V964.0M2217.6 1260.3V1280.8M2495.3 943.5V964.0M2495.3 1260.3V1280.8M273.3 236.5H252.8M273.3 424.9H252.8M273.3 613.3H252.8M273.3 801.8H252.8M273.3 1007.5H252.8M273.3 1126.0H252.8M273.3 1244.5H252.8" stroke="#000" stroke-width="3.4" fill="none"/>
<text x="237.3" y="254.5" font-size="50" text-anchor="end">15.88</text>
<text x="237.3" y="442.9" font-size="50" text-anchor="end">15.90</text>
<text x="237.3" y="631.3" font-size="50" text-anchor="end">15.92</text>
<text x="237.3" y="819.8" font-size="50" text-anchor="end">15.94</text>
<rect x="96.0" y="1011.8" width="27.9" height="3.0" fill="#000"/>
<text x="237.3" y="1025.5" font-size="50" text-anchor="end">0.025</text>
<text x="237.3" y="1144.0" font-size="50" text-anchor="end">0.000</text>
<text x="237.3" y="1262.5" font-size="50" text-anchor="end">0.025</text>
<text x="273.3" y="1328.5" font-size="50" text-anchor="middle">0.00</text>
<text x="551.0" y="1328.5" font-size="50" text-anchor="middle">0.25</text>
<text x="828.8" y="1328.5" font-size="50" text-anchor="middle">0.50</text>
<text x="1106.5" y="1328.5" font-size="50" text-anchor="middle">0.75</text>
<text x="1384.3" y="1328.5" font-size="50" text-anchor="middle">1.00</text>
<text x="1662.0" y="1328.5" font-size="50" text-anchor="middle">1.25</text>
<text x="1939.8" y="1328.5" font-size="50" text-anchor="middle">1.50</text>
<text x="2217.6" y="1328.5" font-size="50" text-anchor="middle">1.75</text>
<text x="2495.3" y="1328.5" font-size="50" text-anchor="middle">2.00</text>
<text x="1384.3" y="1391" font-size="54" text-anchor="middle">Orbital phase</text>
<text transform="translate(98,510.9) rotate(-90)" font-size="54" text-anchor="middle"><tspan font-style="italic">I</tspan>-band magnitude</text>
<text transform="translate(64.5,1116.4) rotate(-90)" font-size="54" text-anchor="middle">Δ<tspan font-style="italic">I</tspan> (mag)</text>
<g font-size="42.5"><text x="545.4" y="57.0" font-style="italic">P</text><text x="609.4" y="57.0">682.5891</text><text x="780.0" y="57.0">d,</text><text x="822.8" y="57.0" font-style="italic">e</text><text x="882.95" y="57.0">0.533,</text><text x="1000" y="57.0" font-style="italic">i</text><text x="1055.25" y="57.0">89.46°,</text><text x="1187.65" y="57.0" font-style="italic">ω</text><text x="1260.45" y="57.0">123.08°,</text><text x="1415.5" y="57.0" font-style="italic">T</text><text x="1498.55" y="57.0">9010.1113</text><text x="1689" y="57.0">HJD',</text><text x="1795.35" y="57.0" font-style="italic">S</text><text x="1858.15" y="57.0">0.00171,</text><text x="2019.1" y="57.0" font-style="italic">C</text><text x="2087.5" y="57.0">0.00067</text><text x="1438.6" y="62" font-size="31">0</text></g>
<path fill="#000" d="M574.8 40h26.5v2.84h-26.5zM574.8 49h26.5v2.84h-26.5zM848.4 40h26.5v2.84h-26.5zM848.4 49h26.5v2.84h-26.5zM1019.2 40h26.6v2.84h-26.6zM1019.2 49h26.6v2.84h-26.6zM1224.9 40h26.5v2.84h-26.5zM1224.9 49h26.5v2.84h-26.5zM1463.0 40h25.1v2.84h-25.1zM1463.0 49h25.1v2.84h-25.1zM1824.9 40h25.3v2.84h-25.3zM1824.9 49h25.3v2.84h-25.3zM2055 40h25.4v2.84h-25.4zM2055 49h25.4v2.84h-25.4z"/>
</svg></body></html>
